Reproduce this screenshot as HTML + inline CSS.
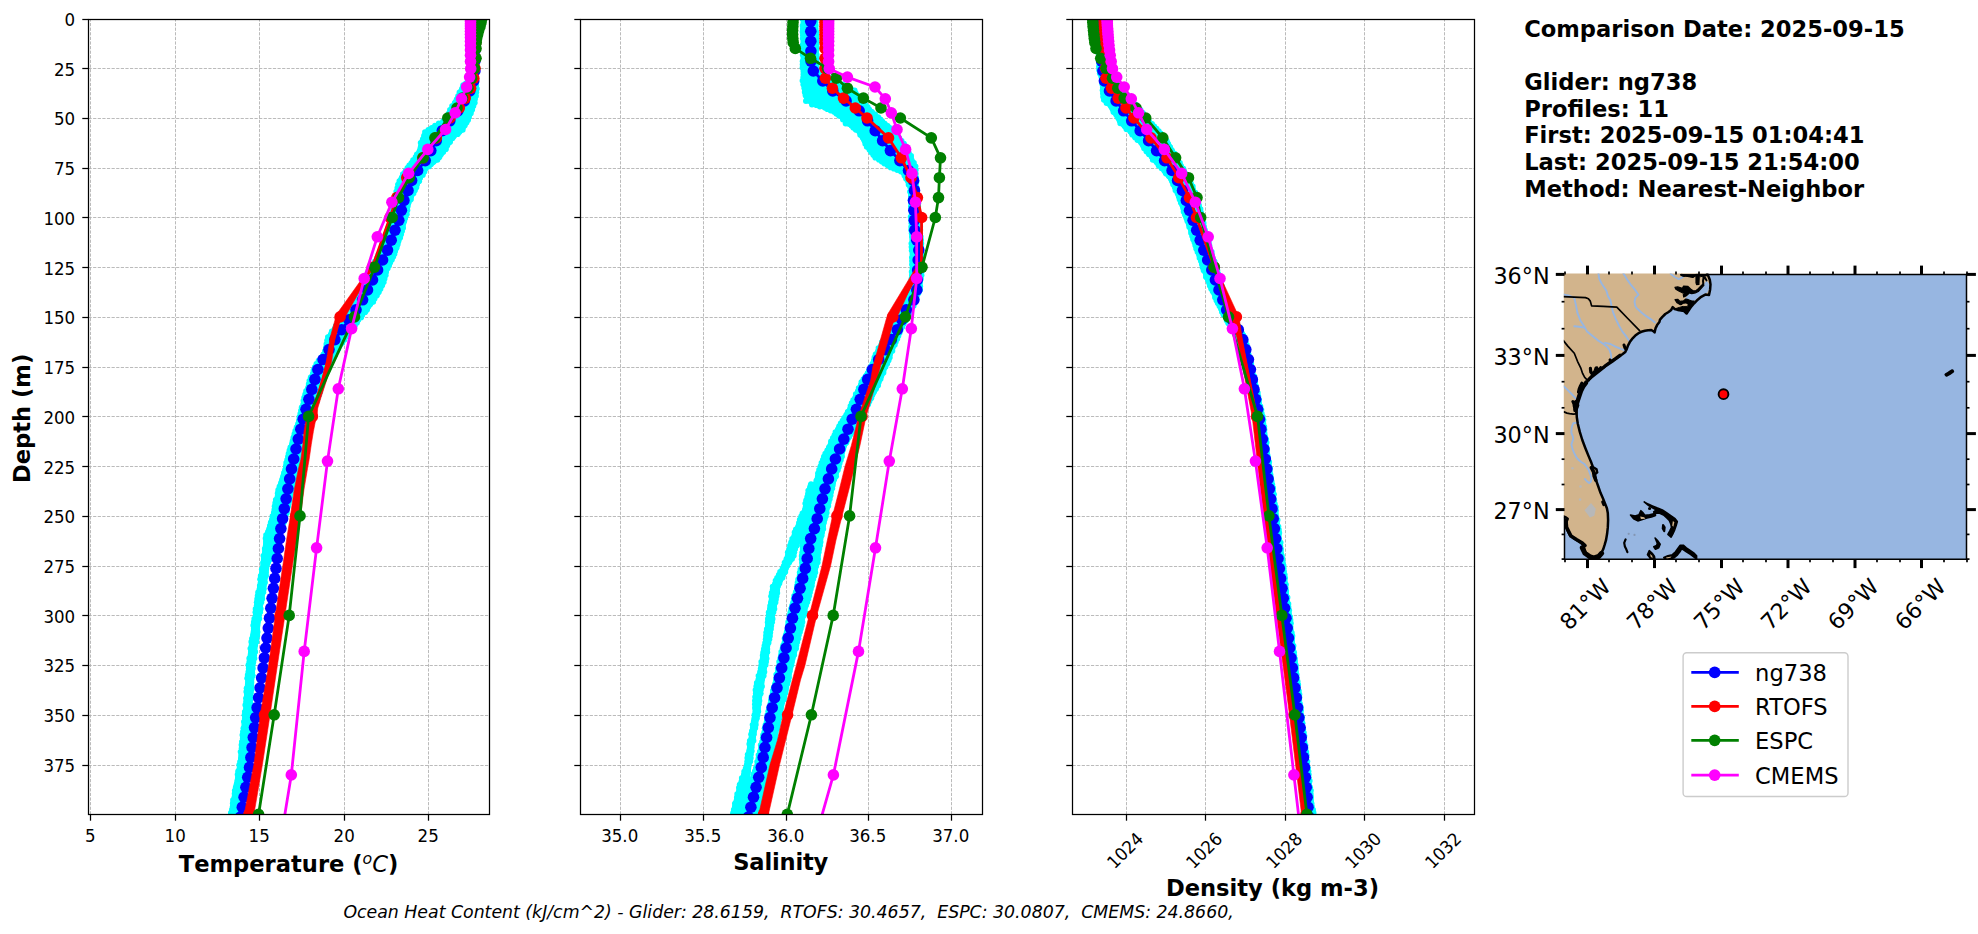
<!DOCTYPE html>
<html lang="en"><head><meta charset="utf-8"><title>Glider / model profile comparison</title>
<style>
html,body{margin:0;padding:0;background:#fff;}
body{width:1978px;height:934px;overflow:hidden;font-family:'DejaVu Sans','Liberation Sans',sans-serif;}
svg{display:block;font-family:'DejaVu Sans','Liberation Sans',sans-serif;}
</style></head><body>
<svg width="1978" height="934" viewBox="0 0 1978 934">
<rect width="1978" height="934" fill="#fff"/>
<clipPath id="clip0"><rect x="88.5" y="19.5" width="401" height="795"/></clipPath>
<g id="ax0-grid" stroke="#b0b0b0" stroke-width="0.87" stroke-dasharray="3.22 1.39" fill="none">
<line x1="90.5" y1="814.5" x2="90.5" y2="19.5"/>
<line x1="175.5" y1="814.5" x2="175.5" y2="19.5"/>
<line x1="259.5" y1="814.5" x2="259.5" y2="19.5"/>
<line x1="344.5" y1="814.5" x2="344.5" y2="19.5"/>
<line x1="428.5" y1="814.5" x2="428.5" y2="19.5"/>
<line x1="88.5" y1="68.5" x2="489.5" y2="68.5"/>
<line x1="88.5" y1="118.5" x2="489.5" y2="118.5"/>
<line x1="88.5" y1="168.5" x2="489.5" y2="168.5"/>
<line x1="88.5" y1="217.5" x2="489.5" y2="217.5"/>
<line x1="88.5" y1="267.5" x2="489.5" y2="267.5"/>
<line x1="88.5" y1="317.5" x2="489.5" y2="317.5"/>
<line x1="88.5" y1="367.5" x2="489.5" y2="367.5"/>
<line x1="88.5" y1="416.5" x2="489.5" y2="416.5"/>
<line x1="88.5" y1="466.5" x2="489.5" y2="466.5"/>
<line x1="88.5" y1="516.5" x2="489.5" y2="516.5"/>
<line x1="88.5" y1="566.5" x2="489.5" y2="566.5"/>
<line x1="88.5" y1="615.5" x2="489.5" y2="615.5"/>
<line x1="88.5" y1="665.5" x2="489.5" y2="665.5"/>
<line x1="88.5" y1="715.5" x2="489.5" y2="715.5"/>
<line x1="88.5" y1="765.5" x2="489.5" y2="765.5"/>
</g>
<g clip-path="url(#clip0)">
<polygon points="470.5,19 470.5,80 462.1,85 457.5,96 451.8,106 447.5,113.5 447.1,117 442.5,121 434.3,125.6 424.6,132 420.3,142.8 418.2,151.3 412.8,160 404.3,170.6 398.5,181 393.5,202 391.5,218 379.5,251 371.5,268 362.5,285 353.5,302 339.5,320 327.5,337 324.5,351 313.9,367 305.5,391 298.9,417 291.5,441 285,466 277.5,490 272.2,516 265.7,535 261.8,566 254.3,615.5 247.9,665 244.2,715 238.9,765 228.5,822.5 238.5,822.5 248.5,765 251.5,714.9 251,700 254,665.2 260,615.5 268,565.8 276.5,545 286.5,516 298.5,466 312.5,417 328.5,367 346.5,337 359.5,320 373.5,302 383,285.6 388.1,268.5 396.5,251 406.5,218 409.8,202.7 419.5,181.3 427,168.5 437.7,160 446.3,149.2 452.7,138.5 463.4,130 465.5,125.6 469.8,117 471.5,113.5 474.5,106 476.5,96 477.5,85 476.2,80.7 476.5,19" fill="#00ffff" stroke="#00ffff" stroke-width="3" stroke-linejoin="round"/>
<g fill="#00ffff"><circle cx="471.3" cy="19" r="2.8"/><circle cx="470.8" cy="22.2" r="2.8"/><circle cx="471.4" cy="25.4" r="2.8"/><circle cx="470.7" cy="28.6" r="2.8"/><circle cx="471.1" cy="31.8" r="2.8"/><circle cx="471.1" cy="35.1" r="2.8"/><circle cx="471.2" cy="38.3" r="2.8"/><circle cx="470.9" cy="41.5" r="2.8"/><circle cx="470.8" cy="44.7" r="2.8"/><circle cx="470.9" cy="47.9" r="2.8"/><circle cx="471.7" cy="51.1" r="2.8"/><circle cx="470.7" cy="54.3" r="2.8"/><circle cx="470.8" cy="57.5" r="2.8"/><circle cx="471.3" cy="60.7" r="2.8"/><circle cx="471.6" cy="63.9" r="2.8"/><circle cx="472.2" cy="67.2" r="2.8"/><circle cx="471.7" cy="70.4" r="2.8"/><circle cx="471" cy="73.6" r="2.8"/><circle cx="471.1" cy="76.8" r="2.8"/><circle cx="471.3" cy="80" r="2.8"/><circle cx="468" cy="81.7" r="2.8"/><circle cx="465.8" cy="83.3" r="2.8"/><circle cx="463.1" cy="85" r="2.8"/><circle cx="462.2" cy="88.7" r="2.8"/><circle cx="459.4" cy="92.3" r="2.8"/><circle cx="458" cy="96" r="2.8"/><circle cx="456.6" cy="99.3" r="2.8"/><circle cx="454.7" cy="102.7" r="2.8"/><circle cx="452" cy="106" r="2.8"/><circle cx="449.9" cy="109.8" r="2.8"/><circle cx="448.6" cy="113.5" r="2.8"/><circle cx="447.3" cy="117" r="2.8"/><circle cx="443.2" cy="121" r="2.8"/><circle cx="438.7" cy="123.3" r="2.8"/><circle cx="435" cy="125.6" r="2.8"/><circle cx="431.7" cy="127.7" r="2.8"/><circle cx="428.3" cy="129.9" r="2.8"/><circle cx="424.9" cy="132" r="2.8"/><circle cx="424" cy="135.6" r="2.8"/><circle cx="422.7" cy="139.2" r="2.8"/><circle cx="420.6" cy="142.8" r="2.8"/><circle cx="420.9" cy="147.1" r="2.8"/><circle cx="419.4" cy="151.3" r="2.8"/><circle cx="416.8" cy="154.2" r="2.8"/><circle cx="415.5" cy="157.1" r="2.8"/><circle cx="413" cy="160" r="2.8"/><circle cx="411.4" cy="162.7" r="2.8"/><circle cx="409.2" cy="165.3" r="2.8"/><circle cx="407.4" cy="167.9" r="2.8"/><circle cx="405.7" cy="170.6" r="2.8"/><circle cx="402.8" cy="174.1" r="2.8"/><circle cx="401.7" cy="177.5" r="2.8"/><circle cx="399.3" cy="181" r="2.8"/><circle cx="397.9" cy="184.5" r="2.8"/><circle cx="397.2" cy="188" r="2.8"/><circle cx="396.2" cy="191.5" r="2.8"/><circle cx="395.8" cy="195" r="2.8"/><circle cx="394.7" cy="198.5" r="2.8"/><circle cx="393.7" cy="202" r="2.8"/><circle cx="394.3" cy="205.2" r="2.8"/><circle cx="392.9" cy="208.4" r="2.8"/><circle cx="392.5" cy="211.6" r="2.8"/><circle cx="392.2" cy="214.8" r="2.8"/><circle cx="392.9" cy="218" r="2.8"/><circle cx="391" cy="221.3" r="2.8"/><circle cx="389.7" cy="224.6" r="2.8"/><circle cx="388.3" cy="227.9" r="2.8"/><circle cx="386.9" cy="231.2" r="2.8"/><circle cx="386" cy="234.5" r="2.8"/><circle cx="384.6" cy="237.8" r="2.8"/><circle cx="383.5" cy="241.1" r="2.8"/><circle cx="382.1" cy="244.4" r="2.8"/><circle cx="382.2" cy="247.7" r="2.8"/><circle cx="380.6" cy="251" r="2.8"/><circle cx="378.4" cy="254.4" r="2.8"/><circle cx="377" cy="257.8" r="2.8"/><circle cx="374.9" cy="261.2" r="2.8"/><circle cx="374.7" cy="264.6" r="2.8"/><circle cx="371.7" cy="268" r="2.8"/><circle cx="370.4" cy="270.8" r="2.8"/><circle cx="369.5" cy="273.7" r="2.8"/><circle cx="368" cy="276.5" r="2.8"/><circle cx="366.7" cy="279.3" r="2.8"/><circle cx="364.3" cy="282.2" r="2.8"/><circle cx="363.4" cy="285" r="2.8"/><circle cx="361.2" cy="287.8" r="2.8"/><circle cx="361.2" cy="290.7" r="2.8"/><circle cx="358.2" cy="293.5" r="2.8"/><circle cx="356.7" cy="296.3" r="2.8"/><circle cx="356.7" cy="299.2" r="2.8"/><circle cx="354.4" cy="302" r="2.8"/><circle cx="351.7" cy="304.6" r="2.8"/><circle cx="349.8" cy="307.1" r="2.8"/><circle cx="348.3" cy="309.7" r="2.8"/><circle cx="345.7" cy="312.3" r="2.8"/><circle cx="344.9" cy="314.9" r="2.8"/><circle cx="342" cy="317.4" r="2.8"/><circle cx="340.8" cy="320" r="2.8"/><circle cx="338.1" cy="322.8" r="2.8"/><circle cx="335.7" cy="325.7" r="2.8"/><circle cx="334.6" cy="328.5" r="2.8"/><circle cx="331.7" cy="331.3" r="2.8"/><circle cx="330.7" cy="334.2" r="2.8"/><circle cx="327.8" cy="337" r="2.8"/><circle cx="327" cy="340.5" r="2.8"/><circle cx="326.3" cy="344" r="2.8"/><circle cx="325.8" cy="347.5" r="2.8"/><circle cx="324.8" cy="351" r="2.8"/><circle cx="323.4" cy="354.2" r="2.8"/><circle cx="321.2" cy="357.4" r="2.8"/><circle cx="318.5" cy="360.6" r="2.8"/><circle cx="316.3" cy="363.8" r="2.8"/><circle cx="314.8" cy="367" r="2.8"/><circle cx="313.4" cy="370.4" r="2.8"/><circle cx="312.9" cy="373.9" r="2.8"/><circle cx="310.6" cy="377.3" r="2.8"/><circle cx="309.3" cy="380.7" r="2.8"/><circle cx="308.6" cy="384.1" r="2.8"/><circle cx="308.4" cy="387.6" r="2.8"/><circle cx="306" cy="391" r="2.8"/><circle cx="305.1" cy="394.2" r="2.8"/><circle cx="304.1" cy="397.5" r="2.8"/><circle cx="303.3" cy="400.8" r="2.8"/><circle cx="303.2" cy="404" r="2.8"/><circle cx="301.6" cy="407.2" r="2.8"/><circle cx="300.9" cy="410.5" r="2.8"/><circle cx="300.2" cy="413.8" r="2.8"/><circle cx="299.3" cy="417" r="2.8"/><circle cx="299" cy="420.4" r="2.8"/><circle cx="298.2" cy="423.9" r="2.8"/><circle cx="296.5" cy="427.3" r="2.8"/><circle cx="295.2" cy="430.7" r="2.8"/><circle cx="294.3" cy="434.1" r="2.8"/><circle cx="293.3" cy="437.6" r="2.8"/><circle cx="292.5" cy="441" r="2.8"/><circle cx="292.1" cy="444.1" r="2.8"/><circle cx="290.3" cy="447.2" r="2.8"/><circle cx="289.4" cy="450.4" r="2.8"/><circle cx="288.5" cy="453.5" r="2.8"/><circle cx="287.9" cy="456.6" r="2.8"/><circle cx="287.1" cy="459.8" r="2.8"/><circle cx="286.1" cy="462.9" r="2.8"/><circle cx="285.8" cy="466" r="2.8"/><circle cx="285.4" cy="469.4" r="2.8"/><circle cx="284" cy="472.9" r="2.8"/><circle cx="283.3" cy="476.3" r="2.8"/><circle cx="282.2" cy="479.7" r="2.8"/><circle cx="281.1" cy="483.1" r="2.8"/><circle cx="279.4" cy="486.6" r="2.8"/><circle cx="278.1" cy="490" r="2.8"/><circle cx="277.6" cy="493.2" r="2.8"/><circle cx="277.8" cy="496.5" r="2.8"/><circle cx="275.7" cy="499.8" r="2.8"/><circle cx="275.1" cy="503" r="2.8"/><circle cx="274.5" cy="506.2" r="2.8"/><circle cx="274.3" cy="509.5" r="2.8"/><circle cx="273.7" cy="512.8" r="2.8"/><circle cx="272.4" cy="516" r="2.8"/><circle cx="271.9" cy="519.2" r="2.8"/><circle cx="270.7" cy="522.3" r="2.8"/><circle cx="269.9" cy="525.5" r="2.8"/><circle cx="269.3" cy="528.7" r="2.8"/><circle cx="268" cy="531.8" r="2.8"/><circle cx="266" cy="535" r="2.8"/><circle cx="265.5" cy="538.4" r="2.8"/><circle cx="265.9" cy="541.9" r="2.8"/><circle cx="265.9" cy="545.3" r="2.8"/><circle cx="264.7" cy="548.8" r="2.8"/><circle cx="265" cy="552.2" r="2.8"/><circle cx="263.3" cy="555.7" r="2.8"/><circle cx="263.7" cy="559.1" r="2.8"/><circle cx="263" cy="562.6" r="2.8"/><circle cx="263.1" cy="566" r="2.8"/><circle cx="261.7" cy="569.3" r="2.8"/><circle cx="262" cy="572.6" r="2.8"/><circle cx="260.6" cy="575.9" r="2.8"/><circle cx="260" cy="579.2" r="2.8"/><circle cx="260.7" cy="582.5" r="2.8"/><circle cx="259.7" cy="585.8" r="2.8"/><circle cx="259.5" cy="589.1" r="2.8"/><circle cx="258" cy="592.4" r="2.8"/><circle cx="257.5" cy="595.7" r="2.8"/><circle cx="257" cy="599" r="2.8"/><circle cx="256.6" cy="602.3" r="2.8"/><circle cx="256.6" cy="605.6" r="2.8"/><circle cx="255.5" cy="608.9" r="2.8"/><circle cx="255.3" cy="612.2" r="2.8"/><circle cx="255.7" cy="615.5" r="2.8"/><circle cx="254.2" cy="618.8" r="2.8"/><circle cx="253.7" cy="622.1" r="2.8"/><circle cx="253.2" cy="625.4" r="2.8"/><circle cx="253.7" cy="628.7" r="2.8"/><circle cx="253.7" cy="632" r="2.8"/><circle cx="253" cy="635.3" r="2.8"/><circle cx="251.9" cy="638.6" r="2.8"/><circle cx="251.2" cy="641.9" r="2.8"/><circle cx="251.5" cy="645.2" r="2.8"/><circle cx="250.3" cy="648.5" r="2.8"/><circle cx="250.9" cy="651.8" r="2.8"/><circle cx="250.8" cy="655.1" r="2.8"/><circle cx="249.2" cy="658.4" r="2.8"/><circle cx="249.3" cy="661.7" r="2.8"/><circle cx="248.3" cy="665" r="2.8"/><circle cx="248.7" cy="668.3" r="2.8"/><circle cx="248.3" cy="671.7" r="2.8"/><circle cx="247.6" cy="675" r="2.8"/><circle cx="247.1" cy="678.3" r="2.8"/><circle cx="248.1" cy="681.7" r="2.8"/><circle cx="247.7" cy="685" r="2.8"/><circle cx="246.5" cy="688.3" r="2.8"/><circle cx="246.2" cy="691.7" r="2.8"/><circle cx="246.8" cy="695" r="2.8"/><circle cx="245.9" cy="698.3" r="2.8"/><circle cx="246" cy="701.7" r="2.8"/><circle cx="245.2" cy="705" r="2.8"/><circle cx="246.2" cy="708.3" r="2.8"/><circle cx="244.7" cy="711.7" r="2.8"/><circle cx="244.4" cy="715" r="2.8"/><circle cx="244.8" cy="718.3" r="2.8"/><circle cx="243.8" cy="721.7" r="2.8"/><circle cx="244.4" cy="725" r="2.8"/><circle cx="243.3" cy="728.3" r="2.8"/><circle cx="242.8" cy="731.7" r="2.8"/><circle cx="242.3" cy="735" r="2.8"/><circle cx="242.7" cy="738.3" r="2.8"/><circle cx="241.8" cy="741.7" r="2.8"/><circle cx="241.4" cy="745" r="2.8"/><circle cx="241.5" cy="748.3" r="2.8"/><circle cx="240.5" cy="751.7" r="2.8"/><circle cx="241.3" cy="755" r="2.8"/><circle cx="241" cy="758.3" r="2.8"/><circle cx="240" cy="761.7" r="2.8"/><circle cx="239.1" cy="765" r="2.8"/><circle cx="239.5" cy="768.2" r="2.8"/><circle cx="238" cy="771.4" r="2.8"/><circle cx="237.5" cy="774.6" r="2.8"/><circle cx="237.9" cy="777.8" r="2.8"/><circle cx="237.4" cy="781" r="2.8"/><circle cx="236.5" cy="784.2" r="2.8"/><circle cx="235.6" cy="787.4" r="2.8"/><circle cx="234.7" cy="790.6" r="2.8"/><circle cx="234.5" cy="793.8" r="2.8"/><circle cx="234.7" cy="796.9" r="2.8"/><circle cx="232.9" cy="800.1" r="2.8"/><circle cx="232.7" cy="803.3" r="2.8"/><circle cx="232.7" cy="806.5" r="2.8"/><circle cx="231.9" cy="809.7" r="2.8"/><circle cx="230.8" cy="812.9" r="2.8"/><circle cx="229.9" cy="816.1" r="2.8"/><circle cx="230.1" cy="819.3" r="2.8"/><circle cx="475.9" cy="19" r="2.8"/><circle cx="474.9" cy="22.2" r="2.8"/><circle cx="476.1" cy="25.5" r="2.8"/><circle cx="474.9" cy="28.7" r="2.8"/><circle cx="476.1" cy="32" r="2.8"/><circle cx="475" cy="35.2" r="2.8"/><circle cx="476.2" cy="38.5" r="2.8"/><circle cx="474.8" cy="41.7" r="2.8"/><circle cx="475.9" cy="45" r="2.8"/><circle cx="476.2" cy="48.2" r="2.8"/><circle cx="475.9" cy="51.5" r="2.8"/><circle cx="476.1" cy="54.7" r="2.8"/><circle cx="476" cy="58" r="2.8"/><circle cx="476.1" cy="61.2" r="2.8"/><circle cx="476.1" cy="64.5" r="2.8"/><circle cx="476" cy="67.7" r="2.8"/><circle cx="475.3" cy="71" r="2.8"/><circle cx="476" cy="74.2" r="2.8"/><circle cx="475.9" cy="77.5" r="2.8"/><circle cx="475.8" cy="80.7" r="2.8"/><circle cx="476.4" cy="85" r="2.8"/><circle cx="477" cy="88.7" r="2.8"/><circle cx="476.4" cy="92.3" r="2.8"/><circle cx="476.1" cy="96" r="2.8"/><circle cx="475" cy="99.3" r="2.8"/><circle cx="474.9" cy="102.7" r="2.8"/><circle cx="473.5" cy="106" r="2.8"/><circle cx="472.3" cy="109.8" r="2.8"/><circle cx="470.9" cy="113.5" r="2.8"/><circle cx="469.1" cy="117" r="2.8"/><circle cx="468.2" cy="119.9" r="2.8"/><circle cx="466.6" cy="122.7" r="2.8"/><circle cx="464.9" cy="125.6" r="2.8"/><circle cx="462.8" cy="130" r="2.8"/><circle cx="459.5" cy="132.1" r="2.8"/><circle cx="457.8" cy="134.2" r="2.8"/><circle cx="453.8" cy="136.4" r="2.8"/><circle cx="452.5" cy="138.5" r="2.8"/><circle cx="450.2" cy="142.1" r="2.8"/><circle cx="447.4" cy="145.6" r="2.8"/><circle cx="446" cy="149.2" r="2.8"/><circle cx="443.4" cy="151.9" r="2.8"/><circle cx="441.1" cy="154.6" r="2.8"/><circle cx="439.5" cy="157.3" r="2.8"/><circle cx="437.5" cy="160" r="2.8"/><circle cx="433.6" cy="162.1" r="2.8"/><circle cx="431.2" cy="164.2" r="2.8"/><circle cx="429.1" cy="166.4" r="2.8"/><circle cx="425.9" cy="168.5" r="2.8"/><circle cx="424.6" cy="171.7" r="2.8"/><circle cx="423" cy="174.9" r="2.8"/><circle cx="420.2" cy="178.1" r="2.8"/><circle cx="419.3" cy="181.3" r="2.8"/><circle cx="417.1" cy="184.4" r="2.8"/><circle cx="416.5" cy="187.4" r="2.8"/><circle cx="415" cy="190.5" r="2.8"/><circle cx="413.6" cy="193.5" r="2.8"/><circle cx="411.3" cy="196.6" r="2.8"/><circle cx="411" cy="199.6" r="2.8"/><circle cx="408.7" cy="202.7" r="2.8"/><circle cx="407.5" cy="206.5" r="2.8"/><circle cx="407.5" cy="210.3" r="2.8"/><circle cx="406.9" cy="214.2" r="2.8"/><circle cx="405.2" cy="218" r="2.8"/><circle cx="404.3" cy="221.3" r="2.8"/><circle cx="402.8" cy="224.6" r="2.8"/><circle cx="403.2" cy="227.9" r="2.8"/><circle cx="402.1" cy="231.2" r="2.8"/><circle cx="401.2" cy="234.5" r="2.8"/><circle cx="400.3" cy="237.8" r="2.8"/><circle cx="398.7" cy="241.1" r="2.8"/><circle cx="397.8" cy="244.4" r="2.8"/><circle cx="396.8" cy="247.7" r="2.8"/><circle cx="395.2" cy="251" r="2.8"/><circle cx="394.6" cy="253.9" r="2.8"/><circle cx="393.4" cy="256.8" r="2.8"/><circle cx="392" cy="259.8" r="2.8"/><circle cx="390.3" cy="262.7" r="2.8"/><circle cx="389.2" cy="265.6" r="2.8"/><circle cx="387.8" cy="268.5" r="2.8"/><circle cx="386.2" cy="271.9" r="2.8"/><circle cx="385.8" cy="275.3" r="2.8"/><circle cx="384.7" cy="278.8" r="2.8"/><circle cx="383.8" cy="282.2" r="2.8"/><circle cx="382.3" cy="285.6" r="2.8"/><circle cx="380.6" cy="288.9" r="2.8"/><circle cx="378.9" cy="292.2" r="2.8"/><circle cx="377" cy="295.4" r="2.8"/><circle cx="374.7" cy="298.7" r="2.8"/><circle cx="373.3" cy="302" r="2.8"/><circle cx="370.2" cy="304.6" r="2.8"/><circle cx="368.2" cy="307.1" r="2.8"/><circle cx="367.2" cy="309.7" r="2.8"/><circle cx="365.3" cy="312.3" r="2.8"/><circle cx="362.4" cy="314.9" r="2.8"/><circle cx="361.3" cy="317.4" r="2.8"/><circle cx="358.4" cy="320" r="2.8"/><circle cx="357.1" cy="322.8" r="2.8"/><circle cx="355" cy="325.7" r="2.8"/><circle cx="352.5" cy="328.5" r="2.8"/><circle cx="349.8" cy="331.3" r="2.8"/><circle cx="347.7" cy="334.2" r="2.8"/><circle cx="345.6" cy="337" r="2.8"/><circle cx="344.5" cy="340" r="2.8"/><circle cx="342.4" cy="343" r="2.8"/><circle cx="339.7" cy="346" r="2.8"/><circle cx="338.4" cy="349" r="2.8"/><circle cx="336.7" cy="352" r="2.8"/><circle cx="335.2" cy="355" r="2.8"/><circle cx="333.4" cy="358" r="2.8"/><circle cx="331.7" cy="361" r="2.8"/><circle cx="329.7" cy="364" r="2.8"/><circle cx="326.9" cy="367" r="2.8"/><circle cx="326.3" cy="370.1" r="2.8"/><circle cx="326.1" cy="373.2" r="2.8"/><circle cx="323.9" cy="376.4" r="2.8"/><circle cx="323.7" cy="379.5" r="2.8"/><circle cx="322.7" cy="382.6" r="2.8"/><circle cx="321.9" cy="385.8" r="2.8"/><circle cx="320.8" cy="388.9" r="2.8"/><circle cx="320.3" cy="392" r="2.8"/><circle cx="319.3" cy="395.1" r="2.8"/><circle cx="317.9" cy="398.2" r="2.8"/><circle cx="317.2" cy="401.4" r="2.8"/><circle cx="315.4" cy="404.5" r="2.8"/><circle cx="315.2" cy="407.6" r="2.8"/><circle cx="314.3" cy="410.8" r="2.8"/><circle cx="312.6" cy="413.9" r="2.8"/><circle cx="312.3" cy="417" r="2.8"/><circle cx="310.8" cy="420.3" r="2.8"/><circle cx="310.4" cy="423.5" r="2.8"/><circle cx="309.5" cy="426.8" r="2.8"/><circle cx="308.6" cy="430.1" r="2.8"/><circle cx="307.6" cy="433.3" r="2.8"/><circle cx="305.8" cy="436.6" r="2.8"/><circle cx="305.4" cy="439.9" r="2.8"/><circle cx="304.6" cy="443.1" r="2.8"/><circle cx="303.8" cy="446.4" r="2.8"/><circle cx="302.9" cy="449.7" r="2.8"/><circle cx="301.3" cy="452.9" r="2.8"/><circle cx="300.9" cy="456.2" r="2.8"/><circle cx="300.2" cy="459.5" r="2.8"/><circle cx="299.1" cy="462.7" r="2.8"/><circle cx="298.2" cy="466" r="2.8"/><circle cx="297.1" cy="469.1" r="2.8"/><circle cx="295.7" cy="472.2" r="2.8"/><circle cx="295.7" cy="475.4" r="2.8"/><circle cx="294.9" cy="478.5" r="2.8"/><circle cx="293.7" cy="481.6" r="2.8"/><circle cx="292.7" cy="484.8" r="2.8"/><circle cx="291.7" cy="487.9" r="2.8"/><circle cx="291.8" cy="491" r="2.8"/><circle cx="290.1" cy="494.1" r="2.8"/><circle cx="290" cy="497.2" r="2.8"/><circle cx="289.6" cy="500.4" r="2.8"/><circle cx="288.8" cy="503.5" r="2.8"/><circle cx="288.2" cy="506.6" r="2.8"/><circle cx="286.6" cy="509.8" r="2.8"/><circle cx="287" cy="512.9" r="2.8"/><circle cx="285.5" cy="516" r="2.8"/><circle cx="285.2" cy="519.2" r="2.8"/><circle cx="284" cy="522.4" r="2.8"/><circle cx="282.8" cy="525.7" r="2.8"/><circle cx="281.2" cy="528.9" r="2.8"/><circle cx="280.5" cy="532.1" r="2.8"/><circle cx="279.4" cy="535.3" r="2.8"/><circle cx="277.8" cy="538.6" r="2.8"/><circle cx="276.5" cy="541.8" r="2.8"/><circle cx="276.2" cy="545" r="2.8"/><circle cx="274" cy="548" r="2.8"/><circle cx="273.8" cy="550.9" r="2.8"/><circle cx="271.9" cy="553.9" r="2.8"/><circle cx="271.3" cy="556.9" r="2.8"/><circle cx="269.4" cy="559.9" r="2.8"/><circle cx="267.9" cy="562.8" r="2.8"/><circle cx="266.7" cy="565.8" r="2.8"/><circle cx="266.4" cy="569.1" r="2.8"/><circle cx="266.1" cy="572.4" r="2.8"/><circle cx="266.2" cy="575.7" r="2.8"/><circle cx="264.8" cy="579.1" r="2.8"/><circle cx="265.1" cy="582.4" r="2.8"/><circle cx="264" cy="585.7" r="2.8"/><circle cx="264" cy="589" r="2.8"/><circle cx="263.5" cy="592.3" r="2.8"/><circle cx="262.1" cy="595.6" r="2.8"/><circle cx="262.4" cy="598.9" r="2.8"/><circle cx="261.5" cy="602.2" r="2.8"/><circle cx="260.1" cy="605.6" r="2.8"/><circle cx="260.8" cy="608.9" r="2.8"/><circle cx="260.3" cy="612.2" r="2.8"/><circle cx="258.9" cy="615.5" r="2.8"/><circle cx="259.4" cy="618.8" r="2.8"/><circle cx="257.6" cy="622.1" r="2.8"/><circle cx="257.3" cy="625.4" r="2.8"/><circle cx="257" cy="628.8" r="2.8"/><circle cx="257.7" cy="632.1" r="2.8"/><circle cx="257.4" cy="635.4" r="2.8"/><circle cx="256.7" cy="638.7" r="2.8"/><circle cx="256.6" cy="642" r="2.8"/><circle cx="255.2" cy="645.3" r="2.8"/><circle cx="254.3" cy="648.6" r="2.8"/><circle cx="255.3" cy="651.9" r="2.8"/><circle cx="254.2" cy="655.3" r="2.8"/><circle cx="254.5" cy="658.6" r="2.8"/><circle cx="253.6" cy="661.9" r="2.8"/><circle cx="252.5" cy="665.2" r="2.8"/><circle cx="252.9" cy="668.7" r="2.8"/><circle cx="252.3" cy="672.2" r="2.8"/><circle cx="252.9" cy="675.6" r="2.8"/><circle cx="251.5" cy="679.1" r="2.8"/><circle cx="251.5" cy="682.6" r="2.8"/><circle cx="251.6" cy="686.1" r="2.8"/><circle cx="251.7" cy="689.6" r="2.8"/><circle cx="251" cy="693" r="2.8"/><circle cx="250.9" cy="696.5" r="2.8"/><circle cx="250.4" cy="700" r="2.8"/><circle cx="250.8" cy="703.7" r="2.8"/><circle cx="251" cy="707.5" r="2.8"/><circle cx="251.1" cy="711.2" r="2.8"/><circle cx="251.1" cy="714.9" r="2.8"/><circle cx="250.7" cy="718.2" r="2.8"/><circle cx="250.7" cy="721.6" r="2.8"/><circle cx="250.7" cy="724.9" r="2.8"/><circle cx="250" cy="728.3" r="2.8"/><circle cx="249.8" cy="731.6" r="2.8"/><circle cx="250.1" cy="734.9" r="2.8"/><circle cx="249.7" cy="738.3" r="2.8"/><circle cx="248.6" cy="741.6" r="2.8"/><circle cx="249.5" cy="745" r="2.8"/><circle cx="249.2" cy="748.3" r="2.8"/><circle cx="248.4" cy="751.6" r="2.8"/><circle cx="247.6" cy="755" r="2.8"/><circle cx="248.6" cy="758.3" r="2.8"/><circle cx="248.4" cy="761.7" r="2.8"/><circle cx="246.9" cy="765" r="2.8"/><circle cx="247.7" cy="768.2" r="2.8"/><circle cx="246.8" cy="771.4" r="2.8"/><circle cx="245.5" cy="774.6" r="2.8"/><circle cx="245.2" cy="777.8" r="2.8"/><circle cx="244.2" cy="781" r="2.8"/><circle cx="244.5" cy="784.2" r="2.8"/><circle cx="243.7" cy="787.4" r="2.8"/><circle cx="243.9" cy="790.6" r="2.8"/><circle cx="243.3" cy="793.8" r="2.8"/><circle cx="242.4" cy="796.9" r="2.8"/><circle cx="241.2" cy="800.1" r="2.8"/><circle cx="241.3" cy="803.3" r="2.8"/><circle cx="240.9" cy="806.5" r="2.8"/><circle cx="240" cy="809.7" r="2.8"/><circle cx="238.6" cy="812.9" r="2.8"/><circle cx="239.4" cy="816.1" r="2.8"/><circle cx="238.7" cy="819.3" r="2.8"/></g>
<polyline points="474.1,21.3 474.3,31.3 474.5,41.2 474.7,51.1 474.9,61.1 474.9,71 473.7,81 469.8,90.9 464.3,100.9 457.8,110.8 449.8,120.8 442.3,130.7 436.2,140.7 430.8,150.6 425.2,160.6 417.6,170.5 411.6,180.5 408,190.4 403.9,200.4 401.4,210.3 398.8,220.3 395,230.2 391.2,240.2 387.5,250.1 382.6,260 377.6,270 372.5,279.9 367.5,289.9 362.6,299.8 356,309.8 348.9,319.7 341.7,329.7 334.9,339.6 329,349.6 323.1,359.5 317.9,369.5 314.9,379.4 311.8,389.4 308.9,399.3 306,409.3 303.2,419.2 300.8,429.2 298.3,439.1 296,449 293.7,459 291.5,468.9 289.7,478.9 287.9,488.8 286.1,498.8 284.3,508.7 282.6,518.7 280.9,528.6 279.6,538.6 278.4,548.5 277.2,558.5 276,568.4 274.7,578.4 273.4,588.3 272.1,598.3 270.8,608.2 269.5,618.2 268.3,628.1 267,638.1 265.7,648 264.4,657.9 263.1,667.9 261.6,677.8 260.1,687.8 258.6,697.7 257.1,707.7 255.7,717.6 254.5,727.6 253.3,737.5 252.1,747.5 250.9,757.4 249.5,767.4 247.7,777.3 245.9,787.3 244.1,797.2 242.3,807.2 240.4,817.1 238.4,827.1" fill="none" stroke="#0000ff" stroke-width="2.8" stroke-linejoin="round" stroke-linecap="butt" />
<circle cx="474.1" cy="21.3" r="5.8" fill="#0000ff"/>
<circle cx="474.3" cy="31.3" r="5.8" fill="#0000ff"/>
<circle cx="474.5" cy="41.2" r="5.8" fill="#0000ff"/>
<circle cx="474.7" cy="51.1" r="5.8" fill="#0000ff"/>
<circle cx="474.9" cy="61.1" r="5.8" fill="#0000ff"/>
<circle cx="474.9" cy="71" r="5.8" fill="#0000ff"/>
<circle cx="473.7" cy="81" r="5.8" fill="#0000ff"/>
<circle cx="469.8" cy="90.9" r="5.8" fill="#0000ff"/>
<circle cx="464.3" cy="100.9" r="5.8" fill="#0000ff"/>
<circle cx="457.8" cy="110.8" r="5.8" fill="#0000ff"/>
<circle cx="449.8" cy="120.8" r="5.8" fill="#0000ff"/>
<circle cx="442.3" cy="130.7" r="5.8" fill="#0000ff"/>
<circle cx="436.2" cy="140.7" r="5.8" fill="#0000ff"/>
<circle cx="430.8" cy="150.6" r="5.8" fill="#0000ff"/>
<circle cx="425.2" cy="160.6" r="5.8" fill="#0000ff"/>
<circle cx="417.6" cy="170.5" r="5.8" fill="#0000ff"/>
<circle cx="411.6" cy="180.5" r="5.8" fill="#0000ff"/>
<circle cx="408" cy="190.4" r="5.8" fill="#0000ff"/>
<circle cx="403.9" cy="200.4" r="5.8" fill="#0000ff"/>
<circle cx="401.4" cy="210.3" r="5.8" fill="#0000ff"/>
<circle cx="398.8" cy="220.3" r="5.8" fill="#0000ff"/>
<circle cx="395" cy="230.2" r="5.8" fill="#0000ff"/>
<circle cx="391.2" cy="240.2" r="5.8" fill="#0000ff"/>
<circle cx="387.5" cy="250.1" r="5.8" fill="#0000ff"/>
<circle cx="382.6" cy="260" r="5.8" fill="#0000ff"/>
<circle cx="377.6" cy="270" r="5.8" fill="#0000ff"/>
<circle cx="372.5" cy="279.9" r="5.8" fill="#0000ff"/>
<circle cx="367.5" cy="289.9" r="5.8" fill="#0000ff"/>
<circle cx="362.6" cy="299.8" r="5.8" fill="#0000ff"/>
<circle cx="356" cy="309.8" r="5.8" fill="#0000ff"/>
<circle cx="348.9" cy="319.7" r="5.8" fill="#0000ff"/>
<circle cx="341.7" cy="329.7" r="5.8" fill="#0000ff"/>
<circle cx="334.9" cy="339.6" r="5.8" fill="#0000ff"/>
<circle cx="329" cy="349.6" r="5.8" fill="#0000ff"/>
<circle cx="323.1" cy="359.5" r="5.8" fill="#0000ff"/>
<circle cx="317.9" cy="369.5" r="5.8" fill="#0000ff"/>
<circle cx="314.9" cy="379.4" r="5.8" fill="#0000ff"/>
<circle cx="311.8" cy="389.4" r="5.8" fill="#0000ff"/>
<circle cx="308.9" cy="399.3" r="5.8" fill="#0000ff"/>
<circle cx="306" cy="409.3" r="5.8" fill="#0000ff"/>
<circle cx="303.2" cy="419.2" r="5.8" fill="#0000ff"/>
<circle cx="300.8" cy="429.2" r="5.8" fill="#0000ff"/>
<circle cx="298.3" cy="439.1" r="5.8" fill="#0000ff"/>
<circle cx="296" cy="449" r="5.8" fill="#0000ff"/>
<circle cx="293.7" cy="459" r="5.8" fill="#0000ff"/>
<circle cx="291.5" cy="468.9" r="5.8" fill="#0000ff"/>
<circle cx="289.7" cy="478.9" r="5.8" fill="#0000ff"/>
<circle cx="287.9" cy="488.8" r="5.8" fill="#0000ff"/>
<circle cx="286.1" cy="498.8" r="5.8" fill="#0000ff"/>
<circle cx="284.3" cy="508.7" r="5.8" fill="#0000ff"/>
<circle cx="282.6" cy="518.7" r="5.8" fill="#0000ff"/>
<circle cx="280.9" cy="528.6" r="5.8" fill="#0000ff"/>
<circle cx="279.6" cy="538.6" r="5.8" fill="#0000ff"/>
<circle cx="278.4" cy="548.5" r="5.8" fill="#0000ff"/>
<circle cx="277.2" cy="558.5" r="5.8" fill="#0000ff"/>
<circle cx="276" cy="568.4" r="5.8" fill="#0000ff"/>
<circle cx="274.7" cy="578.4" r="5.8" fill="#0000ff"/>
<circle cx="273.4" cy="588.3" r="5.8" fill="#0000ff"/>
<circle cx="272.1" cy="598.3" r="5.8" fill="#0000ff"/>
<circle cx="270.8" cy="608.2" r="5.8" fill="#0000ff"/>
<circle cx="269.5" cy="618.2" r="5.8" fill="#0000ff"/>
<circle cx="268.3" cy="628.1" r="5.8" fill="#0000ff"/>
<circle cx="267" cy="638.1" r="5.8" fill="#0000ff"/>
<circle cx="265.7" cy="648" r="5.8" fill="#0000ff"/>
<circle cx="264.4" cy="657.9" r="5.8" fill="#0000ff"/>
<circle cx="263.1" cy="667.9" r="5.8" fill="#0000ff"/>
<circle cx="261.6" cy="677.8" r="5.8" fill="#0000ff"/>
<circle cx="260.1" cy="687.8" r="5.8" fill="#0000ff"/>
<circle cx="258.6" cy="697.7" r="5.8" fill="#0000ff"/>
<circle cx="257.1" cy="707.7" r="5.8" fill="#0000ff"/>
<circle cx="255.7" cy="717.6" r="5.8" fill="#0000ff"/>
<circle cx="254.5" cy="727.6" r="5.8" fill="#0000ff"/>
<circle cx="253.3" cy="737.5" r="5.8" fill="#0000ff"/>
<circle cx="252.1" cy="747.5" r="5.8" fill="#0000ff"/>
<circle cx="250.9" cy="757.4" r="5.8" fill="#0000ff"/>
<circle cx="249.5" cy="767.4" r="5.8" fill="#0000ff"/>
<circle cx="247.7" cy="777.3" r="5.8" fill="#0000ff"/>
<circle cx="245.9" cy="787.3" r="5.8" fill="#0000ff"/>
<circle cx="244.1" cy="797.2" r="5.8" fill="#0000ff"/>
<circle cx="242.3" cy="807.2" r="5.8" fill="#0000ff"/>
<circle cx="240.4" cy="817.1" r="5.8" fill="#0000ff"/>
<circle cx="238.4" cy="827.1" r="5.8" fill="#0000ff"/>
<polyline points="476.5,18.5 476.5,22.5 476.5,26.5 476.5,30.5 475.8,34.4 475.8,38.4 475.8,42.4 475.5,48.4 475.5,58.3 475,68.3 473.8,78.2 470.6,88.2 465.2,98.1 459.3,108 450,118 436.3,137.9 422.8,157.8 406.8,177.7 396.8,197.6 390,217.5 372.3,267.2 340.1,316.9 312.4,416.4 295.8,515.9 280.1,615.4 264.5,714.8 249,814.3" fill="none" stroke="#ff0000" stroke-width="2.8" stroke-linejoin="round" stroke-linecap="butt" />
<polygon points="369.3,268.5 335.4,316 335,320 330.3,337 326.3,361.4 322,380 316,397.1 311.5,408.3 308,416.4 305.5,422.8 304,431.4 302.9,444.3 300.8,459.7 298.5,468.5 294.2,490 290.4,516 286.7,539 282.8,565.8 275.3,615.5 268.6,665.2 260.3,714.9 253.9,764.6 244.2,814.4 242,825 252,825 253.9,814.4 262.4,764.6 270,714.9 277.4,665.2 284.9,615.5 292.4,565.8 296.8,539 300.6,516 303.9,490 307.5,468.5 309.1,459.7 311.3,444.3 313.4,431.4 315.1,422.8 317,416.4 317.7,408.3 321.1,397.1 326.7,380 331.7,361.4 334.9,337 338.6,320 345.7,316 372.3,268.5" fill="#ff0000" stroke="#ff0000" stroke-width="0.6" stroke-linejoin="round"/>
<circle cx="476.5" cy="18.5" r="5.8" fill="#ff0000"/>
<circle cx="476.5" cy="22.5" r="5.8" fill="#ff0000"/>
<circle cx="476.5" cy="26.5" r="5.8" fill="#ff0000"/>
<circle cx="476.5" cy="30.5" r="5.8" fill="#ff0000"/>
<circle cx="475.8" cy="34.4" r="5.8" fill="#ff0000"/>
<circle cx="475.8" cy="38.4" r="5.8" fill="#ff0000"/>
<circle cx="475.8" cy="42.4" r="5.8" fill="#ff0000"/>
<circle cx="475.5" cy="48.4" r="5.8" fill="#ff0000"/>
<circle cx="475.5" cy="58.3" r="5.8" fill="#ff0000"/>
<circle cx="475" cy="68.3" r="5.8" fill="#ff0000"/>
<circle cx="473.8" cy="78.2" r="5.8" fill="#ff0000"/>
<circle cx="470.6" cy="88.2" r="5.8" fill="#ff0000"/>
<circle cx="465.2" cy="98.1" r="5.8" fill="#ff0000"/>
<circle cx="459.3" cy="108" r="5.8" fill="#ff0000"/>
<circle cx="450" cy="118" r="5.8" fill="#ff0000"/>
<circle cx="436.3" cy="137.9" r="5.8" fill="#ff0000"/>
<circle cx="422.8" cy="157.8" r="5.8" fill="#ff0000"/>
<circle cx="406.8" cy="177.7" r="5.8" fill="#ff0000"/>
<circle cx="396.8" cy="197.6" r="5.8" fill="#ff0000"/>
<circle cx="390" cy="217.5" r="5.8" fill="#ff0000"/>
<circle cx="372.3" cy="267.2" r="5.8" fill="#ff0000"/>
<circle cx="340.1" cy="316.9" r="5.8" fill="#ff0000"/>
<circle cx="312.4" cy="416.4" r="5.8" fill="#ff0000"/>
<circle cx="295.8" cy="515.9" r="5.8" fill="#ff0000"/>
<circle cx="280.1" cy="615.4" r="5.8" fill="#ff0000"/>
<circle cx="264.5" cy="714.8" r="5.8" fill="#ff0000"/>
<circle cx="249" cy="814.3" r="5.8" fill="#ff0000"/>
<polyline points="481.8,18.5 481,22.5 480,26.5 478.6,30.5 477.6,34.4 476.6,38.4 476.2,42.4 476,48.4 476,58.3 474.5,68.3 471.6,78.2 468,88.2 462.5,98.1 457,108 447.8,118 434.9,137.9 423.1,157.8 409.2,177.7 398.5,197.6 392.2,217.5 374.5,267.2 354.5,316.9 308.6,416.4 300,515.9 289.2,615.4 274.2,714.8 258.6,814.3" fill="none" stroke="#008000" stroke-width="2.8" stroke-linejoin="round" stroke-linecap="butt" />
<circle cx="481.8" cy="18.5" r="5.8" fill="#008000"/>
<circle cx="481" cy="22.5" r="5.8" fill="#008000"/>
<circle cx="480" cy="26.5" r="5.8" fill="#008000"/>
<circle cx="478.6" cy="30.5" r="5.8" fill="#008000"/>
<circle cx="477.6" cy="34.4" r="5.8" fill="#008000"/>
<circle cx="476.6" cy="38.4" r="5.8" fill="#008000"/>
<circle cx="476.2" cy="42.4" r="5.8" fill="#008000"/>
<circle cx="476" cy="48.4" r="5.8" fill="#008000"/>
<circle cx="476" cy="58.3" r="5.8" fill="#008000"/>
<circle cx="474.5" cy="68.3" r="5.8" fill="#008000"/>
<circle cx="471.6" cy="78.2" r="5.8" fill="#008000"/>
<circle cx="468" cy="88.2" r="5.8" fill="#008000"/>
<circle cx="462.5" cy="98.1" r="5.8" fill="#008000"/>
<circle cx="457" cy="108" r="5.8" fill="#008000"/>
<circle cx="447.8" cy="118" r="5.8" fill="#008000"/>
<circle cx="434.9" cy="137.9" r="5.8" fill="#008000"/>
<circle cx="423.1" cy="157.8" r="5.8" fill="#008000"/>
<circle cx="409.2" cy="177.7" r="5.8" fill="#008000"/>
<circle cx="398.5" cy="197.6" r="5.8" fill="#008000"/>
<circle cx="392.2" cy="217.5" r="5.8" fill="#008000"/>
<circle cx="374.5" cy="267.2" r="5.8" fill="#008000"/>
<circle cx="354.5" cy="316.9" r="5.8" fill="#008000"/>
<circle cx="308.6" cy="416.4" r="5.8" fill="#008000"/>
<circle cx="300" cy="515.9" r="5.8" fill="#008000"/>
<circle cx="289.2" cy="615.4" r="5.8" fill="#008000"/>
<circle cx="274.2" cy="714.8" r="5.8" fill="#008000"/>
<circle cx="258.6" cy="814.3" r="5.8" fill="#008000"/>
<polyline points="470.5,19.5 470.5,21.6 470.5,23.8 470.5,26.1 470.5,28.6 470.5,31.3 470.5,34.3 470.5,37.6 470.5,41.2 470.5,45.3 470.5,50 470.5,55.3 470.5,61.5 470.7,68.7 469.6,77.1 466.6,87 461.5,98.8 455.2,112.8 445.6,129.5 427.8,149.4 408.6,173.4 391.9,202.2 377.3,236.8 364.2,278.5 351.6,328.6 338.3,388.8 327.5,461.1 316.6,547.8 304.2,651.4 291.3,774.9 267.4,921.6" fill="none" stroke="#ff00ff" stroke-width="2.8" stroke-linejoin="round" stroke-linecap="butt" />
<circle cx="470.5" cy="19.5" r="5.8" fill="#ff00ff"/>
<circle cx="470.5" cy="21.6" r="5.8" fill="#ff00ff"/>
<circle cx="470.5" cy="23.8" r="5.8" fill="#ff00ff"/>
<circle cx="470.5" cy="26.1" r="5.8" fill="#ff00ff"/>
<circle cx="470.5" cy="28.6" r="5.8" fill="#ff00ff"/>
<circle cx="470.5" cy="31.3" r="5.8" fill="#ff00ff"/>
<circle cx="470.5" cy="34.3" r="5.8" fill="#ff00ff"/>
<circle cx="470.5" cy="37.6" r="5.8" fill="#ff00ff"/>
<circle cx="470.5" cy="41.2" r="5.8" fill="#ff00ff"/>
<circle cx="470.5" cy="45.3" r="5.8" fill="#ff00ff"/>
<circle cx="470.5" cy="50" r="5.8" fill="#ff00ff"/>
<circle cx="470.5" cy="55.3" r="5.8" fill="#ff00ff"/>
<circle cx="470.5" cy="61.5" r="5.8" fill="#ff00ff"/>
<circle cx="470.7" cy="68.7" r="5.8" fill="#ff00ff"/>
<circle cx="469.6" cy="77.1" r="5.8" fill="#ff00ff"/>
<circle cx="466.6" cy="87" r="5.8" fill="#ff00ff"/>
<circle cx="461.5" cy="98.8" r="5.8" fill="#ff00ff"/>
<circle cx="455.2" cy="112.8" r="5.8" fill="#ff00ff"/>
<circle cx="445.6" cy="129.5" r="5.8" fill="#ff00ff"/>
<circle cx="427.8" cy="149.4" r="5.8" fill="#ff00ff"/>
<circle cx="408.6" cy="173.4" r="5.8" fill="#ff00ff"/>
<circle cx="391.9" cy="202.2" r="5.8" fill="#ff00ff"/>
<circle cx="377.3" cy="236.8" r="5.8" fill="#ff00ff"/>
<circle cx="364.2" cy="278.5" r="5.8" fill="#ff00ff"/>
<circle cx="351.6" cy="328.6" r="5.8" fill="#ff00ff"/>
<circle cx="338.3" cy="388.8" r="5.8" fill="#ff00ff"/>
<circle cx="327.5" cy="461.1" r="5.8" fill="#ff00ff"/>
<circle cx="316.6" cy="547.8" r="5.8" fill="#ff00ff"/>
<circle cx="304.2" cy="651.4" r="5.8" fill="#ff00ff"/>
<circle cx="291.3" cy="774.9" r="5.8" fill="#ff00ff"/>
<circle cx="267.4" cy="921.6" r="5.8" fill="#ff00ff"/>
</g>
<g stroke="#000" stroke-width="1.25" fill="none">
<line x1="90.5" y1="814.5" x2="90.5" y2="820.7"/>
<line x1="175.5" y1="814.5" x2="175.5" y2="820.7"/>
<line x1="259.5" y1="814.5" x2="259.5" y2="820.7"/>
<line x1="344.5" y1="814.5" x2="344.5" y2="820.7"/>
<line x1="428.5" y1="814.5" x2="428.5" y2="820.7"/>
<line x1="82.3" y1="19.5" x2="88.5" y2="19.5"/>
<line x1="82.3" y1="68.5" x2="88.5" y2="68.5"/>
<line x1="82.3" y1="118.5" x2="88.5" y2="118.5"/>
<line x1="82.3" y1="168.5" x2="88.5" y2="168.5"/>
<line x1="82.3" y1="217.5" x2="88.5" y2="217.5"/>
<line x1="82.3" y1="267.5" x2="88.5" y2="267.5"/>
<line x1="82.3" y1="317.5" x2="88.5" y2="317.5"/>
<line x1="82.3" y1="367.5" x2="88.5" y2="367.5"/>
<line x1="82.3" y1="416.5" x2="88.5" y2="416.5"/>
<line x1="82.3" y1="466.5" x2="88.5" y2="466.5"/>
<line x1="82.3" y1="516.5" x2="88.5" y2="516.5"/>
<line x1="82.3" y1="566.5" x2="88.5" y2="566.5"/>
<line x1="82.3" y1="615.5" x2="88.5" y2="615.5"/>
<line x1="82.3" y1="665.5" x2="88.5" y2="665.5"/>
<line x1="82.3" y1="715.5" x2="88.5" y2="715.5"/>
<line x1="82.3" y1="765.5" x2="88.5" y2="765.5"/>
<rect x="88.5" y="19.5" width="401" height="795" stroke-linejoin="miter"/>
</g>
<clipPath id="clip1"><rect x="580.5" y="19.5" width="402" height="795"/></clipPath>
<g id="ax1-grid" stroke="#b0b0b0" stroke-width="0.87" stroke-dasharray="3.22 1.39" fill="none">
<line x1="620.5" y1="814.5" x2="620.5" y2="19.5"/>
<line x1="703.5" y1="814.5" x2="703.5" y2="19.5"/>
<line x1="786.5" y1="814.5" x2="786.5" y2="19.5"/>
<line x1="868.5" y1="814.5" x2="868.5" y2="19.5"/>
<line x1="951.5" y1="814.5" x2="951.5" y2="19.5"/>
<line x1="580.5" y1="68.5" x2="982.5" y2="68.5"/>
<line x1="580.5" y1="118.5" x2="982.5" y2="118.5"/>
<line x1="580.5" y1="168.5" x2="982.5" y2="168.5"/>
<line x1="580.5" y1="217.5" x2="982.5" y2="217.5"/>
<line x1="580.5" y1="267.5" x2="982.5" y2="267.5"/>
<line x1="580.5" y1="317.5" x2="982.5" y2="317.5"/>
<line x1="580.5" y1="367.5" x2="982.5" y2="367.5"/>
<line x1="580.5" y1="416.5" x2="982.5" y2="416.5"/>
<line x1="580.5" y1="466.5" x2="982.5" y2="466.5"/>
<line x1="580.5" y1="516.5" x2="982.5" y2="516.5"/>
<line x1="580.5" y1="566.5" x2="982.5" y2="566.5"/>
<line x1="580.5" y1="615.5" x2="982.5" y2="615.5"/>
<line x1="580.5" y1="665.5" x2="982.5" y2="665.5"/>
<line x1="580.5" y1="715.5" x2="982.5" y2="715.5"/>
<line x1="580.5" y1="765.5" x2="982.5" y2="765.5"/>
</g>
<g clip-path="url(#clip1)">
<polygon points="802.2,19 802.2,80.7 804.3,95.7 811.5,104 823.5,108 833.5,112 841.5,118 847.5,124 857.9,132 866.5,147 875,157.8 890,167.4 902.8,172.7 909.5,187.7 910,200 911,240 911.5,268 909.5,290 904.5,303 896.5,315 888.5,330 876.5,351 870,367 862.5,379 848.5,409 833.5,435 820.7,462.8 814.5,484 807.5,510 802,535.6 801,566 789.2,615.5 778,665 770.5,700 767,715 756,765 747.5,790 738.5,822.5 758.5,822.5 770.5,765 780.5,715 792.5,665 804.5,615.5 817.3,566 818.8,559 820.9,542 826.3,516.3 832.7,488.5 839.1,467 845.5,445.7 861.5,417 875.5,392 884.2,372.7 886.3,367 892.7,351 901.3,330 909.5,315 915.5,303 920.5,290 922.5,268 921.5,240 918.5,200 917,181.3 915.9,166.3 908.5,149 893.5,130 878.5,117 865.5,104.2 854.9,90.3 834.5,80 817.5,68 816.5,19" fill="#00ffff" stroke="#00ffff" stroke-width="3" stroke-linejoin="round"/>
<g fill="#00ffff"><circle cx="802.4" cy="19" r="2.8"/><circle cx="803.6" cy="22.2" r="2.8"/><circle cx="802.5" cy="25.5" r="2.8"/><circle cx="802.7" cy="28.7" r="2.8"/><circle cx="802.4" cy="32" r="2.8"/><circle cx="802.8" cy="35.2" r="2.8"/><circle cx="802.7" cy="38.5" r="2.8"/><circle cx="803.4" cy="41.7" r="2.8"/><circle cx="802.5" cy="45" r="2.8"/><circle cx="803.3" cy="48.2" r="2.8"/><circle cx="802.7" cy="51.5" r="2.8"/><circle cx="802.6" cy="54.7" r="2.8"/><circle cx="803.5" cy="58" r="2.8"/><circle cx="802.5" cy="61.2" r="2.8"/><circle cx="802.5" cy="64.5" r="2.8"/><circle cx="802.4" cy="67.7" r="2.8"/><circle cx="803.5" cy="71" r="2.8"/><circle cx="803.6" cy="74.2" r="2.8"/><circle cx="803.3" cy="77.5" r="2.8"/><circle cx="802.4" cy="80.7" r="2.8"/><circle cx="803.2" cy="84.5" r="2.8"/><circle cx="804.3" cy="88.2" r="2.8"/><circle cx="804.6" cy="92" r="2.8"/><circle cx="805.6" cy="95.7" r="2.8"/><circle cx="806.9" cy="98.5" r="2.8"/><circle cx="809.3" cy="101.2" r="2.8"/><circle cx="813" cy="104" r="2.8"/><circle cx="816.3" cy="105.3" r="2.8"/><circle cx="819.8" cy="106.7" r="2.8"/><circle cx="825.1" cy="108" r="2.8"/><circle cx="827.3" cy="109.3" r="2.8"/><circle cx="830.6" cy="110.7" r="2.8"/><circle cx="834" cy="112" r="2.8"/><circle cx="836.4" cy="114" r="2.8"/><circle cx="839.1" cy="116" r="2.8"/><circle cx="842.7" cy="118" r="2.8"/><circle cx="845.8" cy="121" r="2.8"/><circle cx="848.6" cy="124" r="2.8"/><circle cx="851.7" cy="126" r="2.8"/><circle cx="853.4" cy="128" r="2.8"/><circle cx="855.8" cy="130" r="2.8"/><circle cx="859.3" cy="132" r="2.8"/><circle cx="860.1" cy="135" r="2.8"/><circle cx="863" cy="138" r="2.8"/><circle cx="864.5" cy="141" r="2.8"/><circle cx="865.2" cy="144" r="2.8"/><circle cx="866.7" cy="147" r="2.8"/><circle cx="869.3" cy="149.7" r="2.8"/><circle cx="871.3" cy="152.4" r="2.8"/><circle cx="873.2" cy="155.1" r="2.8"/><circle cx="875.2" cy="157.8" r="2.8"/><circle cx="878.8" cy="159.7" r="2.8"/><circle cx="881.5" cy="161.6" r="2.8"/><circle cx="884.2" cy="163.6" r="2.8"/><circle cx="887.6" cy="165.5" r="2.8"/><circle cx="890.5" cy="167.4" r="2.8"/><circle cx="893.8" cy="168.7" r="2.8"/><circle cx="897.1" cy="170.1" r="2.8"/><circle cx="900.7" cy="171.4" r="2.8"/><circle cx="903" cy="172.7" r="2.8"/><circle cx="904.4" cy="175.7" r="2.8"/><circle cx="905.9" cy="178.7" r="2.8"/><circle cx="908.1" cy="181.7" r="2.8"/><circle cx="908.5" cy="184.7" r="2.8"/><circle cx="910.3" cy="187.7" r="2.8"/><circle cx="909.9" cy="191.8" r="2.8"/><circle cx="910.8" cy="195.9" r="2.8"/><circle cx="910.5" cy="200" r="2.8"/><circle cx="911.2" cy="203.3" r="2.8"/><circle cx="910.8" cy="206.7" r="2.8"/><circle cx="911.1" cy="210" r="2.8"/><circle cx="911.9" cy="213.3" r="2.8"/><circle cx="910.6" cy="216.7" r="2.8"/><circle cx="911" cy="220" r="2.8"/><circle cx="911.3" cy="223.3" r="2.8"/><circle cx="911.1" cy="226.7" r="2.8"/><circle cx="911" cy="230" r="2.8"/><circle cx="911.6" cy="233.3" r="2.8"/><circle cx="911.9" cy="236.7" r="2.8"/><circle cx="912.5" cy="240" r="2.8"/><circle cx="911.3" cy="243.5" r="2.8"/><circle cx="911.4" cy="247" r="2.8"/><circle cx="911.6" cy="250.5" r="2.8"/><circle cx="912.5" cy="254" r="2.8"/><circle cx="911.8" cy="257.5" r="2.8"/><circle cx="911.9" cy="261" r="2.8"/><circle cx="911.9" cy="264.5" r="2.8"/><circle cx="912.3" cy="268" r="2.8"/><circle cx="911.6" cy="271.7" r="2.8"/><circle cx="911.9" cy="275.3" r="2.8"/><circle cx="911.3" cy="279" r="2.8"/><circle cx="910.4" cy="282.7" r="2.8"/><circle cx="910.4" cy="286.3" r="2.8"/><circle cx="910.7" cy="290" r="2.8"/><circle cx="908.9" cy="293.2" r="2.8"/><circle cx="907.2" cy="296.5" r="2.8"/><circle cx="906.9" cy="299.8" r="2.8"/><circle cx="904.7" cy="303" r="2.8"/><circle cx="903.7" cy="306" r="2.8"/><circle cx="902" cy="309" r="2.8"/><circle cx="900.2" cy="312" r="2.8"/><circle cx="896.8" cy="315" r="2.8"/><circle cx="895.6" cy="318" r="2.8"/><circle cx="894.6" cy="321" r="2.8"/><circle cx="892.7" cy="324" r="2.8"/><circle cx="890.5" cy="327" r="2.8"/><circle cx="888.8" cy="330" r="2.8"/><circle cx="888.4" cy="333" r="2.8"/><circle cx="886.7" cy="336" r="2.8"/><circle cx="885" cy="339" r="2.8"/><circle cx="881.8" cy="342" r="2.8"/><circle cx="881.1" cy="345" r="2.8"/><circle cx="878.4" cy="348" r="2.8"/><circle cx="878.2" cy="351" r="2.8"/><circle cx="875.5" cy="354.2" r="2.8"/><circle cx="874.4" cy="357.4" r="2.8"/><circle cx="873.7" cy="360.6" r="2.8"/><circle cx="872.4" cy="363.8" r="2.8"/><circle cx="870.4" cy="367" r="2.8"/><circle cx="868.9" cy="370" r="2.8"/><circle cx="867.7" cy="373" r="2.8"/><circle cx="865.7" cy="376" r="2.8"/><circle cx="863.4" cy="379" r="2.8"/><circle cx="861.3" cy="382" r="2.8"/><circle cx="860.7" cy="385" r="2.8"/><circle cx="858.6" cy="388" r="2.8"/><circle cx="857.8" cy="391" r="2.8"/><circle cx="855.7" cy="394" r="2.8"/><circle cx="855.4" cy="397" r="2.8"/><circle cx="853.1" cy="400" r="2.8"/><circle cx="851.6" cy="403" r="2.8"/><circle cx="850.4" cy="406" r="2.8"/><circle cx="850.2" cy="409" r="2.8"/><circle cx="847.6" cy="411.9" r="2.8"/><circle cx="846.2" cy="414.8" r="2.8"/><circle cx="844.1" cy="417.7" r="2.8"/><circle cx="842.5" cy="420.6" r="2.8"/><circle cx="840.6" cy="423.4" r="2.8"/><circle cx="839" cy="426.3" r="2.8"/><circle cx="837.8" cy="429.2" r="2.8"/><circle cx="835.4" cy="432.1" r="2.8"/><circle cx="834.4" cy="435" r="2.8"/><circle cx="832.7" cy="438.1" r="2.8"/><circle cx="830.9" cy="441.2" r="2.8"/><circle cx="830.7" cy="444.3" r="2.8"/><circle cx="828.8" cy="447.4" r="2.8"/><circle cx="827.2" cy="450.4" r="2.8"/><circle cx="825.2" cy="453.5" r="2.8"/><circle cx="823.8" cy="456.6" r="2.8"/><circle cx="822.8" cy="459.7" r="2.8"/><circle cx="821.4" cy="462.8" r="2.8"/><circle cx="820.4" cy="466.3" r="2.8"/><circle cx="819" cy="469.9" r="2.8"/><circle cx="817.9" cy="473.4" r="2.8"/><circle cx="817.7" cy="476.9" r="2.8"/><circle cx="816.3" cy="480.5" r="2.8"/><circle cx="815.6" cy="484" r="2.8"/><circle cx="813.9" cy="487.2" r="2.8"/><circle cx="813.2" cy="490.5" r="2.8"/><circle cx="812.6" cy="493.8" r="2.8"/><circle cx="811.7" cy="497" r="2.8"/><circle cx="810.4" cy="500.2" r="2.8"/><circle cx="809.7" cy="503.5" r="2.8"/><circle cx="808.6" cy="506.8" r="2.8"/><circle cx="808.2" cy="510" r="2.8"/><circle cx="808.1" cy="513.2" r="2.8"/><circle cx="806.4" cy="516.4" r="2.8"/><circle cx="805.7" cy="519.6" r="2.8"/><circle cx="805.5" cy="522.8" r="2.8"/><circle cx="804.4" cy="526" r="2.8"/><circle cx="804.8" cy="529.2" r="2.8"/><circle cx="803.1" cy="532.4" r="2.8"/><circle cx="803" cy="535.6" r="2.8"/><circle cx="802.4" cy="539" r="2.8"/><circle cx="802" cy="542.4" r="2.8"/><circle cx="802.6" cy="545.7" r="2.8"/><circle cx="802.6" cy="549.1" r="2.8"/><circle cx="802.1" cy="552.5" r="2.8"/><circle cx="801.6" cy="555.9" r="2.8"/><circle cx="801.6" cy="559.2" r="2.8"/><circle cx="801.9" cy="562.6" r="2.8"/><circle cx="802.2" cy="566" r="2.8"/><circle cx="800.4" cy="569.3" r="2.8"/><circle cx="799.6" cy="572.6" r="2.8"/><circle cx="799.5" cy="575.9" r="2.8"/><circle cx="798.1" cy="579.2" r="2.8"/><circle cx="797.5" cy="582.5" r="2.8"/><circle cx="796.9" cy="585.8" r="2.8"/><circle cx="796.8" cy="589.1" r="2.8"/><circle cx="795.6" cy="592.4" r="2.8"/><circle cx="794.1" cy="595.7" r="2.8"/><circle cx="793.6" cy="599" r="2.8"/><circle cx="793" cy="602.3" r="2.8"/><circle cx="792" cy="605.6" r="2.8"/><circle cx="791" cy="608.9" r="2.8"/><circle cx="790.3" cy="612.2" r="2.8"/><circle cx="789.4" cy="615.5" r="2.8"/><circle cx="789.5" cy="618.8" r="2.8"/><circle cx="788.1" cy="622.1" r="2.8"/><circle cx="787.9" cy="625.4" r="2.8"/><circle cx="787.8" cy="628.7" r="2.8"/><circle cx="786.6" cy="632" r="2.8"/><circle cx="785.6" cy="635.3" r="2.8"/><circle cx="784.5" cy="638.6" r="2.8"/><circle cx="784.7" cy="641.9" r="2.8"/><circle cx="783.1" cy="645.2" r="2.8"/><circle cx="782.5" cy="648.5" r="2.8"/><circle cx="781.2" cy="651.8" r="2.8"/><circle cx="780.9" cy="655.1" r="2.8"/><circle cx="780.2" cy="658.4" r="2.8"/><circle cx="779.1" cy="661.7" r="2.8"/><circle cx="779.4" cy="665" r="2.8"/><circle cx="777.8" cy="668.2" r="2.8"/><circle cx="778.2" cy="671.4" r="2.8"/><circle cx="776.2" cy="674.5" r="2.8"/><circle cx="776.4" cy="677.7" r="2.8"/><circle cx="775.7" cy="680.9" r="2.8"/><circle cx="775" cy="684.1" r="2.8"/><circle cx="773.7" cy="687.3" r="2.8"/><circle cx="772.8" cy="690.5" r="2.8"/><circle cx="772.6" cy="693.6" r="2.8"/><circle cx="771.4" cy="696.8" r="2.8"/><circle cx="770.8" cy="700" r="2.8"/><circle cx="770.3" cy="703.8" r="2.8"/><circle cx="769" cy="707.5" r="2.8"/><circle cx="768.2" cy="711.2" r="2.8"/><circle cx="767.2" cy="715" r="2.8"/><circle cx="767.1" cy="718.3" r="2.8"/><circle cx="766.6" cy="721.7" r="2.8"/><circle cx="765.3" cy="725" r="2.8"/><circle cx="764.5" cy="728.3" r="2.8"/><circle cx="764.3" cy="731.7" r="2.8"/><circle cx="763" cy="735" r="2.8"/><circle cx="762.7" cy="738.3" r="2.8"/><circle cx="762.1" cy="741.7" r="2.8"/><circle cx="760.6" cy="745" r="2.8"/><circle cx="761.1" cy="748.3" r="2.8"/><circle cx="759.7" cy="751.7" r="2.8"/><circle cx="758.4" cy="755" r="2.8"/><circle cx="758.4" cy="758.3" r="2.8"/><circle cx="757.1" cy="761.7" r="2.8"/><circle cx="757.5" cy="765" r="2.8"/><circle cx="755.8" cy="768.1" r="2.8"/><circle cx="754.7" cy="771.2" r="2.8"/><circle cx="753.3" cy="774.4" r="2.8"/><circle cx="753.3" cy="777.5" r="2.8"/><circle cx="751" cy="780.6" r="2.8"/><circle cx="750.5" cy="783.8" r="2.8"/><circle cx="749" cy="786.9" r="2.8"/><circle cx="747.9" cy="790" r="2.8"/><circle cx="747.2" cy="793.2" r="2.8"/><circle cx="746.2" cy="796.5" r="2.8"/><circle cx="746" cy="799.8" r="2.8"/><circle cx="744.3" cy="803" r="2.8"/><circle cx="743.3" cy="806.2" r="2.8"/><circle cx="743.6" cy="809.5" r="2.8"/><circle cx="742.8" cy="812.8" r="2.8"/><circle cx="741.8" cy="816" r="2.8"/><circle cx="739.7" cy="819.2" r="2.8"/><circle cx="816.2" cy="19" r="2.8"/><circle cx="815.6" cy="22.3" r="2.8"/><circle cx="815.8" cy="25.5" r="2.8"/><circle cx="815.7" cy="28.8" r="2.8"/><circle cx="816.4" cy="32.1" r="2.8"/><circle cx="816.4" cy="35.3" r="2.8"/><circle cx="816.3" cy="38.6" r="2.8"/><circle cx="816.6" cy="41.9" r="2.8"/><circle cx="816.6" cy="45.1" r="2.8"/><circle cx="816.8" cy="48.4" r="2.8"/><circle cx="816.2" cy="51.7" r="2.8"/><circle cx="816.8" cy="54.9" r="2.8"/><circle cx="817" cy="58.2" r="2.8"/><circle cx="816.6" cy="61.5" r="2.8"/><circle cx="816.6" cy="64.7" r="2.8"/><circle cx="816.6" cy="68" r="2.8"/><circle cx="820.1" cy="70" r="2.8"/><circle cx="822.6" cy="72" r="2.8"/><circle cx="825.8" cy="74" r="2.8"/><circle cx="827.7" cy="76" r="2.8"/><circle cx="830.2" cy="78" r="2.8"/><circle cx="834.3" cy="80" r="2.8"/><circle cx="837.2" cy="81.5" r="2.8"/><circle cx="838.9" cy="82.9" r="2.8"/><circle cx="842.9" cy="84.4" r="2.8"/><circle cx="845" cy="85.9" r="2.8"/><circle cx="847.8" cy="87.4" r="2.8"/><circle cx="851" cy="88.8" r="2.8"/><circle cx="854.7" cy="90.3" r="2.8"/><circle cx="855.7" cy="93.1" r="2.8"/><circle cx="858.8" cy="95.9" r="2.8"/><circle cx="860.8" cy="98.6" r="2.8"/><circle cx="862.1" cy="101.4" r="2.8"/><circle cx="865.3" cy="104.2" r="2.8"/><circle cx="867.7" cy="106.8" r="2.8"/><circle cx="869.2" cy="109.3" r="2.8"/><circle cx="872" cy="111.9" r="2.8"/><circle cx="875.2" cy="114.4" r="2.8"/><circle cx="878.3" cy="117" r="2.8"/><circle cx="880.5" cy="119.2" r="2.8"/><circle cx="882.3" cy="121.3" r="2.8"/><circle cx="884.7" cy="123.5" r="2.8"/><circle cx="887.7" cy="125.7" r="2.8"/><circle cx="889.8" cy="127.8" r="2.8"/><circle cx="892.4" cy="130" r="2.8"/><circle cx="895.4" cy="132.7" r="2.8"/><circle cx="896.8" cy="135.4" r="2.8"/><circle cx="899.4" cy="138.1" r="2.8"/><circle cx="901.7" cy="140.9" r="2.8"/><circle cx="904" cy="143.6" r="2.8"/><circle cx="905.9" cy="146.3" r="2.8"/><circle cx="908.1" cy="149" r="2.8"/><circle cx="908.6" cy="152.5" r="2.8"/><circle cx="911.2" cy="155.9" r="2.8"/><circle cx="911.4" cy="159.4" r="2.8"/><circle cx="914" cy="162.8" r="2.8"/><circle cx="915.6" cy="166.3" r="2.8"/><circle cx="915.9" cy="170.1" r="2.8"/><circle cx="915.9" cy="173.8" r="2.8"/><circle cx="916.2" cy="177.6" r="2.8"/><circle cx="916.7" cy="181.3" r="2.8"/><circle cx="915.9" cy="185" r="2.8"/><circle cx="917.2" cy="188.8" r="2.8"/><circle cx="916.5" cy="192.5" r="2.8"/><circle cx="918" cy="196.3" r="2.8"/><circle cx="918" cy="200" r="2.8"/><circle cx="918.4" cy="203.3" r="2.8"/><circle cx="918.3" cy="206.7" r="2.8"/><circle cx="918.2" cy="210" r="2.8"/><circle cx="919.2" cy="213.3" r="2.8"/><circle cx="918.2" cy="216.7" r="2.8"/><circle cx="918.8" cy="220" r="2.8"/><circle cx="919" cy="223.3" r="2.8"/><circle cx="920.3" cy="226.7" r="2.8"/><circle cx="920.4" cy="230" r="2.8"/><circle cx="920.2" cy="233.3" r="2.8"/><circle cx="920.9" cy="236.7" r="2.8"/><circle cx="921.2" cy="240" r="2.8"/><circle cx="921.4" cy="243.5" r="2.8"/><circle cx="921.2" cy="247" r="2.8"/><circle cx="921.4" cy="250.5" r="2.8"/><circle cx="921.8" cy="254" r="2.8"/><circle cx="921.9" cy="257.5" r="2.8"/><circle cx="921.5" cy="261" r="2.8"/><circle cx="922.1" cy="264.5" r="2.8"/><circle cx="921" cy="268" r="2.8"/><circle cx="921.9" cy="271.7" r="2.8"/><circle cx="921.6" cy="275.3" r="2.8"/><circle cx="921" cy="279" r="2.8"/><circle cx="919.9" cy="282.7" r="2.8"/><circle cx="920.3" cy="286.3" r="2.8"/><circle cx="920.2" cy="290" r="2.8"/><circle cx="918.5" cy="293.2" r="2.8"/><circle cx="916.6" cy="296.5" r="2.8"/><circle cx="916.5" cy="299.8" r="2.8"/><circle cx="914.7" cy="303" r="2.8"/><circle cx="913.7" cy="306" r="2.8"/><circle cx="911.5" cy="309" r="2.8"/><circle cx="910.4" cy="312" r="2.8"/><circle cx="909.1" cy="315" r="2.8"/><circle cx="907" cy="318" r="2.8"/><circle cx="905.7" cy="321" r="2.8"/><circle cx="903.7" cy="324" r="2.8"/><circle cx="902.4" cy="327" r="2.8"/><circle cx="900.8" cy="330" r="2.8"/><circle cx="899.7" cy="333" r="2.8"/><circle cx="898.5" cy="336" r="2.8"/><circle cx="897.4" cy="339" r="2.8"/><circle cx="895.9" cy="342" r="2.8"/><circle cx="894.9" cy="345" r="2.8"/><circle cx="892.7" cy="348" r="2.8"/><circle cx="892.5" cy="351" r="2.8"/><circle cx="890" cy="354.2" r="2.8"/><circle cx="889.9" cy="357.4" r="2.8"/><circle cx="888.7" cy="360.6" r="2.8"/><circle cx="887.3" cy="363.8" r="2.8"/><circle cx="885.6" cy="367" r="2.8"/><circle cx="883.6" cy="372.7" r="2.8"/><circle cx="881.4" cy="375.9" r="2.8"/><circle cx="880.7" cy="379.1" r="2.8"/><circle cx="878.8" cy="382.4" r="2.8"/><circle cx="878.2" cy="385.6" r="2.8"/><circle cx="876.2" cy="388.8" r="2.8"/><circle cx="873.9" cy="392" r="2.8"/><circle cx="872.4" cy="395.1" r="2.8"/><circle cx="871.4" cy="398.2" r="2.8"/><circle cx="869.5" cy="401.4" r="2.8"/><circle cx="868.3" cy="404.5" r="2.8"/><circle cx="866.5" cy="407.6" r="2.8"/><circle cx="864.8" cy="410.8" r="2.8"/><circle cx="862.6" cy="413.9" r="2.8"/><circle cx="861.3" cy="417" r="2.8"/><circle cx="859.1" cy="419.9" r="2.8"/><circle cx="857.9" cy="422.7" r="2.8"/><circle cx="855.4" cy="425.6" r="2.8"/><circle cx="854.8" cy="428.5" r="2.8"/><circle cx="853" cy="431.4" r="2.8"/><circle cx="850.7" cy="434.2" r="2.8"/><circle cx="849.2" cy="437.1" r="2.8"/><circle cx="847.5" cy="440" r="2.8"/><circle cx="846.5" cy="442.8" r="2.8"/><circle cx="844" cy="445.7" r="2.8"/><circle cx="843.3" cy="449.2" r="2.8"/><circle cx="841.9" cy="452.8" r="2.8"/><circle cx="842.1" cy="456.4" r="2.8"/><circle cx="841" cy="459.9" r="2.8"/><circle cx="839.7" cy="463.4" r="2.8"/><circle cx="838.9" cy="467" r="2.8"/><circle cx="838" cy="470.1" r="2.8"/><circle cx="836.2" cy="473.1" r="2.8"/><circle cx="836.2" cy="476.2" r="2.8"/><circle cx="834.4" cy="479.3" r="2.8"/><circle cx="833.1" cy="482.4" r="2.8"/><circle cx="832.8" cy="485.4" r="2.8"/><circle cx="832.4" cy="488.5" r="2.8"/><circle cx="831.2" cy="492" r="2.8"/><circle cx="830.7" cy="495.4" r="2.8"/><circle cx="829.9" cy="498.9" r="2.8"/><circle cx="828.8" cy="502.4" r="2.8"/><circle cx="828.4" cy="505.9" r="2.8"/><circle cx="826.7" cy="509.3" r="2.8"/><circle cx="826.8" cy="512.8" r="2.8"/><circle cx="826" cy="516.3" r="2.8"/><circle cx="824.8" cy="519.5" r="2.8"/><circle cx="824" cy="522.7" r="2.8"/><circle cx="823.2" cy="525.9" r="2.8"/><circle cx="823.4" cy="529.1" r="2.8"/><circle cx="822.2" cy="532.4" r="2.8"/><circle cx="821.8" cy="535.6" r="2.8"/><circle cx="820.7" cy="538.8" r="2.8"/><circle cx="820.7" cy="542" r="2.8"/><circle cx="820.2" cy="545.4" r="2.8"/><circle cx="819.4" cy="548.8" r="2.8"/><circle cx="818.8" cy="552.2" r="2.8"/><circle cx="818" cy="555.6" r="2.8"/><circle cx="818.2" cy="559" r="2.8"/><circle cx="817.8" cy="562.5" r="2.8"/><circle cx="816.3" cy="566" r="2.8"/><circle cx="814.9" cy="569.3" r="2.8"/><circle cx="815.4" cy="572.6" r="2.8"/><circle cx="814.5" cy="575.9" r="2.8"/><circle cx="813.3" cy="579.2" r="2.8"/><circle cx="812.3" cy="582.5" r="2.8"/><circle cx="812" cy="585.8" r="2.8"/><circle cx="811" cy="589.1" r="2.8"/><circle cx="810.1" cy="592.4" r="2.8"/><circle cx="809.4" cy="595.7" r="2.8"/><circle cx="808.5" cy="599" r="2.8"/><circle cx="807.4" cy="602.3" r="2.8"/><circle cx="806.1" cy="605.6" r="2.8"/><circle cx="804.5" cy="608.9" r="2.8"/><circle cx="805.2" cy="612.2" r="2.8"/><circle cx="804.1" cy="615.5" r="2.8"/><circle cx="802.1" cy="618.8" r="2.8"/><circle cx="802.6" cy="622.1" r="2.8"/><circle cx="801.9" cy="625.4" r="2.8"/><circle cx="801" cy="628.7" r="2.8"/><circle cx="800.1" cy="632" r="2.8"/><circle cx="798.9" cy="635.3" r="2.8"/><circle cx="798.5" cy="638.6" r="2.8"/><circle cx="797.4" cy="641.9" r="2.8"/><circle cx="796.5" cy="645.2" r="2.8"/><circle cx="796.2" cy="648.5" r="2.8"/><circle cx="794.4" cy="651.8" r="2.8"/><circle cx="794.3" cy="655.1" r="2.8"/><circle cx="792.5" cy="658.4" r="2.8"/><circle cx="791.9" cy="661.7" r="2.8"/><circle cx="791.5" cy="665" r="2.8"/><circle cx="790.2" cy="668.1" r="2.8"/><circle cx="789.7" cy="671.2" r="2.8"/><circle cx="788.9" cy="674.4" r="2.8"/><circle cx="789.1" cy="677.5" r="2.8"/><circle cx="788.5" cy="680.6" r="2.8"/><circle cx="787.6" cy="683.8" r="2.8"/><circle cx="786.4" cy="686.9" r="2.8"/><circle cx="786" cy="690" r="2.8"/><circle cx="785.5" cy="693.1" r="2.8"/><circle cx="784.3" cy="696.2" r="2.8"/><circle cx="784" cy="699.4" r="2.8"/><circle cx="782.1" cy="702.5" r="2.8"/><circle cx="781.3" cy="705.6" r="2.8"/><circle cx="780.9" cy="708.8" r="2.8"/><circle cx="780.3" cy="711.9" r="2.8"/><circle cx="779.9" cy="715" r="2.8"/><circle cx="779.6" cy="718.3" r="2.8"/><circle cx="778.3" cy="721.7" r="2.8"/><circle cx="778.1" cy="725" r="2.8"/><circle cx="777.5" cy="728.3" r="2.8"/><circle cx="775.6" cy="731.7" r="2.8"/><circle cx="775.7" cy="735" r="2.8"/><circle cx="775.6" cy="738.3" r="2.8"/><circle cx="775" cy="741.7" r="2.8"/><circle cx="773.2" cy="745" r="2.8"/><circle cx="773" cy="748.3" r="2.8"/><circle cx="772.3" cy="751.7" r="2.8"/><circle cx="771.8" cy="755" r="2.8"/><circle cx="770.9" cy="758.3" r="2.8"/><circle cx="770.4" cy="761.7" r="2.8"/><circle cx="769.5" cy="765" r="2.8"/><circle cx="769.5" cy="768.2" r="2.8"/><circle cx="768.1" cy="771.4" r="2.8"/><circle cx="768.3" cy="774.6" r="2.8"/><circle cx="766.4" cy="777.8" r="2.8"/><circle cx="765.5" cy="781" r="2.8"/><circle cx="765.9" cy="784.2" r="2.8"/><circle cx="764.8" cy="787.4" r="2.8"/><circle cx="765" cy="790.6" r="2.8"/><circle cx="763" cy="793.8" r="2.8"/><circle cx="762.6" cy="796.9" r="2.8"/><circle cx="763" cy="800.1" r="2.8"/><circle cx="762.1" cy="803.3" r="2.8"/><circle cx="761.6" cy="806.5" r="2.8"/><circle cx="760.6" cy="809.7" r="2.8"/><circle cx="759.7" cy="812.9" r="2.8"/><circle cx="759.3" cy="816.1" r="2.8"/><circle cx="758.3" cy="819.3" r="2.8"/></g>
<polygon points="809,484 803,510 792.4,535.6 784.9,559 782.4,566 771.7,586.5 767.4,615.5 764.2,642.7 759.9,665 754.5,690 753.4,715 748.5,744 745.3,765 738.8,784.5 729,822.5 741,822.5 748,784.5 750.6,765 753.8,744 758.6,715 762.2,690 766.5,665 769.7,642.7 774,615.5 779.3,586.5 789,566 793.6,559 801,535.6 811.5,510 817,484" fill="#00ffff" stroke="#00ffff" stroke-width="2" stroke-linejoin="round"/>
<g fill="#00ffff"><circle cx="811" cy="484" r="2.8"/><circle cx="810.1" cy="487.2" r="2.8"/><circle cx="808.2" cy="490.5" r="2.8"/><circle cx="807.9" cy="493.8" r="2.8"/><circle cx="807.1" cy="497" r="2.8"/><circle cx="806" cy="500.2" r="2.8"/><circle cx="805.2" cy="503.5" r="2.8"/><circle cx="805.8" cy="506.8" r="2.8"/><circle cx="804.9" cy="510" r="2.8"/><circle cx="802.4" cy="513.2" r="2.8"/><circle cx="801.1" cy="516.4" r="2.8"/><circle cx="799.7" cy="519.6" r="2.8"/><circle cx="798.9" cy="522.8" r="2.8"/><circle cx="798.4" cy="526" r="2.8"/><circle cx="795.8" cy="529.2" r="2.8"/><circle cx="794.5" cy="532.4" r="2.8"/><circle cx="794.5" cy="535.6" r="2.8"/><circle cx="792.1" cy="538.9" r="2.8"/><circle cx="791" cy="542.3" r="2.8"/><circle cx="789.9" cy="545.6" r="2.8"/><circle cx="789.1" cy="549" r="2.8"/><circle cx="787.7" cy="552.3" r="2.8"/><circle cx="787.7" cy="555.7" r="2.8"/><circle cx="786.3" cy="559" r="2.8"/><circle cx="784.5" cy="562.5" r="2.8"/><circle cx="783.6" cy="566" r="2.8"/><circle cx="782.4" cy="568.9" r="2.8"/><circle cx="780" cy="571.9" r="2.8"/><circle cx="778.7" cy="574.8" r="2.8"/><circle cx="777" cy="577.7" r="2.8"/><circle cx="775.5" cy="580.6" r="2.8"/><circle cx="775.1" cy="583.6" r="2.8"/><circle cx="772.6" cy="586.5" r="2.8"/><circle cx="772.6" cy="589.7" r="2.8"/><circle cx="771.6" cy="592.9" r="2.8"/><circle cx="771" cy="596.2" r="2.8"/><circle cx="772" cy="599.4" r="2.8"/><circle cx="770.9" cy="602.6" r="2.8"/><circle cx="770.1" cy="605.8" r="2.8"/><circle cx="769.8" cy="609.1" r="2.8"/><circle cx="768.6" cy="612.3" r="2.8"/><circle cx="768.5" cy="615.5" r="2.8"/><circle cx="767.8" cy="618.9" r="2.8"/><circle cx="767.6" cy="622.3" r="2.8"/><circle cx="767.8" cy="625.7" r="2.8"/><circle cx="766.7" cy="629.1" r="2.8"/><circle cx="766.1" cy="632.5" r="2.8"/><circle cx="765.9" cy="635.9" r="2.8"/><circle cx="765.6" cy="639.3" r="2.8"/><circle cx="765" cy="642.7" r="2.8"/><circle cx="764.3" cy="645.9" r="2.8"/><circle cx="763.7" cy="649.1" r="2.8"/><circle cx="763.1" cy="652.3" r="2.8"/><circle cx="762.6" cy="655.4" r="2.8"/><circle cx="762.6" cy="658.6" r="2.8"/><circle cx="761.2" cy="661.8" r="2.8"/><circle cx="761.2" cy="665" r="2.8"/><circle cx="760.6" cy="668.6" r="2.8"/><circle cx="760.1" cy="672.1" r="2.8"/><circle cx="758.4" cy="675.7" r="2.8"/><circle cx="758.4" cy="679.3" r="2.8"/><circle cx="756.7" cy="682.9" r="2.8"/><circle cx="756.2" cy="686.4" r="2.8"/><circle cx="755.4" cy="690" r="2.8"/><circle cx="755.7" cy="693.6" r="2.8"/><circle cx="755" cy="697.1" r="2.8"/><circle cx="754.8" cy="700.7" r="2.8"/><circle cx="754.8" cy="704.3" r="2.8"/><circle cx="754.9" cy="707.9" r="2.8"/><circle cx="755.5" cy="711.4" r="2.8"/><circle cx="754.3" cy="715" r="2.8"/><circle cx="754.3" cy="718.2" r="2.8"/><circle cx="753.7" cy="721.4" r="2.8"/><circle cx="752.5" cy="724.7" r="2.8"/><circle cx="752.7" cy="727.9" r="2.8"/><circle cx="751.8" cy="731.1" r="2.8"/><circle cx="751" cy="734.3" r="2.8"/><circle cx="751.7" cy="737.6" r="2.8"/><circle cx="749.7" cy="740.8" r="2.8"/><circle cx="749.2" cy="744" r="2.8"/><circle cx="749.9" cy="747.5" r="2.8"/><circle cx="749.2" cy="751" r="2.8"/><circle cx="747.6" cy="754.5" r="2.8"/><circle cx="747.2" cy="758" r="2.8"/><circle cx="747.1" cy="761.5" r="2.8"/><circle cx="746.6" cy="765" r="2.8"/><circle cx="745.6" cy="768.2" r="2.8"/><circle cx="744.1" cy="771.5" r="2.8"/><circle cx="743.9" cy="774.8" r="2.8"/><circle cx="741.7" cy="778" r="2.8"/><circle cx="741.4" cy="781.2" r="2.8"/><circle cx="739.6" cy="784.5" r="2.8"/><circle cx="738.8" cy="787.7" r="2.8"/><circle cx="739.2" cy="790.8" r="2.8"/><circle cx="737.1" cy="794" r="2.8"/><circle cx="736.8" cy="797.2" r="2.8"/><circle cx="736.6" cy="800.3" r="2.8"/><circle cx="734.8" cy="803.5" r="2.8"/><circle cx="734.8" cy="806.7" r="2.8"/><circle cx="733.7" cy="809.8" r="2.8"/><circle cx="733.1" cy="813" r="2.8"/><circle cx="731.6" cy="816.2" r="2.8"/><circle cx="731" cy="819.3" r="2.8"/><circle cx="815.3" cy="484" r="2.8"/><circle cx="815.4" cy="487.2" r="2.8"/><circle cx="814.9" cy="490.5" r="2.8"/><circle cx="813.2" cy="493.8" r="2.8"/><circle cx="813.3" cy="497" r="2.8"/><circle cx="812.7" cy="500.2" r="2.8"/><circle cx="811.2" cy="503.5" r="2.8"/><circle cx="810.5" cy="506.8" r="2.8"/><circle cx="810.7" cy="510" r="2.8"/><circle cx="808.7" cy="513.2" r="2.8"/><circle cx="807.4" cy="516.4" r="2.8"/><circle cx="806.6" cy="519.6" r="2.8"/><circle cx="805.5" cy="522.8" r="2.8"/><circle cx="803.5" cy="526" r="2.8"/><circle cx="802.1" cy="529.2" r="2.8"/><circle cx="801.2" cy="532.4" r="2.8"/><circle cx="800.1" cy="535.6" r="2.8"/><circle cx="798.6" cy="538.9" r="2.8"/><circle cx="797.4" cy="542.3" r="2.8"/><circle cx="797.1" cy="545.6" r="2.8"/><circle cx="795.2" cy="549" r="2.8"/><circle cx="794.4" cy="552.3" r="2.8"/><circle cx="793.9" cy="555.7" r="2.8"/><circle cx="792.1" cy="559" r="2.8"/><circle cx="789.3" cy="562.5" r="2.8"/><circle cx="787.2" cy="566" r="2.8"/><circle cx="785.7" cy="568.9" r="2.8"/><circle cx="785.4" cy="571.9" r="2.8"/><circle cx="783.4" cy="574.8" r="2.8"/><circle cx="782.6" cy="577.7" r="2.8"/><circle cx="780.1" cy="580.6" r="2.8"/><circle cx="779.5" cy="583.6" r="2.8"/><circle cx="778" cy="586.5" r="2.8"/><circle cx="777.3" cy="589.7" r="2.8"/><circle cx="777.4" cy="592.9" r="2.8"/><circle cx="776.6" cy="596.2" r="2.8"/><circle cx="776" cy="599.4" r="2.8"/><circle cx="775.6" cy="602.6" r="2.8"/><circle cx="774.3" cy="605.8" r="2.8"/><circle cx="774.5" cy="609.1" r="2.8"/><circle cx="773.5" cy="612.3" r="2.8"/><circle cx="771.9" cy="615.5" r="2.8"/><circle cx="772.7" cy="618.9" r="2.8"/><circle cx="772.2" cy="622.3" r="2.8"/><circle cx="771.4" cy="625.7" r="2.8"/><circle cx="771.1" cy="629.1" r="2.8"/><circle cx="770.4" cy="632.5" r="2.8"/><circle cx="770.1" cy="635.9" r="2.8"/><circle cx="769.5" cy="639.3" r="2.8"/><circle cx="768.7" cy="642.7" r="2.8"/><circle cx="767.1" cy="645.9" r="2.8"/><circle cx="767.4" cy="649.1" r="2.8"/><circle cx="767.4" cy="652.3" r="2.8"/><circle cx="766.3" cy="655.4" r="2.8"/><circle cx="766.7" cy="658.6" r="2.8"/><circle cx="766.2" cy="661.8" r="2.8"/><circle cx="765.7" cy="665" r="2.8"/><circle cx="763.9" cy="668.6" r="2.8"/><circle cx="764.5" cy="672.1" r="2.8"/><circle cx="763.8" cy="675.7" r="2.8"/><circle cx="761.9" cy="679.3" r="2.8"/><circle cx="761.4" cy="682.9" r="2.8"/><circle cx="762.1" cy="686.4" r="2.8"/><circle cx="761" cy="690" r="2.8"/><circle cx="760.9" cy="693.6" r="2.8"/><circle cx="759.1" cy="697.1" r="2.8"/><circle cx="759.5" cy="700.7" r="2.8"/><circle cx="759" cy="704.3" r="2.8"/><circle cx="758.1" cy="707.9" r="2.8"/><circle cx="758.4" cy="711.4" r="2.8"/><circle cx="757.7" cy="715" r="2.8"/><circle cx="757" cy="718.2" r="2.8"/><circle cx="755.5" cy="721.4" r="2.8"/><circle cx="755.9" cy="724.7" r="2.8"/><circle cx="755.4" cy="727.9" r="2.8"/><circle cx="753.9" cy="731.1" r="2.8"/><circle cx="753.9" cy="734.3" r="2.8"/><circle cx="753.1" cy="737.6" r="2.8"/><circle cx="753.6" cy="740.8" r="2.8"/><circle cx="751.8" cy="744" r="2.8"/><circle cx="751.7" cy="747.5" r="2.8"/><circle cx="751.9" cy="751" r="2.8"/><circle cx="751" cy="754.5" r="2.8"/><circle cx="750.9" cy="758" r="2.8"/><circle cx="750.4" cy="761.5" r="2.8"/><circle cx="748.7" cy="765" r="2.8"/><circle cx="748.1" cy="768.2" r="2.8"/><circle cx="748.2" cy="771.5" r="2.8"/><circle cx="747.6" cy="774.8" r="2.8"/><circle cx="748" cy="778" r="2.8"/><circle cx="747.7" cy="781.2" r="2.8"/><circle cx="747.2" cy="784.5" r="2.8"/><circle cx="746.6" cy="787.7" r="2.8"/><circle cx="745" cy="790.8" r="2.8"/><circle cx="745.2" cy="794" r="2.8"/><circle cx="743.9" cy="797.2" r="2.8"/><circle cx="744.2" cy="800.3" r="2.8"/><circle cx="743.8" cy="803.5" r="2.8"/><circle cx="742.8" cy="806.7" r="2.8"/><circle cx="742.6" cy="809.8" r="2.8"/><circle cx="741.2" cy="813" r="2.8"/><circle cx="741.1" cy="816.2" r="2.8"/><circle cx="740.8" cy="819.3" r="2.8"/></g>
<circle cx="824.2" cy="106.4" r="3" fill="#00ffff"/>
<circle cx="830.7" cy="109.6" r="3" fill="#00ffff"/>
<circle cx="836" cy="112.5" r="3" fill="#00ffff"/>
<circle cx="839.2" cy="115" r="3" fill="#00ffff"/>
<circle cx="843" cy="119.5" r="3" fill="#00ffff"/>
<circle cx="845.7" cy="123.5" r="3" fill="#00ffff"/>
<circle cx="812" cy="104.5" r="3" fill="#00ffff"/>
<circle cx="806" cy="101" r="3" fill="#00ffff"/>
<polyline points="810.7,21.3 810.8,31.3 810.8,41.2 810.9,51.1 811,61.1 813.3,71 822.8,81 832.8,90.9 846.1,100.9 859.2,110.8 867.6,120.8 875.2,130.7 882.6,140.7 890.4,150.6 899.9,160.6 908.5,170.5 913.5,180.5 914.5,190.4 913.5,200.4 913.9,210.3 914.3,220.3 914.8,230.2 916.8,240.2 918.8,250.1 918.2,260 917.7,270 917.2,279.9 916.8,289.9 913.9,299.8 906.3,309.8 901.8,319.7 897.3,329.7 891.4,339.6 885.4,349.6 878.7,359.5 872.4,369.5 867.7,379.4 863.9,389.4 860.2,399.3 856.4,409.3 852.2,419.2 848,429.2 843.8,439.1 839.6,449 835.4,459 831.7,468.9 828.4,478.9 825,488.8 822.4,498.8 819.8,508.7 817.2,518.7 814.4,528.6 810.7,538.6 808.8,548.5 807.2,558.5 805.3,568.4 802.7,578.4 800.1,588.3 797.5,598.3 795,608.2 792.5,618.2 790.4,628.1 788.2,638.1 786.1,648 783.9,657.9 781.7,667.9 779.4,677.8 777,687.8 774.6,697.7 772.2,707.7 770,717.6 768.3,727.6 766.6,737.5 764.9,747.5 763.2,757.4 761.3,767.4 758.7,777.3 756.1,787.3 753.5,797.2 750.9,807.2 748.3,817.1 745.8,827.1" fill="none" stroke="#0000ff" stroke-width="2.8" stroke-linejoin="round" stroke-linecap="butt" />
<circle cx="810.7" cy="21.3" r="5.8" fill="#0000ff"/>
<circle cx="810.8" cy="31.3" r="5.8" fill="#0000ff"/>
<circle cx="810.8" cy="41.2" r="5.8" fill="#0000ff"/>
<circle cx="810.9" cy="51.1" r="5.8" fill="#0000ff"/>
<circle cx="811" cy="61.1" r="5.8" fill="#0000ff"/>
<circle cx="813.3" cy="71" r="5.8" fill="#0000ff"/>
<circle cx="822.8" cy="81" r="5.8" fill="#0000ff"/>
<circle cx="832.8" cy="90.9" r="5.8" fill="#0000ff"/>
<circle cx="846.1" cy="100.9" r="5.8" fill="#0000ff"/>
<circle cx="859.2" cy="110.8" r="5.8" fill="#0000ff"/>
<circle cx="867.6" cy="120.8" r="5.8" fill="#0000ff"/>
<circle cx="875.2" cy="130.7" r="5.8" fill="#0000ff"/>
<circle cx="882.6" cy="140.7" r="5.8" fill="#0000ff"/>
<circle cx="890.4" cy="150.6" r="5.8" fill="#0000ff"/>
<circle cx="899.9" cy="160.6" r="5.8" fill="#0000ff"/>
<circle cx="908.5" cy="170.5" r="5.8" fill="#0000ff"/>
<circle cx="913.5" cy="180.5" r="5.8" fill="#0000ff"/>
<circle cx="914.5" cy="190.4" r="5.8" fill="#0000ff"/>
<circle cx="913.5" cy="200.4" r="5.8" fill="#0000ff"/>
<circle cx="913.9" cy="210.3" r="5.8" fill="#0000ff"/>
<circle cx="914.3" cy="220.3" r="5.8" fill="#0000ff"/>
<circle cx="914.8" cy="230.2" r="5.8" fill="#0000ff"/>
<circle cx="916.8" cy="240.2" r="5.8" fill="#0000ff"/>
<circle cx="918.8" cy="250.1" r="5.8" fill="#0000ff"/>
<circle cx="918.2" cy="260" r="5.8" fill="#0000ff"/>
<circle cx="917.7" cy="270" r="5.8" fill="#0000ff"/>
<circle cx="917.2" cy="279.9" r="5.8" fill="#0000ff"/>
<circle cx="916.8" cy="289.9" r="5.8" fill="#0000ff"/>
<circle cx="913.9" cy="299.8" r="5.8" fill="#0000ff"/>
<circle cx="906.3" cy="309.8" r="5.8" fill="#0000ff"/>
<circle cx="901.8" cy="319.7" r="5.8" fill="#0000ff"/>
<circle cx="897.3" cy="329.7" r="5.8" fill="#0000ff"/>
<circle cx="891.4" cy="339.6" r="5.8" fill="#0000ff"/>
<circle cx="885.4" cy="349.6" r="5.8" fill="#0000ff"/>
<circle cx="878.7" cy="359.5" r="5.8" fill="#0000ff"/>
<circle cx="872.4" cy="369.5" r="5.8" fill="#0000ff"/>
<circle cx="867.7" cy="379.4" r="5.8" fill="#0000ff"/>
<circle cx="863.9" cy="389.4" r="5.8" fill="#0000ff"/>
<circle cx="860.2" cy="399.3" r="5.8" fill="#0000ff"/>
<circle cx="856.4" cy="409.3" r="5.8" fill="#0000ff"/>
<circle cx="852.2" cy="419.2" r="5.8" fill="#0000ff"/>
<circle cx="848" cy="429.2" r="5.8" fill="#0000ff"/>
<circle cx="843.8" cy="439.1" r="5.8" fill="#0000ff"/>
<circle cx="839.6" cy="449" r="5.8" fill="#0000ff"/>
<circle cx="835.4" cy="459" r="5.8" fill="#0000ff"/>
<circle cx="831.7" cy="468.9" r="5.8" fill="#0000ff"/>
<circle cx="828.4" cy="478.9" r="5.8" fill="#0000ff"/>
<circle cx="825" cy="488.8" r="5.8" fill="#0000ff"/>
<circle cx="822.4" cy="498.8" r="5.8" fill="#0000ff"/>
<circle cx="819.8" cy="508.7" r="5.8" fill="#0000ff"/>
<circle cx="817.2" cy="518.7" r="5.8" fill="#0000ff"/>
<circle cx="814.4" cy="528.6" r="5.8" fill="#0000ff"/>
<circle cx="810.7" cy="538.6" r="5.8" fill="#0000ff"/>
<circle cx="808.8" cy="548.5" r="5.8" fill="#0000ff"/>
<circle cx="807.2" cy="558.5" r="5.8" fill="#0000ff"/>
<circle cx="805.3" cy="568.4" r="5.8" fill="#0000ff"/>
<circle cx="802.7" cy="578.4" r="5.8" fill="#0000ff"/>
<circle cx="800.1" cy="588.3" r="5.8" fill="#0000ff"/>
<circle cx="797.5" cy="598.3" r="5.8" fill="#0000ff"/>
<circle cx="795" cy="608.2" r="5.8" fill="#0000ff"/>
<circle cx="792.5" cy="618.2" r="5.8" fill="#0000ff"/>
<circle cx="790.4" cy="628.1" r="5.8" fill="#0000ff"/>
<circle cx="788.2" cy="638.1" r="5.8" fill="#0000ff"/>
<circle cx="786.1" cy="648" r="5.8" fill="#0000ff"/>
<circle cx="783.9" cy="657.9" r="5.8" fill="#0000ff"/>
<circle cx="781.7" cy="667.9" r="5.8" fill="#0000ff"/>
<circle cx="779.4" cy="677.8" r="5.8" fill="#0000ff"/>
<circle cx="777" cy="687.8" r="5.8" fill="#0000ff"/>
<circle cx="774.6" cy="697.7" r="5.8" fill="#0000ff"/>
<circle cx="772.2" cy="707.7" r="5.8" fill="#0000ff"/>
<circle cx="770" cy="717.6" r="5.8" fill="#0000ff"/>
<circle cx="768.3" cy="727.6" r="5.8" fill="#0000ff"/>
<circle cx="766.6" cy="737.5" r="5.8" fill="#0000ff"/>
<circle cx="764.9" cy="747.5" r="5.8" fill="#0000ff"/>
<circle cx="763.2" cy="757.4" r="5.8" fill="#0000ff"/>
<circle cx="761.3" cy="767.4" r="5.8" fill="#0000ff"/>
<circle cx="758.7" cy="777.3" r="5.8" fill="#0000ff"/>
<circle cx="756.1" cy="787.3" r="5.8" fill="#0000ff"/>
<circle cx="753.5" cy="797.2" r="5.8" fill="#0000ff"/>
<circle cx="750.9" cy="807.2" r="5.8" fill="#0000ff"/>
<circle cx="748.3" cy="817.1" r="5.8" fill="#0000ff"/>
<circle cx="745.8" cy="827.1" r="5.8" fill="#0000ff"/>
<polyline points="825,18.5 825,22.5 825,26.5 825,30.5 825,34.4 825,38.4 825,42.4 825,48.4 825,58.3 825,68.3 825.4,78.2 832.4,88.2 843.5,98.1 855.3,108 867,118 888.5,137.9 901.3,157.8 911,177.7 917.4,197.6 921.6,217.5 921.4,267.2 892.8,316.9 862,416.4 836.9,515.9 812.5,615.4 787.6,714.8 763.5,814.3" fill="none" stroke="#ff0000" stroke-width="2.8" stroke-linejoin="round" stroke-linecap="butt" />
<polygon points="916.2,267.2 887.9,314 886,320 872.8,367 870.7,380 858.5,416.7 851.3,445.7 845,466.4 839.6,488.5 832.5,516.1 827.4,540 822,565.8 809.2,615.5 796.4,665.2 792.4,680 783.2,714.9 777.5,740 770,764.6 758.7,814.4 756,825 766,825 768.4,814.4 779.6,764.6 785.7,740 792,714.9 800.5,680 805,665.2 816.7,615.5 830.6,565.8 836,540 842,516.1 849.2,488.5 854.6,466.4 859.9,445.7 866,416.7 877,380 880.3,367 894,320 898.6,314 919.8,267.2" fill="#ff0000" stroke="#ff0000" stroke-width="0.6" stroke-linejoin="round"/>
<circle cx="825" cy="18.5" r="5.8" fill="#ff0000"/>
<circle cx="825" cy="22.5" r="5.8" fill="#ff0000"/>
<circle cx="825" cy="26.5" r="5.8" fill="#ff0000"/>
<circle cx="825" cy="30.5" r="5.8" fill="#ff0000"/>
<circle cx="825" cy="34.4" r="5.8" fill="#ff0000"/>
<circle cx="825" cy="38.4" r="5.8" fill="#ff0000"/>
<circle cx="825" cy="42.4" r="5.8" fill="#ff0000"/>
<circle cx="825" cy="48.4" r="5.8" fill="#ff0000"/>
<circle cx="825" cy="58.3" r="5.8" fill="#ff0000"/>
<circle cx="825" cy="68.3" r="5.8" fill="#ff0000"/>
<circle cx="825.4" cy="78.2" r="5.8" fill="#ff0000"/>
<circle cx="832.4" cy="88.2" r="5.8" fill="#ff0000"/>
<circle cx="843.5" cy="98.1" r="5.8" fill="#ff0000"/>
<circle cx="855.3" cy="108" r="5.8" fill="#ff0000"/>
<circle cx="867" cy="118" r="5.8" fill="#ff0000"/>
<circle cx="888.5" cy="137.9" r="5.8" fill="#ff0000"/>
<circle cx="901.3" cy="157.8" r="5.8" fill="#ff0000"/>
<circle cx="911" cy="177.7" r="5.8" fill="#ff0000"/>
<circle cx="917.4" cy="197.6" r="5.8" fill="#ff0000"/>
<circle cx="921.6" cy="217.5" r="5.8" fill="#ff0000"/>
<circle cx="921.4" cy="267.2" r="5.8" fill="#ff0000"/>
<circle cx="892.8" cy="316.9" r="5.8" fill="#ff0000"/>
<circle cx="862" cy="416.4" r="5.8" fill="#ff0000"/>
<circle cx="836.9" cy="515.9" r="5.8" fill="#ff0000"/>
<circle cx="812.5" cy="615.4" r="5.8" fill="#ff0000"/>
<circle cx="787.6" cy="714.8" r="5.8" fill="#ff0000"/>
<circle cx="763.5" cy="814.3" r="5.8" fill="#ff0000"/>
<polyline points="793.2,18.5 793,22.5 792.8,26.5 792.6,30.5 792.6,34.4 792.8,38.4 793.2,42.4 795.3,48.4 810.5,58.3 827.5,68.3 836.4,78.2 847.4,88.2 863.4,98.1 881,108 900.3,118 931.3,137.9 940.5,157.8 939.4,177.7 938.5,197.6 935.3,217.5 922,267.2 905.4,316.9 861,416.4 849.6,515.9 833.2,615.4 811.4,714.8 787.3,814.3" fill="none" stroke="#008000" stroke-width="2.8" stroke-linejoin="round" stroke-linecap="butt" />
<circle cx="793.2" cy="18.5" r="5.8" fill="#008000"/>
<circle cx="793" cy="22.5" r="5.8" fill="#008000"/>
<circle cx="792.8" cy="26.5" r="5.8" fill="#008000"/>
<circle cx="792.6" cy="30.5" r="5.8" fill="#008000"/>
<circle cx="792.6" cy="34.4" r="5.8" fill="#008000"/>
<circle cx="792.8" cy="38.4" r="5.8" fill="#008000"/>
<circle cx="793.2" cy="42.4" r="5.8" fill="#008000"/>
<circle cx="795.3" cy="48.4" r="5.8" fill="#008000"/>
<circle cx="810.5" cy="58.3" r="5.8" fill="#008000"/>
<circle cx="827.5" cy="68.3" r="5.8" fill="#008000"/>
<circle cx="836.4" cy="78.2" r="5.8" fill="#008000"/>
<circle cx="847.4" cy="88.2" r="5.8" fill="#008000"/>
<circle cx="863.4" cy="98.1" r="5.8" fill="#008000"/>
<circle cx="881" cy="108" r="5.8" fill="#008000"/>
<circle cx="900.3" cy="118" r="5.8" fill="#008000"/>
<circle cx="931.3" cy="137.9" r="5.8" fill="#008000"/>
<circle cx="940.5" cy="157.8" r="5.8" fill="#008000"/>
<circle cx="939.4" cy="177.7" r="5.8" fill="#008000"/>
<circle cx="938.5" cy="197.6" r="5.8" fill="#008000"/>
<circle cx="935.3" cy="217.5" r="5.8" fill="#008000"/>
<circle cx="922" cy="267.2" r="5.8" fill="#008000"/>
<circle cx="905.4" cy="316.9" r="5.8" fill="#008000"/>
<circle cx="861" cy="416.4" r="5.8" fill="#008000"/>
<circle cx="849.6" cy="515.9" r="5.8" fill="#008000"/>
<circle cx="833.2" cy="615.4" r="5.8" fill="#008000"/>
<circle cx="811.4" cy="714.8" r="5.8" fill="#008000"/>
<circle cx="787.3" cy="814.3" r="5.8" fill="#008000"/>
<polyline points="828.6,19.5 828.6,21.6 828.6,23.8 828.6,26.1 828.6,28.6 828.6,31.3 828.6,34.3 828.6,37.6 828.6,41.2 828.6,45.3 828.6,50 828.6,55.3 828.6,61.5 829.3,68.7 847.4,77.1 875,87 885.3,98.8 891.3,112.8 897,129.5 905.6,149.4 912,173.4 915.4,202.2 916.7,236.8 916.7,278.5 911.3,328.6 902.3,388.8 889.3,461.1 875.5,547.8 858.5,651.4 833.4,774.9 791.8,921.6" fill="none" stroke="#ff00ff" stroke-width="2.8" stroke-linejoin="round" stroke-linecap="butt" />
<circle cx="828.6" cy="19.5" r="5.8" fill="#ff00ff"/>
<circle cx="828.6" cy="21.6" r="5.8" fill="#ff00ff"/>
<circle cx="828.6" cy="23.8" r="5.8" fill="#ff00ff"/>
<circle cx="828.6" cy="26.1" r="5.8" fill="#ff00ff"/>
<circle cx="828.6" cy="28.6" r="5.8" fill="#ff00ff"/>
<circle cx="828.6" cy="31.3" r="5.8" fill="#ff00ff"/>
<circle cx="828.6" cy="34.3" r="5.8" fill="#ff00ff"/>
<circle cx="828.6" cy="37.6" r="5.8" fill="#ff00ff"/>
<circle cx="828.6" cy="41.2" r="5.8" fill="#ff00ff"/>
<circle cx="828.6" cy="45.3" r="5.8" fill="#ff00ff"/>
<circle cx="828.6" cy="50" r="5.8" fill="#ff00ff"/>
<circle cx="828.6" cy="55.3" r="5.8" fill="#ff00ff"/>
<circle cx="828.6" cy="61.5" r="5.8" fill="#ff00ff"/>
<circle cx="829.3" cy="68.7" r="5.8" fill="#ff00ff"/>
<circle cx="847.4" cy="77.1" r="5.8" fill="#ff00ff"/>
<circle cx="875" cy="87" r="5.8" fill="#ff00ff"/>
<circle cx="885.3" cy="98.8" r="5.8" fill="#ff00ff"/>
<circle cx="891.3" cy="112.8" r="5.8" fill="#ff00ff"/>
<circle cx="897" cy="129.5" r="5.8" fill="#ff00ff"/>
<circle cx="905.6" cy="149.4" r="5.8" fill="#ff00ff"/>
<circle cx="912" cy="173.4" r="5.8" fill="#ff00ff"/>
<circle cx="915.4" cy="202.2" r="5.8" fill="#ff00ff"/>
<circle cx="916.7" cy="236.8" r="5.8" fill="#ff00ff"/>
<circle cx="916.7" cy="278.5" r="5.8" fill="#ff00ff"/>
<circle cx="911.3" cy="328.6" r="5.8" fill="#ff00ff"/>
<circle cx="902.3" cy="388.8" r="5.8" fill="#ff00ff"/>
<circle cx="889.3" cy="461.1" r="5.8" fill="#ff00ff"/>
<circle cx="875.5" cy="547.8" r="5.8" fill="#ff00ff"/>
<circle cx="858.5" cy="651.4" r="5.8" fill="#ff00ff"/>
<circle cx="833.4" cy="774.9" r="5.8" fill="#ff00ff"/>
<circle cx="791.8" cy="921.6" r="5.8" fill="#ff00ff"/>
</g>
<g stroke="#000" stroke-width="1.25" fill="none">
<line x1="620.5" y1="814.5" x2="620.5" y2="820.7"/>
<line x1="703.5" y1="814.5" x2="703.5" y2="820.7"/>
<line x1="786.5" y1="814.5" x2="786.5" y2="820.7"/>
<line x1="868.5" y1="814.5" x2="868.5" y2="820.7"/>
<line x1="951.5" y1="814.5" x2="951.5" y2="820.7"/>
<line x1="574.3" y1="19.5" x2="580.5" y2="19.5"/>
<line x1="574.3" y1="68.5" x2="580.5" y2="68.5"/>
<line x1="574.3" y1="118.5" x2="580.5" y2="118.5"/>
<line x1="574.3" y1="168.5" x2="580.5" y2="168.5"/>
<line x1="574.3" y1="217.5" x2="580.5" y2="217.5"/>
<line x1="574.3" y1="267.5" x2="580.5" y2="267.5"/>
<line x1="574.3" y1="317.5" x2="580.5" y2="317.5"/>
<line x1="574.3" y1="367.5" x2="580.5" y2="367.5"/>
<line x1="574.3" y1="416.5" x2="580.5" y2="416.5"/>
<line x1="574.3" y1="466.5" x2="580.5" y2="466.5"/>
<line x1="574.3" y1="516.5" x2="580.5" y2="516.5"/>
<line x1="574.3" y1="566.5" x2="580.5" y2="566.5"/>
<line x1="574.3" y1="615.5" x2="580.5" y2="615.5"/>
<line x1="574.3" y1="665.5" x2="580.5" y2="665.5"/>
<line x1="574.3" y1="715.5" x2="580.5" y2="715.5"/>
<line x1="574.3" y1="765.5" x2="580.5" y2="765.5"/>
<rect x="580.5" y="19.5" width="402" height="795" stroke-linejoin="miter"/>
</g>
<clipPath id="clip2"><rect x="1072.5" y="19.5" width="402" height="795"/></clipPath>
<g id="ax2-grid" stroke="#b0b0b0" stroke-width="0.87" stroke-dasharray="3.22 1.39" fill="none">
<line x1="1126.5" y1="814.5" x2="1126.5" y2="19.5"/>
<line x1="1205.5" y1="814.5" x2="1205.5" y2="19.5"/>
<line x1="1285.5" y1="814.5" x2="1285.5" y2="19.5"/>
<line x1="1364.5" y1="814.5" x2="1364.5" y2="19.5"/>
<line x1="1444.5" y1="814.5" x2="1444.5" y2="19.5"/>
<line x1="1072.5" y1="68.5" x2="1474.5" y2="68.5"/>
<line x1="1072.5" y1="118.5" x2="1474.5" y2="118.5"/>
<line x1="1072.5" y1="168.5" x2="1474.5" y2="168.5"/>
<line x1="1072.5" y1="217.5" x2="1474.5" y2="217.5"/>
<line x1="1072.5" y1="267.5" x2="1474.5" y2="267.5"/>
<line x1="1072.5" y1="317.5" x2="1474.5" y2="317.5"/>
<line x1="1072.5" y1="367.5" x2="1474.5" y2="367.5"/>
<line x1="1072.5" y1="416.5" x2="1474.5" y2="416.5"/>
<line x1="1072.5" y1="466.5" x2="1474.5" y2="466.5"/>
<line x1="1072.5" y1="516.5" x2="1474.5" y2="516.5"/>
<line x1="1072.5" y1="566.5" x2="1474.5" y2="566.5"/>
<line x1="1072.5" y1="615.5" x2="1474.5" y2="615.5"/>
<line x1="1072.5" y1="665.5" x2="1474.5" y2="665.5"/>
<line x1="1072.5" y1="715.5" x2="1474.5" y2="715.5"/>
<line x1="1072.5" y1="765.5" x2="1474.5" y2="765.5"/>
</g>
<g clip-path="url(#clip2)">
<polygon points="1097.5,19 1098.5,70 1101,80.7 1103,100 1109.5,106.4 1120,123.5 1129,132 1139.5,142.8 1152.5,160 1161,168.5 1171.5,181.3 1180,202.7 1189.5,230 1206.5,280 1221.5,312 1237.5,340 1247.5,380 1256.5,420 1270.5,520 1283.5,620 1296.5,720 1307.5,822.5 1315,822.5 1302.8,720 1290.8,620 1278,520 1263.8,420 1256.1,382.7 1245,335.6 1230.5,312 1220.5,280 1205.5,230 1199.5,202 1190.5,180 1178.5,160 1167.7,140.6 1150.5,121.4 1138.5,107 1123.5,90 1107.5,70 1104.5,19" fill="#00ffff" stroke="#00ffff" stroke-width="3" stroke-linejoin="round"/>
<g fill="#00ffff"><circle cx="1098.3" cy="19" r="2.8"/><circle cx="1097.9" cy="22.4" r="2.8"/><circle cx="1098.9" cy="25.8" r="2.8"/><circle cx="1098.6" cy="29.2" r="2.8"/><circle cx="1098.4" cy="32.6" r="2.8"/><circle cx="1099" cy="36" r="2.8"/><circle cx="1098.1" cy="39.4" r="2.8"/><circle cx="1098.3" cy="42.8" r="2.8"/><circle cx="1099.6" cy="46.2" r="2.8"/><circle cx="1099" cy="49.6" r="2.8"/><circle cx="1098.4" cy="53" r="2.8"/><circle cx="1099.1" cy="56.4" r="2.8"/><circle cx="1098.8" cy="59.8" r="2.8"/><circle cx="1099.1" cy="63.2" r="2.8"/><circle cx="1098.9" cy="66.6" r="2.8"/><circle cx="1099" cy="70" r="2.8"/><circle cx="1099.7" cy="73.6" r="2.8"/><circle cx="1101.4" cy="77.1" r="2.8"/><circle cx="1102.6" cy="80.7" r="2.8"/><circle cx="1102.1" cy="83.9" r="2.8"/><circle cx="1102.7" cy="87.1" r="2.8"/><circle cx="1102.5" cy="90.3" r="2.8"/><circle cx="1102.8" cy="93.6" r="2.8"/><circle cx="1103" cy="96.8" r="2.8"/><circle cx="1103.8" cy="100" r="2.8"/><circle cx="1106.5" cy="103.2" r="2.8"/><circle cx="1111" cy="106.4" r="2.8"/><circle cx="1112.5" cy="109.2" r="2.8"/><circle cx="1113.3" cy="112.1" r="2.8"/><circle cx="1116.3" cy="115" r="2.8"/><circle cx="1118" cy="117.8" r="2.8"/><circle cx="1119.5" cy="120.7" r="2.8"/><circle cx="1120.2" cy="123.5" r="2.8"/><circle cx="1124.5" cy="126.3" r="2.8"/><circle cx="1126.3" cy="129.2" r="2.8"/><circle cx="1130.6" cy="132" r="2.8"/><circle cx="1132.1" cy="134.7" r="2.8"/><circle cx="1134.9" cy="137.4" r="2.8"/><circle cx="1137.3" cy="140.1" r="2.8"/><circle cx="1141.2" cy="142.8" r="2.8"/><circle cx="1142.9" cy="145.7" r="2.8"/><circle cx="1144" cy="148.5" r="2.8"/><circle cx="1146.3" cy="151.4" r="2.8"/><circle cx="1148.8" cy="154.3" r="2.8"/><circle cx="1151.8" cy="157.1" r="2.8"/><circle cx="1152.7" cy="160" r="2.8"/><circle cx="1156.9" cy="162.8" r="2.8"/><circle cx="1158.6" cy="165.7" r="2.8"/><circle cx="1161.5" cy="168.5" r="2.8"/><circle cx="1164.3" cy="171.1" r="2.8"/><circle cx="1165.7" cy="173.6" r="2.8"/><circle cx="1168.8" cy="176.2" r="2.8"/><circle cx="1170.7" cy="178.7" r="2.8"/><circle cx="1171.8" cy="181.3" r="2.8"/><circle cx="1173" cy="184.4" r="2.8"/><circle cx="1174.7" cy="187.4" r="2.8"/><circle cx="1175.4" cy="190.5" r="2.8"/><circle cx="1177.5" cy="193.5" r="2.8"/><circle cx="1178.7" cy="196.6" r="2.8"/><circle cx="1179.5" cy="199.6" r="2.8"/><circle cx="1180.7" cy="202.7" r="2.8"/><circle cx="1182.5" cy="205.7" r="2.8"/><circle cx="1183.3" cy="208.8" r="2.8"/><circle cx="1183.5" cy="211.8" r="2.8"/><circle cx="1184.8" cy="214.8" r="2.8"/><circle cx="1186.2" cy="217.9" r="2.8"/><circle cx="1187.2" cy="220.9" r="2.8"/><circle cx="1188.7" cy="223.9" r="2.8"/><circle cx="1189.1" cy="227" r="2.8"/><circle cx="1190.9" cy="230" r="2.8"/><circle cx="1190.9" cy="233.1" r="2.8"/><circle cx="1192.1" cy="236.2" r="2.8"/><circle cx="1193" cy="239.4" r="2.8"/><circle cx="1194.4" cy="242.5" r="2.8"/><circle cx="1195.2" cy="245.6" r="2.8"/><circle cx="1196.1" cy="248.8" r="2.8"/><circle cx="1197.4" cy="251.9" r="2.8"/><circle cx="1199" cy="255" r="2.8"/><circle cx="1199.4" cy="258.1" r="2.8"/><circle cx="1200.9" cy="261.2" r="2.8"/><circle cx="1201.8" cy="264.4" r="2.8"/><circle cx="1202.5" cy="267.5" r="2.8"/><circle cx="1203.5" cy="270.6" r="2.8"/><circle cx="1205.7" cy="273.8" r="2.8"/><circle cx="1205.8" cy="276.9" r="2.8"/><circle cx="1208" cy="280" r="2.8"/><circle cx="1209.1" cy="282.9" r="2.8"/><circle cx="1209.7" cy="285.8" r="2.8"/><circle cx="1211" cy="288.7" r="2.8"/><circle cx="1212.6" cy="291.6" r="2.8"/><circle cx="1214.5" cy="294.5" r="2.8"/><circle cx="1214.9" cy="297.5" r="2.8"/><circle cx="1216.3" cy="300.4" r="2.8"/><circle cx="1217.7" cy="303.3" r="2.8"/><circle cx="1219.4" cy="306.2" r="2.8"/><circle cx="1220.9" cy="309.1" r="2.8"/><circle cx="1221.8" cy="312" r="2.8"/><circle cx="1223.3" cy="314.8" r="2.8"/><circle cx="1226" cy="317.6" r="2.8"/><circle cx="1226.6" cy="320.4" r="2.8"/><circle cx="1228.1" cy="323.2" r="2.8"/><circle cx="1230.9" cy="326" r="2.8"/><circle cx="1232.2" cy="328.8" r="2.8"/><circle cx="1233.2" cy="331.6" r="2.8"/><circle cx="1235.4" cy="334.4" r="2.8"/><circle cx="1236.4" cy="337.2" r="2.8"/><circle cx="1237.7" cy="340" r="2.8"/><circle cx="1238.6" cy="343.3" r="2.8"/><circle cx="1239.6" cy="346.7" r="2.8"/><circle cx="1240.8" cy="350" r="2.8"/><circle cx="1241.6" cy="353.3" r="2.8"/><circle cx="1242.2" cy="356.7" r="2.8"/><circle cx="1242.7" cy="360" r="2.8"/><circle cx="1243.7" cy="363.3" r="2.8"/><circle cx="1245.7" cy="366.7" r="2.8"/><circle cx="1245.6" cy="370" r="2.8"/><circle cx="1246.1" cy="373.3" r="2.8"/><circle cx="1247.2" cy="376.7" r="2.8"/><circle cx="1247.9" cy="380" r="2.8"/><circle cx="1249" cy="383.3" r="2.8"/><circle cx="1249.8" cy="386.7" r="2.8"/><circle cx="1250.5" cy="390" r="2.8"/><circle cx="1251.9" cy="393.3" r="2.8"/><circle cx="1251.7" cy="396.7" r="2.8"/><circle cx="1253.2" cy="400" r="2.8"/><circle cx="1253.9" cy="403.3" r="2.8"/><circle cx="1254.5" cy="406.7" r="2.8"/><circle cx="1255.5" cy="410" r="2.8"/><circle cx="1256.3" cy="413.3" r="2.8"/><circle cx="1256.2" cy="416.7" r="2.8"/><circle cx="1256.7" cy="420" r="2.8"/><circle cx="1257.3" cy="423.2" r="2.8"/><circle cx="1257.7" cy="426.5" r="2.8"/><circle cx="1258.9" cy="429.7" r="2.8"/><circle cx="1259.6" cy="432.9" r="2.8"/><circle cx="1259.9" cy="436.1" r="2.8"/><circle cx="1259.4" cy="439.4" r="2.8"/><circle cx="1260.5" cy="442.6" r="2.8"/><circle cx="1260.6" cy="445.8" r="2.8"/><circle cx="1261.3" cy="449" r="2.8"/><circle cx="1261.8" cy="452.3" r="2.8"/><circle cx="1261.7" cy="455.5" r="2.8"/><circle cx="1262.1" cy="458.7" r="2.8"/><circle cx="1262.7" cy="461.9" r="2.8"/><circle cx="1263.7" cy="465.2" r="2.8"/><circle cx="1263.5" cy="468.4" r="2.8"/><circle cx="1265" cy="471.6" r="2.8"/><circle cx="1264.4" cy="474.8" r="2.8"/><circle cx="1266.2" cy="478.1" r="2.8"/><circle cx="1265.3" cy="481.3" r="2.8"/><circle cx="1265.7" cy="484.5" r="2.8"/><circle cx="1267.2" cy="487.7" r="2.8"/><circle cx="1267.9" cy="491" r="2.8"/><circle cx="1267.7" cy="494.2" r="2.8"/><circle cx="1268" cy="497.4" r="2.8"/><circle cx="1268.2" cy="500.6" r="2.8"/><circle cx="1268.6" cy="503.9" r="2.8"/><circle cx="1269" cy="507.1" r="2.8"/><circle cx="1269.6" cy="510.3" r="2.8"/><circle cx="1270.4" cy="513.5" r="2.8"/><circle cx="1271.3" cy="516.8" r="2.8"/><circle cx="1270.8" cy="520" r="2.8"/><circle cx="1272" cy="523.2" r="2.8"/><circle cx="1272.1" cy="526.5" r="2.8"/><circle cx="1273" cy="529.7" r="2.8"/><circle cx="1273.1" cy="532.9" r="2.8"/><circle cx="1273.9" cy="536.1" r="2.8"/><circle cx="1273.2" cy="539.4" r="2.8"/><circle cx="1274.3" cy="542.6" r="2.8"/><circle cx="1274.6" cy="545.8" r="2.8"/><circle cx="1275.1" cy="549" r="2.8"/><circle cx="1275.9" cy="552.3" r="2.8"/><circle cx="1275.5" cy="555.5" r="2.8"/><circle cx="1276" cy="558.7" r="2.8"/><circle cx="1276.2" cy="561.9" r="2.8"/><circle cx="1276.7" cy="565.2" r="2.8"/><circle cx="1277.7" cy="568.4" r="2.8"/><circle cx="1277.5" cy="571.6" r="2.8"/><circle cx="1277.9" cy="574.8" r="2.8"/><circle cx="1279.1" cy="578.1" r="2.8"/><circle cx="1279.5" cy="581.3" r="2.8"/><circle cx="1280.4" cy="584.5" r="2.8"/><circle cx="1279.7" cy="587.7" r="2.8"/><circle cx="1280.4" cy="591" r="2.8"/><circle cx="1280.5" cy="594.2" r="2.8"/><circle cx="1281.8" cy="597.4" r="2.8"/><circle cx="1281.2" cy="600.6" r="2.8"/><circle cx="1282" cy="603.9" r="2.8"/><circle cx="1282.1" cy="607.1" r="2.8"/><circle cx="1283.3" cy="610.3" r="2.8"/><circle cx="1283.2" cy="613.5" r="2.8"/><circle cx="1283.9" cy="616.8" r="2.8"/><circle cx="1284.1" cy="620" r="2.8"/><circle cx="1285" cy="623.2" r="2.8"/><circle cx="1285" cy="626.5" r="2.8"/><circle cx="1285" cy="629.7" r="2.8"/><circle cx="1286.7" cy="632.9" r="2.8"/><circle cx="1285.8" cy="636.1" r="2.8"/><circle cx="1286.4" cy="639.4" r="2.8"/><circle cx="1287.3" cy="642.6" r="2.8"/><circle cx="1287.1" cy="645.8" r="2.8"/><circle cx="1287.7" cy="649" r="2.8"/><circle cx="1289.2" cy="652.3" r="2.8"/><circle cx="1288.3" cy="655.5" r="2.8"/><circle cx="1289" cy="658.7" r="2.8"/><circle cx="1289.3" cy="661.9" r="2.8"/><circle cx="1290.3" cy="665.2" r="2.8"/><circle cx="1290.3" cy="668.4" r="2.8"/><circle cx="1290.8" cy="671.6" r="2.8"/><circle cx="1291.2" cy="674.8" r="2.8"/><circle cx="1291.4" cy="678.1" r="2.8"/><circle cx="1291.7" cy="681.3" r="2.8"/><circle cx="1292.1" cy="684.5" r="2.8"/><circle cx="1293.1" cy="687.7" r="2.8"/><circle cx="1294" cy="691" r="2.8"/><circle cx="1293.4" cy="694.2" r="2.8"/><circle cx="1294.6" cy="697.4" r="2.8"/><circle cx="1294.2" cy="700.6" r="2.8"/><circle cx="1295.4" cy="703.9" r="2.8"/><circle cx="1295.6" cy="707.1" r="2.8"/><circle cx="1296.3" cy="710.3" r="2.8"/><circle cx="1295.9" cy="713.5" r="2.8"/><circle cx="1296.6" cy="716.8" r="2.8"/><circle cx="1296.8" cy="720" r="2.8"/><circle cx="1297.3" cy="723.2" r="2.8"/><circle cx="1298.8" cy="726.4" r="2.8"/><circle cx="1299.2" cy="729.6" r="2.8"/><circle cx="1298.1" cy="732.8" r="2.8"/><circle cx="1299.2" cy="736" r="2.8"/><circle cx="1298.8" cy="739.2" r="2.8"/><circle cx="1299.1" cy="742.4" r="2.8"/><circle cx="1300.6" cy="745.6" r="2.8"/><circle cx="1301.1" cy="748.8" r="2.8"/><circle cx="1300.7" cy="752" r="2.8"/><circle cx="1300.6" cy="755.2" r="2.8"/><circle cx="1302.3" cy="758.4" r="2.8"/><circle cx="1302.5" cy="761.6" r="2.8"/><circle cx="1301.5" cy="764.8" r="2.8"/><circle cx="1302.4" cy="768" r="2.8"/><circle cx="1302.8" cy="771.2" r="2.8"/><circle cx="1303" cy="774.5" r="2.8"/><circle cx="1304.1" cy="777.7" r="2.8"/><circle cx="1304.7" cy="780.9" r="2.8"/><circle cx="1303.6" cy="784.1" r="2.8"/><circle cx="1304.8" cy="787.3" r="2.8"/><circle cx="1304.6" cy="790.5" r="2.8"/><circle cx="1304.8" cy="793.7" r="2.8"/><circle cx="1306" cy="796.9" r="2.8"/><circle cx="1305.5" cy="800.1" r="2.8"/><circle cx="1305.6" cy="803.3" r="2.8"/><circle cx="1307.3" cy="806.5" r="2.8"/><circle cx="1307.6" cy="809.7" r="2.8"/><circle cx="1306.7" cy="812.9" r="2.8"/><circle cx="1307.8" cy="816.1" r="2.8"/><circle cx="1308.4" cy="819.3" r="2.8"/><circle cx="1103.4" cy="19" r="2.8"/><circle cx="1103.6" cy="22.4" r="2.8"/><circle cx="1104.5" cy="25.8" r="2.8"/><circle cx="1104.6" cy="29.2" r="2.8"/><circle cx="1104.9" cy="32.6" r="2.8"/><circle cx="1104.3" cy="36" r="2.8"/><circle cx="1104.6" cy="39.4" r="2.8"/><circle cx="1104.2" cy="42.8" r="2.8"/><circle cx="1104.9" cy="46.2" r="2.8"/><circle cx="1105.6" cy="49.6" r="2.8"/><circle cx="1105.6" cy="53" r="2.8"/><circle cx="1106.5" cy="56.4" r="2.8"/><circle cx="1106.7" cy="59.8" r="2.8"/><circle cx="1106.2" cy="63.2" r="2.8"/><circle cx="1106.3" cy="66.6" r="2.8"/><circle cx="1106" cy="70" r="2.8"/><circle cx="1108.8" cy="72.5" r="2.8"/><circle cx="1111.3" cy="75" r="2.8"/><circle cx="1113.1" cy="77.5" r="2.8"/><circle cx="1113.8" cy="80" r="2.8"/><circle cx="1115.8" cy="82.5" r="2.8"/><circle cx="1119.1" cy="85" r="2.8"/><circle cx="1121.2" cy="87.5" r="2.8"/><circle cx="1123.3" cy="90" r="2.8"/><circle cx="1124.9" cy="92.4" r="2.8"/><circle cx="1127.6" cy="94.9" r="2.8"/><circle cx="1129.4" cy="97.3" r="2.8"/><circle cx="1131.8" cy="99.7" r="2.8"/><circle cx="1133" cy="102.1" r="2.8"/><circle cx="1136" cy="104.6" r="2.8"/><circle cx="1137.7" cy="107" r="2.8"/><circle cx="1140.6" cy="109.9" r="2.8"/><circle cx="1142.9" cy="112.8" r="2.8"/><circle cx="1144" cy="115.6" r="2.8"/><circle cx="1147.9" cy="118.5" r="2.8"/><circle cx="1149.2" cy="121.4" r="2.8"/><circle cx="1152.1" cy="123.8" r="2.8"/><circle cx="1154.3" cy="126.2" r="2.8"/><circle cx="1156.6" cy="128.6" r="2.8"/><circle cx="1158.8" cy="131" r="2.8"/><circle cx="1160.7" cy="133.4" r="2.8"/><circle cx="1162.7" cy="135.8" r="2.8"/><circle cx="1165.2" cy="138.2" r="2.8"/><circle cx="1166.7" cy="140.6" r="2.8"/><circle cx="1168.2" cy="143.8" r="2.8"/><circle cx="1170.2" cy="147.1" r="2.8"/><circle cx="1172" cy="150.3" r="2.8"/><circle cx="1174.7" cy="153.5" r="2.8"/><circle cx="1175.5" cy="156.8" r="2.8"/><circle cx="1177.7" cy="160" r="2.8"/><circle cx="1180" cy="162.9" r="2.8"/><circle cx="1181.1" cy="165.7" r="2.8"/><circle cx="1183.4" cy="168.6" r="2.8"/><circle cx="1184.3" cy="171.4" r="2.8"/><circle cx="1186.7" cy="174.3" r="2.8"/><circle cx="1188.6" cy="177.1" r="2.8"/><circle cx="1190.1" cy="180" r="2.8"/><circle cx="1190.9" cy="183.1" r="2.8"/><circle cx="1192.8" cy="186.3" r="2.8"/><circle cx="1193" cy="189.4" r="2.8"/><circle cx="1195.4" cy="192.6" r="2.8"/><circle cx="1195.8" cy="195.7" r="2.8"/><circle cx="1198" cy="198.9" r="2.8"/><circle cx="1198.1" cy="202" r="2.8"/><circle cx="1198.9" cy="205.5" r="2.8"/><circle cx="1200.6" cy="209" r="2.8"/><circle cx="1201.1" cy="212.5" r="2.8"/><circle cx="1202.3" cy="216" r="2.8"/><circle cx="1201.8" cy="219.5" r="2.8"/><circle cx="1203.7" cy="223" r="2.8"/><circle cx="1204.1" cy="226.5" r="2.8"/><circle cx="1205" cy="230" r="2.8"/><circle cx="1205.7" cy="233.1" r="2.8"/><circle cx="1207.1" cy="236.2" r="2.8"/><circle cx="1206.7" cy="239.4" r="2.8"/><circle cx="1208.9" cy="242.5" r="2.8"/><circle cx="1209.5" cy="245.6" r="2.8"/><circle cx="1209.7" cy="248.8" r="2.8"/><circle cx="1211.8" cy="251.9" r="2.8"/><circle cx="1212" cy="255" r="2.8"/><circle cx="1212.9" cy="258.1" r="2.8"/><circle cx="1214.6" cy="261.2" r="2.8"/><circle cx="1215.5" cy="264.4" r="2.8"/><circle cx="1216.5" cy="267.5" r="2.8"/><circle cx="1217.5" cy="270.6" r="2.8"/><circle cx="1218.3" cy="273.8" r="2.8"/><circle cx="1218.6" cy="276.9" r="2.8"/><circle cx="1220.2" cy="280" r="2.8"/><circle cx="1220.1" cy="283.2" r="2.8"/><circle cx="1222.2" cy="286.4" r="2.8"/><circle cx="1223.1" cy="289.6" r="2.8"/><circle cx="1223.6" cy="292.8" r="2.8"/><circle cx="1225.2" cy="296" r="2.8"/><circle cx="1226.1" cy="299.2" r="2.8"/><circle cx="1226.6" cy="302.4" r="2.8"/><circle cx="1227.3" cy="305.6" r="2.8"/><circle cx="1229.2" cy="308.8" r="2.8"/><circle cx="1230.3" cy="312" r="2.8"/><circle cx="1232" cy="314.9" r="2.8"/><circle cx="1233.7" cy="317.9" r="2.8"/><circle cx="1235.6" cy="320.9" r="2.8"/><circle cx="1237.3" cy="323.8" r="2.8"/><circle cx="1239.2" cy="326.8" r="2.8"/><circle cx="1239.8" cy="329.7" r="2.8"/><circle cx="1241.7" cy="332.7" r="2.8"/><circle cx="1243.4" cy="335.6" r="2.8"/><circle cx="1244.7" cy="338.7" r="2.8"/><circle cx="1245.8" cy="341.9" r="2.8"/><circle cx="1247" cy="345" r="2.8"/><circle cx="1247.7" cy="348.2" r="2.8"/><circle cx="1247.4" cy="351.3" r="2.8"/><circle cx="1248.7" cy="354.4" r="2.8"/><circle cx="1249.5" cy="357.6" r="2.8"/><circle cx="1250.6" cy="360.7" r="2.8"/><circle cx="1251.3" cy="363.9" r="2.8"/><circle cx="1250.9" cy="367" r="2.8"/><circle cx="1252.4" cy="370.1" r="2.8"/><circle cx="1252.4" cy="373.3" r="2.8"/><circle cx="1254.4" cy="376.4" r="2.8"/><circle cx="1255.2" cy="379.6" r="2.8"/><circle cx="1255.2" cy="382.7" r="2.8"/><circle cx="1256.1" cy="386.1" r="2.8"/><circle cx="1256" cy="389.5" r="2.8"/><circle cx="1257.9" cy="392.9" r="2.8"/><circle cx="1258.4" cy="396.3" r="2.8"/><circle cx="1259.2" cy="399.7" r="2.8"/><circle cx="1259.1" cy="403" r="2.8"/><circle cx="1260.5" cy="406.4" r="2.8"/><circle cx="1261.5" cy="409.8" r="2.8"/><circle cx="1261.8" cy="413.2" r="2.8"/><circle cx="1262.9" cy="416.6" r="2.8"/><circle cx="1263.6" cy="420" r="2.8"/><circle cx="1263.4" cy="423.2" r="2.8"/><circle cx="1264.4" cy="426.5" r="2.8"/><circle cx="1264.6" cy="429.7" r="2.8"/><circle cx="1264.5" cy="432.9" r="2.8"/><circle cx="1264.8" cy="436.1" r="2.8"/><circle cx="1266.3" cy="439.4" r="2.8"/><circle cx="1266.7" cy="442.6" r="2.8"/><circle cx="1266" cy="445.8" r="2.8"/><circle cx="1267" cy="449" r="2.8"/><circle cx="1266.8" cy="452.3" r="2.8"/><circle cx="1267.5" cy="455.5" r="2.8"/><circle cx="1268.3" cy="458.7" r="2.8"/><circle cx="1269.4" cy="461.9" r="2.8"/><circle cx="1268.8" cy="465.2" r="2.8"/><circle cx="1270.1" cy="468.4" r="2.8"/><circle cx="1269.7" cy="471.6" r="2.8"/><circle cx="1270.6" cy="474.8" r="2.8"/><circle cx="1270.9" cy="478.1" r="2.8"/><circle cx="1271.7" cy="481.3" r="2.8"/><circle cx="1272.4" cy="484.5" r="2.8"/><circle cx="1273.2" cy="487.7" r="2.8"/><circle cx="1273.2" cy="491" r="2.8"/><circle cx="1274.1" cy="494.2" r="2.8"/><circle cx="1273.1" cy="497.4" r="2.8"/><circle cx="1274.4" cy="500.6" r="2.8"/><circle cx="1274.9" cy="503.9" r="2.8"/><circle cx="1276" cy="507.1" r="2.8"/><circle cx="1276.1" cy="510.3" r="2.8"/><circle cx="1275.6" cy="513.5" r="2.8"/><circle cx="1276.5" cy="516.8" r="2.8"/><circle cx="1277.7" cy="520" r="2.8"/><circle cx="1276.8" cy="523.2" r="2.8"/><circle cx="1278.5" cy="526.5" r="2.8"/><circle cx="1279" cy="529.7" r="2.8"/><circle cx="1279.4" cy="532.9" r="2.8"/><circle cx="1278.5" cy="536.1" r="2.8"/><circle cx="1279.3" cy="539.4" r="2.8"/><circle cx="1280.7" cy="542.6" r="2.8"/><circle cx="1280.5" cy="545.8" r="2.8"/><circle cx="1281.1" cy="549" r="2.8"/><circle cx="1280.8" cy="552.3" r="2.8"/><circle cx="1281.9" cy="555.5" r="2.8"/><circle cx="1282.5" cy="558.7" r="2.8"/><circle cx="1282.9" cy="561.9" r="2.8"/><circle cx="1283.6" cy="565.2" r="2.8"/><circle cx="1283.8" cy="568.4" r="2.8"/><circle cx="1284.1" cy="571.6" r="2.8"/><circle cx="1284.8" cy="574.8" r="2.8"/><circle cx="1285.2" cy="578.1" r="2.8"/><circle cx="1284.7" cy="581.3" r="2.8"/><circle cx="1286" cy="584.5" r="2.8"/><circle cx="1285.7" cy="587.7" r="2.8"/><circle cx="1286.3" cy="591" r="2.8"/><circle cx="1286" cy="594.2" r="2.8"/><circle cx="1287.6" cy="597.4" r="2.8"/><circle cx="1287" cy="600.6" r="2.8"/><circle cx="1288.5" cy="603.9" r="2.8"/><circle cx="1288.6" cy="607.1" r="2.8"/><circle cx="1289.3" cy="610.3" r="2.8"/><circle cx="1289" cy="613.5" r="2.8"/><circle cx="1290.2" cy="616.8" r="2.8"/><circle cx="1290.6" cy="620" r="2.8"/><circle cx="1291" cy="623.2" r="2.8"/><circle cx="1290.6" cy="626.5" r="2.8"/><circle cx="1290.7" cy="629.7" r="2.8"/><circle cx="1291.9" cy="632.9" r="2.8"/><circle cx="1292.5" cy="636.1" r="2.8"/><circle cx="1292.1" cy="639.4" r="2.8"/><circle cx="1292.2" cy="642.6" r="2.8"/><circle cx="1293.6" cy="645.8" r="2.8"/><circle cx="1293.1" cy="649" r="2.8"/><circle cx="1294.2" cy="652.3" r="2.8"/><circle cx="1294.4" cy="655.5" r="2.8"/><circle cx="1295.1" cy="658.7" r="2.8"/><circle cx="1295.1" cy="661.9" r="2.8"/><circle cx="1296" cy="665.2" r="2.8"/><circle cx="1296" cy="668.4" r="2.8"/><circle cx="1295.9" cy="671.6" r="2.8"/><circle cx="1296.8" cy="674.8" r="2.8"/><circle cx="1296.7" cy="678.1" r="2.8"/><circle cx="1297.7" cy="681.3" r="2.8"/><circle cx="1298.3" cy="684.5" r="2.8"/><circle cx="1297.5" cy="687.7" r="2.8"/><circle cx="1299" cy="691" r="2.8"/><circle cx="1299.5" cy="694.2" r="2.8"/><circle cx="1299.5" cy="697.4" r="2.8"/><circle cx="1299.4" cy="700.6" r="2.8"/><circle cx="1300" cy="703.9" r="2.8"/><circle cx="1300.9" cy="707.1" r="2.8"/><circle cx="1301.1" cy="710.3" r="2.8"/><circle cx="1300.6" cy="713.5" r="2.8"/><circle cx="1302.1" cy="716.8" r="2.8"/><circle cx="1301.8" cy="720" r="2.8"/><circle cx="1302.7" cy="723.2" r="2.8"/><circle cx="1301.9" cy="726.4" r="2.8"/><circle cx="1303.3" cy="729.6" r="2.8"/><circle cx="1304" cy="732.8" r="2.8"/><circle cx="1304.5" cy="736" r="2.8"/><circle cx="1303.6" cy="739.2" r="2.8"/><circle cx="1304.6" cy="742.4" r="2.8"/><circle cx="1305.6" cy="745.6" r="2.8"/><circle cx="1305.6" cy="748.8" r="2.8"/><circle cx="1306.4" cy="752" r="2.8"/><circle cx="1306.8" cy="755.2" r="2.8"/><circle cx="1306" cy="758.4" r="2.8"/><circle cx="1307.5" cy="761.6" r="2.8"/><circle cx="1306.8" cy="764.8" r="2.8"/><circle cx="1308.1" cy="768" r="2.8"/><circle cx="1308.6" cy="771.2" r="2.8"/><circle cx="1308.9" cy="774.5" r="2.8"/><circle cx="1308.8" cy="777.7" r="2.8"/><circle cx="1309.8" cy="780.9" r="2.8"/><circle cx="1309" cy="784.1" r="2.8"/><circle cx="1310.2" cy="787.3" r="2.8"/><circle cx="1311" cy="790.5" r="2.8"/><circle cx="1310.8" cy="793.7" r="2.8"/><circle cx="1311" cy="796.9" r="2.8"/><circle cx="1310.7" cy="800.1" r="2.8"/><circle cx="1311.5" cy="803.3" r="2.8"/><circle cx="1311.7" cy="806.5" r="2.8"/><circle cx="1313.2" cy="809.7" r="2.8"/><circle cx="1313.7" cy="812.9" r="2.8"/><circle cx="1314" cy="816.1" r="2.8"/><circle cx="1314.2" cy="819.3" r="2.8"/></g>
<polyline points="1101,21.3 1101.2,31.3 1101.3,41.2 1101.4,51.1 1101.6,61.1 1102.9,71 1104.4,81 1109.5,90.9 1116.1,100.9 1123.6,110.8 1131.7,120.8 1140.2,130.7 1148.6,140.7 1156.6,150.6 1164.6,160.6 1172.1,170.5 1177.6,180.5 1182.5,190.4 1186.3,200.4 1189.5,210.3 1193.1,220.3 1196.7,230.2 1200.2,240.2 1203.8,250.1 1207.7,260 1211.8,270 1215.4,279.9 1219,289.9 1222.8,299.8 1226.7,309.8 1232.3,319.7 1238.3,329.7 1242.8,339.6 1245.8,349.6 1248.4,359.5 1250.4,369.5 1252.3,379.4 1254,389.4 1255.7,399.3 1257.6,409.3 1259.4,419.2 1260.9,429.2 1262.4,439.1 1263.9,449 1265.3,459 1266.8,468.9 1268.1,478.9 1269.4,488.8 1270.7,498.8 1272,508.7 1273.2,518.7 1274.4,528.6 1275.6,538.6 1276.8,548.5 1278,558.5 1279.3,568.4 1280.6,578.4 1282,588.3 1283.3,598.3 1284.6,608.2 1286,618.2 1287.2,628.1 1288.5,638.1 1289.7,648 1291,657.9 1292.3,667.9 1293.6,677.8 1295,687.8 1296.3,697.7 1297.6,707.7 1298.9,717.6 1300.1,727.6 1301.2,737.5 1302.3,747.5 1303.5,757.4 1304.5,767.4 1305.4,777.3 1306.3,787.3 1307.1,797.2 1308,807.2 1308.9,817.1 1309.8,827.1" fill="none" stroke="#0000ff" stroke-width="2.8" stroke-linejoin="round" stroke-linecap="butt" />
<circle cx="1101" cy="21.3" r="5.8" fill="#0000ff"/>
<circle cx="1101.2" cy="31.3" r="5.8" fill="#0000ff"/>
<circle cx="1101.3" cy="41.2" r="5.8" fill="#0000ff"/>
<circle cx="1101.4" cy="51.1" r="5.8" fill="#0000ff"/>
<circle cx="1101.6" cy="61.1" r="5.8" fill="#0000ff"/>
<circle cx="1102.9" cy="71" r="5.8" fill="#0000ff"/>
<circle cx="1104.4" cy="81" r="5.8" fill="#0000ff"/>
<circle cx="1109.5" cy="90.9" r="5.8" fill="#0000ff"/>
<circle cx="1116.1" cy="100.9" r="5.8" fill="#0000ff"/>
<circle cx="1123.6" cy="110.8" r="5.8" fill="#0000ff"/>
<circle cx="1131.7" cy="120.8" r="5.8" fill="#0000ff"/>
<circle cx="1140.2" cy="130.7" r="5.8" fill="#0000ff"/>
<circle cx="1148.6" cy="140.7" r="5.8" fill="#0000ff"/>
<circle cx="1156.6" cy="150.6" r="5.8" fill="#0000ff"/>
<circle cx="1164.6" cy="160.6" r="5.8" fill="#0000ff"/>
<circle cx="1172.1" cy="170.5" r="5.8" fill="#0000ff"/>
<circle cx="1177.6" cy="180.5" r="5.8" fill="#0000ff"/>
<circle cx="1182.5" cy="190.4" r="5.8" fill="#0000ff"/>
<circle cx="1186.3" cy="200.4" r="5.8" fill="#0000ff"/>
<circle cx="1189.5" cy="210.3" r="5.8" fill="#0000ff"/>
<circle cx="1193.1" cy="220.3" r="5.8" fill="#0000ff"/>
<circle cx="1196.7" cy="230.2" r="5.8" fill="#0000ff"/>
<circle cx="1200.2" cy="240.2" r="5.8" fill="#0000ff"/>
<circle cx="1203.8" cy="250.1" r="5.8" fill="#0000ff"/>
<circle cx="1207.7" cy="260" r="5.8" fill="#0000ff"/>
<circle cx="1211.8" cy="270" r="5.8" fill="#0000ff"/>
<circle cx="1215.4" cy="279.9" r="5.8" fill="#0000ff"/>
<circle cx="1219" cy="289.9" r="5.8" fill="#0000ff"/>
<circle cx="1222.8" cy="299.8" r="5.8" fill="#0000ff"/>
<circle cx="1226.7" cy="309.8" r="5.8" fill="#0000ff"/>
<circle cx="1232.3" cy="319.7" r="5.8" fill="#0000ff"/>
<circle cx="1238.3" cy="329.7" r="5.8" fill="#0000ff"/>
<circle cx="1242.8" cy="339.6" r="5.8" fill="#0000ff"/>
<circle cx="1245.8" cy="349.6" r="5.8" fill="#0000ff"/>
<circle cx="1248.4" cy="359.5" r="5.8" fill="#0000ff"/>
<circle cx="1250.4" cy="369.5" r="5.8" fill="#0000ff"/>
<circle cx="1252.3" cy="379.4" r="5.8" fill="#0000ff"/>
<circle cx="1254" cy="389.4" r="5.8" fill="#0000ff"/>
<circle cx="1255.7" cy="399.3" r="5.8" fill="#0000ff"/>
<circle cx="1257.6" cy="409.3" r="5.8" fill="#0000ff"/>
<circle cx="1259.4" cy="419.2" r="5.8" fill="#0000ff"/>
<circle cx="1260.9" cy="429.2" r="5.8" fill="#0000ff"/>
<circle cx="1262.4" cy="439.1" r="5.8" fill="#0000ff"/>
<circle cx="1263.9" cy="449" r="5.8" fill="#0000ff"/>
<circle cx="1265.3" cy="459" r="5.8" fill="#0000ff"/>
<circle cx="1266.8" cy="468.9" r="5.8" fill="#0000ff"/>
<circle cx="1268.1" cy="478.9" r="5.8" fill="#0000ff"/>
<circle cx="1269.4" cy="488.8" r="5.8" fill="#0000ff"/>
<circle cx="1270.7" cy="498.8" r="5.8" fill="#0000ff"/>
<circle cx="1272" cy="508.7" r="5.8" fill="#0000ff"/>
<circle cx="1273.2" cy="518.7" r="5.8" fill="#0000ff"/>
<circle cx="1274.4" cy="528.6" r="5.8" fill="#0000ff"/>
<circle cx="1275.6" cy="538.6" r="5.8" fill="#0000ff"/>
<circle cx="1276.8" cy="548.5" r="5.8" fill="#0000ff"/>
<circle cx="1278" cy="558.5" r="5.8" fill="#0000ff"/>
<circle cx="1279.3" cy="568.4" r="5.8" fill="#0000ff"/>
<circle cx="1280.6" cy="578.4" r="5.8" fill="#0000ff"/>
<circle cx="1282" cy="588.3" r="5.8" fill="#0000ff"/>
<circle cx="1283.3" cy="598.3" r="5.8" fill="#0000ff"/>
<circle cx="1284.6" cy="608.2" r="5.8" fill="#0000ff"/>
<circle cx="1286" cy="618.2" r="5.8" fill="#0000ff"/>
<circle cx="1287.2" cy="628.1" r="5.8" fill="#0000ff"/>
<circle cx="1288.5" cy="638.1" r="5.8" fill="#0000ff"/>
<circle cx="1289.7" cy="648" r="5.8" fill="#0000ff"/>
<circle cx="1291" cy="657.9" r="5.8" fill="#0000ff"/>
<circle cx="1292.3" cy="667.9" r="5.8" fill="#0000ff"/>
<circle cx="1293.6" cy="677.8" r="5.8" fill="#0000ff"/>
<circle cx="1295" cy="687.8" r="5.8" fill="#0000ff"/>
<circle cx="1296.3" cy="697.7" r="5.8" fill="#0000ff"/>
<circle cx="1297.6" cy="707.7" r="5.8" fill="#0000ff"/>
<circle cx="1298.9" cy="717.6" r="5.8" fill="#0000ff"/>
<circle cx="1300.1" cy="727.6" r="5.8" fill="#0000ff"/>
<circle cx="1301.2" cy="737.5" r="5.8" fill="#0000ff"/>
<circle cx="1302.3" cy="747.5" r="5.8" fill="#0000ff"/>
<circle cx="1303.5" cy="757.4" r="5.8" fill="#0000ff"/>
<circle cx="1304.5" cy="767.4" r="5.8" fill="#0000ff"/>
<circle cx="1305.4" cy="777.3" r="5.8" fill="#0000ff"/>
<circle cx="1306.3" cy="787.3" r="5.8" fill="#0000ff"/>
<circle cx="1307.1" cy="797.2" r="5.8" fill="#0000ff"/>
<circle cx="1308" cy="807.2" r="5.8" fill="#0000ff"/>
<circle cx="1308.9" cy="817.1" r="5.8" fill="#0000ff"/>
<circle cx="1309.8" cy="827.1" r="5.8" fill="#0000ff"/>
<polyline points="1104,18.5 1104,22.5 1104,26.5 1104,30.5 1104,34.4 1104,38.4 1104,42.4 1104,48.4 1104.5,58.3 1105.5,68.3 1106,78.2 1111.5,88.2 1118.2,98.1 1126,108 1133.9,118 1151,137.9 1167,157.8 1178.8,177.7 1189.5,197.6 1196.5,217.5 1214.2,267.2 1236.4,316.9 1256.5,416.4 1268,515.9 1281,615.4 1294,714.8 1306,814.3" fill="none" stroke="#ff0000" stroke-width="2.8" stroke-linejoin="round" stroke-linecap="butt" />
<polygon points="1213,267.2 1231.5,317.2 1237.5,340 1252.2,416.7 1263.6,516.1 1276.5,615.5 1289.5,714.9 1301.6,814.4 1304,825 1309,825 1306.6,814.4 1294.5,714.9 1281.5,615.5 1268.6,516.1 1257.2,416.7 1242.5,340 1239,317.2 1216,267.2" fill="#ff0000" stroke="#ff0000" stroke-width="0.6" stroke-linejoin="round"/>
<circle cx="1104" cy="18.5" r="5.8" fill="#ff0000"/>
<circle cx="1104" cy="22.5" r="5.8" fill="#ff0000"/>
<circle cx="1104" cy="26.5" r="5.8" fill="#ff0000"/>
<circle cx="1104" cy="30.5" r="5.8" fill="#ff0000"/>
<circle cx="1104" cy="34.4" r="5.8" fill="#ff0000"/>
<circle cx="1104" cy="38.4" r="5.8" fill="#ff0000"/>
<circle cx="1104" cy="42.4" r="5.8" fill="#ff0000"/>
<circle cx="1104" cy="48.4" r="5.8" fill="#ff0000"/>
<circle cx="1104.5" cy="58.3" r="5.8" fill="#ff0000"/>
<circle cx="1105.5" cy="68.3" r="5.8" fill="#ff0000"/>
<circle cx="1106" cy="78.2" r="5.8" fill="#ff0000"/>
<circle cx="1111.5" cy="88.2" r="5.8" fill="#ff0000"/>
<circle cx="1118.2" cy="98.1" r="5.8" fill="#ff0000"/>
<circle cx="1126" cy="108" r="5.8" fill="#ff0000"/>
<circle cx="1133.9" cy="118" r="5.8" fill="#ff0000"/>
<circle cx="1151" cy="137.9" r="5.8" fill="#ff0000"/>
<circle cx="1167" cy="157.8" r="5.8" fill="#ff0000"/>
<circle cx="1178.8" cy="177.7" r="5.8" fill="#ff0000"/>
<circle cx="1189.5" cy="197.6" r="5.8" fill="#ff0000"/>
<circle cx="1196.5" cy="217.5" r="5.8" fill="#ff0000"/>
<circle cx="1214.2" cy="267.2" r="5.8" fill="#ff0000"/>
<circle cx="1236.4" cy="316.9" r="5.8" fill="#ff0000"/>
<circle cx="1256.5" cy="416.4" r="5.8" fill="#ff0000"/>
<circle cx="1268" cy="515.9" r="5.8" fill="#ff0000"/>
<circle cx="1281" cy="615.4" r="5.8" fill="#ff0000"/>
<circle cx="1294" cy="714.8" r="5.8" fill="#ff0000"/>
<circle cx="1306" cy="814.3" r="5.8" fill="#ff0000"/>
<polyline points="1092.5,18.5 1092.8,22.5 1093.1,26.5 1093.5,30.5 1093.9,34.4 1094.3,38.4 1094.8,42.4 1096,48.4 1100.7,58.3 1106,68.3 1112.5,78.2 1117.8,88.2 1124.2,98.1 1136,108 1145.7,118 1162.8,137.9 1175.6,157.8 1188.5,177.7 1197,197.6 1200.7,217.5 1214.2,267.2 1228.5,316.9 1257.5,416.4 1268.9,515.9 1281.8,615.4 1294.8,714.8 1306.9,814.3" fill="none" stroke="#008000" stroke-width="2.8" stroke-linejoin="round" stroke-linecap="butt" />
<circle cx="1092.5" cy="18.5" r="5.8" fill="#008000"/>
<circle cx="1092.8" cy="22.5" r="5.8" fill="#008000"/>
<circle cx="1093.1" cy="26.5" r="5.8" fill="#008000"/>
<circle cx="1093.5" cy="30.5" r="5.8" fill="#008000"/>
<circle cx="1093.9" cy="34.4" r="5.8" fill="#008000"/>
<circle cx="1094.3" cy="38.4" r="5.8" fill="#008000"/>
<circle cx="1094.8" cy="42.4" r="5.8" fill="#008000"/>
<circle cx="1096" cy="48.4" r="5.8" fill="#008000"/>
<circle cx="1100.7" cy="58.3" r="5.8" fill="#008000"/>
<circle cx="1106" cy="68.3" r="5.8" fill="#008000"/>
<circle cx="1112.5" cy="78.2" r="5.8" fill="#008000"/>
<circle cx="1117.8" cy="88.2" r="5.8" fill="#008000"/>
<circle cx="1124.2" cy="98.1" r="5.8" fill="#008000"/>
<circle cx="1136" cy="108" r="5.8" fill="#008000"/>
<circle cx="1145.7" cy="118" r="5.8" fill="#008000"/>
<circle cx="1162.8" cy="137.9" r="5.8" fill="#008000"/>
<circle cx="1175.6" cy="157.8" r="5.8" fill="#008000"/>
<circle cx="1188.5" cy="177.7" r="5.8" fill="#008000"/>
<circle cx="1197" cy="197.6" r="5.8" fill="#008000"/>
<circle cx="1200.7" cy="217.5" r="5.8" fill="#008000"/>
<circle cx="1214.2" cy="267.2" r="5.8" fill="#008000"/>
<circle cx="1228.5" cy="316.9" r="5.8" fill="#008000"/>
<circle cx="1257.5" cy="416.4" r="5.8" fill="#008000"/>
<circle cx="1268.9" cy="515.9" r="5.8" fill="#008000"/>
<circle cx="1281.8" cy="615.4" r="5.8" fill="#008000"/>
<circle cx="1294.8" cy="714.8" r="5.8" fill="#008000"/>
<circle cx="1306.9" cy="814.3" r="5.8" fill="#008000"/>
<polyline points="1107.1,19.5 1107.2,21.6 1107.3,23.8 1107.4,26.1 1107.6,28.6 1107.8,31.3 1108,34.3 1108.3,37.6 1108.6,41.2 1109,45.3 1109.5,50 1110.2,55.3 1111.2,61.5 1112.5,68.7 1116.7,77.1 1124.2,87 1131.3,98.8 1138.6,112.8 1146.7,129.5 1164.3,149.4 1181.6,173.4 1195.3,202.2 1208.2,236.8 1220,278.5 1232.4,328.6 1244.4,388.8 1255.4,461.1 1267.2,547.8 1279.5,651.4 1293.9,774.9 1311,921.6" fill="none" stroke="#ff00ff" stroke-width="2.8" stroke-linejoin="round" stroke-linecap="butt" />
<circle cx="1107.1" cy="19.5" r="5.8" fill="#ff00ff"/>
<circle cx="1107.2" cy="21.6" r="5.8" fill="#ff00ff"/>
<circle cx="1107.3" cy="23.8" r="5.8" fill="#ff00ff"/>
<circle cx="1107.4" cy="26.1" r="5.8" fill="#ff00ff"/>
<circle cx="1107.6" cy="28.6" r="5.8" fill="#ff00ff"/>
<circle cx="1107.8" cy="31.3" r="5.8" fill="#ff00ff"/>
<circle cx="1108" cy="34.3" r="5.8" fill="#ff00ff"/>
<circle cx="1108.3" cy="37.6" r="5.8" fill="#ff00ff"/>
<circle cx="1108.6" cy="41.2" r="5.8" fill="#ff00ff"/>
<circle cx="1109" cy="45.3" r="5.8" fill="#ff00ff"/>
<circle cx="1109.5" cy="50" r="5.8" fill="#ff00ff"/>
<circle cx="1110.2" cy="55.3" r="5.8" fill="#ff00ff"/>
<circle cx="1111.2" cy="61.5" r="5.8" fill="#ff00ff"/>
<circle cx="1112.5" cy="68.7" r="5.8" fill="#ff00ff"/>
<circle cx="1116.7" cy="77.1" r="5.8" fill="#ff00ff"/>
<circle cx="1124.2" cy="87" r="5.8" fill="#ff00ff"/>
<circle cx="1131.3" cy="98.8" r="5.8" fill="#ff00ff"/>
<circle cx="1138.6" cy="112.8" r="5.8" fill="#ff00ff"/>
<circle cx="1146.7" cy="129.5" r="5.8" fill="#ff00ff"/>
<circle cx="1164.3" cy="149.4" r="5.8" fill="#ff00ff"/>
<circle cx="1181.6" cy="173.4" r="5.8" fill="#ff00ff"/>
<circle cx="1195.3" cy="202.2" r="5.8" fill="#ff00ff"/>
<circle cx="1208.2" cy="236.8" r="5.8" fill="#ff00ff"/>
<circle cx="1220" cy="278.5" r="5.8" fill="#ff00ff"/>
<circle cx="1232.4" cy="328.6" r="5.8" fill="#ff00ff"/>
<circle cx="1244.4" cy="388.8" r="5.8" fill="#ff00ff"/>
<circle cx="1255.4" cy="461.1" r="5.8" fill="#ff00ff"/>
<circle cx="1267.2" cy="547.8" r="5.8" fill="#ff00ff"/>
<circle cx="1279.5" cy="651.4" r="5.8" fill="#ff00ff"/>
<circle cx="1293.9" cy="774.9" r="5.8" fill="#ff00ff"/>
<circle cx="1311" cy="921.6" r="5.8" fill="#ff00ff"/>
</g>
<g stroke="#000" stroke-width="1.25" fill="none">
<line x1="1126.5" y1="814.5" x2="1126.5" y2="820.7"/>
<line x1="1205.5" y1="814.5" x2="1205.5" y2="820.7"/>
<line x1="1285.5" y1="814.5" x2="1285.5" y2="820.7"/>
<line x1="1364.5" y1="814.5" x2="1364.5" y2="820.7"/>
<line x1="1444.5" y1="814.5" x2="1444.5" y2="820.7"/>
<line x1="1066.3" y1="19.5" x2="1072.5" y2="19.5"/>
<line x1="1066.3" y1="68.5" x2="1072.5" y2="68.5"/>
<line x1="1066.3" y1="118.5" x2="1072.5" y2="118.5"/>
<line x1="1066.3" y1="168.5" x2="1072.5" y2="168.5"/>
<line x1="1066.3" y1="217.5" x2="1072.5" y2="217.5"/>
<line x1="1066.3" y1="267.5" x2="1072.5" y2="267.5"/>
<line x1="1066.3" y1="317.5" x2="1072.5" y2="317.5"/>
<line x1="1066.3" y1="367.5" x2="1072.5" y2="367.5"/>
<line x1="1066.3" y1="416.5" x2="1072.5" y2="416.5"/>
<line x1="1066.3" y1="466.5" x2="1072.5" y2="466.5"/>
<line x1="1066.3" y1="516.5" x2="1072.5" y2="516.5"/>
<line x1="1066.3" y1="566.5" x2="1072.5" y2="566.5"/>
<line x1="1066.3" y1="615.5" x2="1072.5" y2="615.5"/>
<line x1="1066.3" y1="665.5" x2="1072.5" y2="665.5"/>
<line x1="1066.3" y1="715.5" x2="1072.5" y2="715.5"/>
<line x1="1066.3" y1="765.5" x2="1072.5" y2="765.5"/>
<rect x="1072.5" y="19.5" width="402" height="795" stroke-linejoin="miter"/>
</g>
<g font-size="16.65" fill="#000">
<text transform="translate(75.2,25.8) scale(1,1.06)" text-anchor="end">0</text>
<text transform="translate(75.2,75.6) scale(1,1.06)" text-anchor="end">25</text>
<text transform="translate(75.2,125.3) scale(1,1.06)" text-anchor="end">50</text>
<text transform="translate(75.2,175) scale(1,1.06)" text-anchor="end">75</text>
<text transform="translate(75.2,224.8) scale(1,1.06)" text-anchor="end">100</text>
<text transform="translate(75.2,274.5) scale(1,1.06)" text-anchor="end">125</text>
<text transform="translate(75.2,324.2) scale(1,1.06)" text-anchor="end">150</text>
<text transform="translate(75.2,374) scale(1,1.06)" text-anchor="end">175</text>
<text transform="translate(75.2,423.7) scale(1,1.06)" text-anchor="end">200</text>
<text transform="translate(75.2,473.5) scale(1,1.06)" text-anchor="end">225</text>
<text transform="translate(75.2,523.2) scale(1,1.06)" text-anchor="end">250</text>
<text transform="translate(75.2,572.9) scale(1,1.06)" text-anchor="end">275</text>
<text transform="translate(75.2,622.7) scale(1,1.06)" text-anchor="end">300</text>
<text transform="translate(75.2,672.4) scale(1,1.06)" text-anchor="end">325</text>
<text transform="translate(75.2,722.1) scale(1,1.06)" text-anchor="end">350</text>
<text transform="translate(75.2,771.9) scale(1,1.06)" text-anchor="end">375</text>
<text transform="translate(90.2,841.9) scale(1,1.06)" text-anchor="middle">5</text>
<text transform="translate(175.2,841.9) scale(1,1.06)" text-anchor="middle">10</text>
<text transform="translate(259.2,841.9) scale(1,1.06)" text-anchor="middle">15</text>
<text transform="translate(344.2,841.9) scale(1,1.06)" text-anchor="middle">20</text>
<text transform="translate(428.2,841.9) scale(1,1.06)" text-anchor="middle">25</text>
<text transform="translate(619.7,841.9) scale(1,1.06)" text-anchor="middle">35.0</text>
<text transform="translate(702.7,841.9) scale(1,1.06)" text-anchor="middle">35.5</text>
<text transform="translate(785.7,841.9) scale(1,1.06)" text-anchor="middle">36.0</text>
<text transform="translate(867.7,841.9) scale(1,1.06)" text-anchor="middle">36.5</text>
<text transform="translate(950.7,841.9) scale(1,1.06)" text-anchor="middle">37.0</text>
<text transform="translate(1124.9,850.3) rotate(-45) scale(1,1.06)" text-anchor="middle" dy="6.1">1024</text>
<text transform="translate(1203.9,850.3) rotate(-45) scale(1,1.06)" text-anchor="middle" dy="6.1">1026</text>
<text transform="translate(1283.9,850.3) rotate(-45) scale(1,1.06)" text-anchor="middle" dy="6.1">1028</text>
<text transform="translate(1362.9,850.3) rotate(-45) scale(1,1.06)" text-anchor="middle" dy="6.1">1030</text>
<text transform="translate(1442.9,850.3) rotate(-45) scale(1,1.06)" text-anchor="middle" dy="6.1">1032</text>
</g>
<g font-size="22.6" font-weight="bold" fill="#000">
<text transform="translate(30,418.4) rotate(-90)" text-anchor="middle">Depth (m)</text>
<text x="288.6" y="872" text-anchor="middle" style="font-kerning:none">Temperature (<tspan font-style="italic" font-weight="normal" font-size="15.8" dy="-8.2">o</tspan><tspan font-style="italic" font-weight="normal" dy="8.2">C</tspan>)</text>
<text x="780.7" y="869.6" text-anchor="middle" letter-spacing="-0.18">Salinity</text>
<text x="1272.5" y="895.6" text-anchor="middle">Density (kg m-3)</text>
</g>
<text x="343.4" y="917.8" font-size="17.33" font-style="italic" xml:space="preserve" style="white-space:pre">Ocean Heat Content (kJ/cm^2) - Glider: 28.6159,  RTOFS: 30.4657,  ESPC: 30.0807,  CMEMS: 24.8660, </text>
<g font-size="22.6" font-weight="bold" fill="#000">
<text x="1524.2" y="36.5">Comparison Date: 2025-09-15</text>
<text x="1524.2" y="89.9">Glider: ng738</text>
<text x="1524.2" y="116.5">Profiles: 11</text>
<text x="1524.2" y="143.2">First: 2025-09-15 01:04:41</text>
<text x="1524.2" y="169.9">Last: 2025-09-15 21:54:00</text>
<text x="1524.2" y="196.6">Method: Nearest-Neighbor</text>
</g>
<clipPath id="mapclip"><rect x="1563.8" y="273.6" width="402.7" height="285.7"/></clipPath>
<rect x="1564.5" y="274.4" width="402" height="284.9" fill="#97b6e1"/>
<g clip-path="url(#mapclip)">
<polygon points="1559.5,269.4 1707.1,273.2 1708.6,276.8 1709.8,279.7 1710.5,284.4 1710.1,289.7 1709,295 1705.3,294.6 1701.2,296.8 1697.7,299.7 1694.2,303.3 1690.6,307.5 1686.6,313.5 1684.1,311.1 1681.2,310.5 1677.7,309.9 1674.7,309 1672.7,307.2 1671.2,309.9 1668.2,312.2 1665.3,314 1662.4,316.9 1660,319.6 1659.4,322 1657.1,325.1 1655.5,328.4 1654.6,332.4 1653.3,331.2 1651.3,330 1648.1,330.2 1644.9,330.8 1641.4,331.8 1638.5,333.2 1635.3,335.6 1632.1,338.9 1629.8,342.1 1628.1,345.3 1626.9,348.5 1625.3,352 1622.4,354.3 1619.2,356.5 1615.2,358.9 1611.2,361.3 1607.2,364.6 1603.2,367.8 1599.2,370.2 1595.1,372.6 1592.3,375.8 1589.5,379 1586.5,382.2 1583.9,385.4 1581.7,389.4 1579.9,393.5 1578.4,397.5 1577.5,401.5 1576.5,405.5 1575.9,409.5 1576.4,412.7 1576.8,405.1 1576.5,410.9 1576.8,417.3 1577.8,423.7 1579.8,431.9 1582.3,440 1585.4,448.2 1588.7,456.4 1591.4,462.8 1592.9,467 1596.5,469.2 1597.2,472.4 1595,474.3 1596,480.1 1598.3,486.5 1600.5,492.8 1602.9,498.3 1605.1,503.7 1606.9,508.3 1607.8,512.9 1608.1,520.1 1607.8,527.4 1607.1,533.8 1606,540.2 1604.7,544.7 1603.2,549.3 1601.2,553.3 1598.7,556.5 1596,558.7 1592.3,560.2 1589.6,558 1587.4,555.1 1585,552 1583.8,547.1 1582.3,543.8 1579.6,541.6 1576.8,540.2 1572.8,537.6 1569.6,534.7 1567.4,530.1 1565.9,525.6 1566.6,521.6 1567.7,518.7 1565.6,517.2 1563.4,516.5 1559.5,516.5" fill="#d2b48c" stroke="none"/>
<polygon points="1687.7,295.6 1688.9,293.3 1691.8,293.7 1695.3,293.2 1698.3,291.6 1701.2,288.4 1703.6,285 1705.3,282.1 1706.6,280.8 1708.4,282.7 1709.2,285.6 1708.8,289.7 1707.2,292.7 1703.6,294.2 1700,296.2 1696.5,298.9 1693.9,301 1691.2,300.5 1688.3,299 1685.9,300.5 1685.3,298" fill="#97b6e1"/>
<g fill="none" stroke="#97b6e1" stroke-width="1.9" stroke-linejoin="round" stroke-linecap="round">
<polyline points="1598.4,273 1599.2,278.6 1601.6,283.5 1606.4,290.7 1608,296.3 1610.4,300.3 1611.5,305.9 1612.8,311.6 1615.7,318.8 1619.2,326 1622.4,331.6 1625.6,335.6 1628.9,340.5"/>
<polyline points="1623.2,273 1626.5,278.6 1630.5,284.3 1634.5,289.1 1638.5,294.7 1635.3,297.9 1634.5,301.9 1635.3,305.9 1636.9,308.4 1641.7,312.8 1646.5,316.4 1651.3,319.6 1654.9,322.5"/>
<polyline points="1563,294.4 1569.5,295.8 1574.3,297.9 1575.9,305.1 1577.5,313.2 1580.4,320.4 1583.9,326 1587.1,331.6 1591.9,335.6 1597.5,340.1 1603.2,343.7 1607.2,346.9 1609.6,350.1 1610.9,354.1 1611.2,358.1"/>
<polyline points="1604.8,342.9 1610.4,344 1616,346.9 1620,348.5 1624.4,350.4"/>
<polyline points="1574.3,326.3 1579.1,326.8 1584.2,327.6"/>
<polyline points="1563,385.7 1567,389.4 1571.1,393.5 1573.9,396.3 1575.9,398.6"/>
<polyline points="1670.6,273.8 1674.6,277 1678.8,279.1 1681.8,277.7 1683.5,276.2"/>
<polyline points="1577.2,422.6 1573.2,423.3 1571.7,427.3 1571.4,432.8 1572.8,436.4 1573.2,439.1 1571.4,444.6 1572.5,448.8 1574.1,452.8 1576.1,456.8 1578.7,460.1 1581.6,462.2 1584.1,463.7 1586.7,467 1588.7,470.1 1590.3,474.3 1591.4,478.3 1591,481.5 1589.2,483 1586.9,481.2 1584.9,479"/>
</g>
<polygon points="1591,503 1595.8,508.8 1594.3,515.8 1589.9,517.6 1584.5,510.3" fill="#b8b8b8"/>
<circle cx="1580.5" cy="486.5" r="1.3" fill="#b8b8b8"/>
<circle cx="1580.1" cy="499.6" r="1.3" fill="#b8b8b8"/>
<circle cx="1572.5" cy="468.3" r="1.3" fill="#b8b8b8"/>
<g fill="none" stroke="#000" stroke-width="1.7" stroke-linejoin="round">
<polyline points="1563,296.6 1574.3,297.1 1585.5,297.6 1588.4,298.7 1590.3,301.1 1591.6,305.9 1603.2,306.4 1616.8,307.1 1627.3,318 1640.1,331.2"/>
<polyline points="1563,340.1 1567.8,346.1 1574.3,353.3 1577.5,361.3 1580.7,367.8 1582.6,373.4 1584.7,377.4 1587.1,379.8 1589.5,380.9"/>
<polyline points="1563.4,411.6 1567,413.1 1569.6,413.7 1573.2,414.2 1576.1,413.8"/>
</g>
<g fill="none" stroke="#000" stroke-width="2.5" stroke-linejoin="round" stroke-linecap="round">
<polyline points="1707.1,273.2 1708.6,276.8 1709.8,279.7 1710.5,284.4 1710.1,289.7 1709,295 1705.3,294.6 1701.2,296.8 1697.7,299.7 1694.2,303.3 1690.6,307.5 1686.6,313.5 1684.1,311.1 1681.2,310.5 1677.7,309.9 1674.7,309 1672.7,307.2 1671.2,309.9 1668.2,312.2 1665.3,314 1662.4,316.9 1660,319.6 1659.4,322 1657.1,325.1 1655.5,328.4 1654.6,332.4 1653.3,331.2 1651.3,330 1648.1,330.2 1644.9,330.8 1641.4,331.8 1638.5,333.2 1635.3,335.6 1632.1,338.9 1629.8,342.1 1628.1,345.3 1626.9,348.5 1625.3,352 1622.4,354.3 1619.2,356.5 1615.2,358.9 1611.2,361.3 1607.2,364.6 1603.2,367.8 1599.2,370.2 1595.1,372.6 1592.3,375.8 1589.5,379 1586.5,382.2 1583.9,385.4 1581.7,389.4 1579.9,393.5 1578.4,397.5 1577.5,401.5 1576.5,405.5 1575.9,409.5 1576.4,412.7"/>
<polyline points="1576.8,405.1 1576.5,410.9 1576.8,417.3 1577.8,423.7 1579.8,431.9 1582.3,440 1585.4,448.2 1588.7,456.4 1591.4,462.8 1592.9,467 1596.5,469.2 1597.2,472.4 1595,474.3 1596,480.1 1598.3,486.5 1600.5,492.8 1602.9,498.3 1605.1,503.7 1606.9,508.3 1607.8,512.9 1608.1,520.1 1607.8,527.4 1607.1,533.8 1606,540.2 1604.7,544.7 1603.2,549.3 1601.2,553.3 1598.7,556.5 1596,558.7 1592.3,560.2 1589.6,558 1587.4,555.1 1585,552 1583.8,547.1 1582.3,543.8 1579.6,541.6 1576.8,540.2 1572.8,537.6 1569.6,534.7 1567.4,530.1 1565.9,525.6 1566.6,521.6 1567.7,518.7 1565.6,517.2 1563.4,516.5"/>
<polygon points="1675,287.4 1677.7,286.9 1682.4,288.3 1683.6,286.1 1687.7,286.3 1690.6,289 1693,290.8 1695.9,290.8 1698.3,288.6 1701.2,285.6 1703.3,283.7 1703.9,285.3 1701.2,288.3 1698.3,291.5 1695.3,293 1691.8,293.6 1689,292.9 1687.8,294.6 1685.9,295.9 1683.7,297 1683.3,294.6 1684.7,293.4 1682.4,292.8 1678.8,291 1675.9,289.3" fill="#000" stroke-width="1.2"/>
<polygon points="1675,299.7 1677.7,299.3 1680,301.4 1683.6,300.8 1685.9,299 1688.3,299.7 1691.8,301 1694.2,301 1693,303.3 1690.6,307.6 1689.4,306.5 1687.8,305.2 1687.2,303.3 1683.6,304.2 1680,304.6 1677.1,302.8" fill="#000" stroke-width="1.2"/>
<polygon points="1696,274.4 1699.3,274.4 1699.1,279.7 1698.9,284.4 1696.6,284.6 1696,282.7" fill="#000" stroke-width="1.2"/>
<polyline points="1681.2,274.8 1684.7,275.4 1687.7,275.8 1690.6,276.3 1693,276.8 1695.3,275.4 1698.9,274.9 1703.6,274.8 1707.6,274.9" stroke-width="2.2"/>
<polygon points="1681.2,274.4 1707.6,274.4 1707.6,275.5 1704.8,276.3 1703.6,278.5 1702.4,276.2 1700.6,276.8 1699.2,275.6 1695.9,275.5 1693,277.1 1689.4,276.5 1685.9,276.1 1683.6,276.5 1681.5,275.6" fill="#000" stroke-width="1"/>
<polyline points="1703.3,283.7 1703,280.9 1703.5,278.3 1705.1,277.7 1706.5,280.4" stroke-width="2"/>
<polygon points="1686.6,313.6 1690.6,307.5 1687.7,306.2 1683.6,306.2 1679.4,307.4 1674.7,308.9 1677.7,310 1681.2,310.6 1684.1,311.2" fill="#000" stroke-width="1"/>
<polygon points="1682.4,304.1 1685.9,303.4 1687.7,304.3 1687.2,305.8 1684.1,305.9 1682.4,305.3" fill="#d2b48c" stroke="none"/>
<polyline points="1624,345 1624.9,347.7 1626,349.5" stroke-width="3"/>
<polyline points="1620,355.3 1615.7,358.7 1612.4,361 1604.9,366.2 1598.4,371.5 1592.1,376.3 1588.7,379.5" stroke-width="3.4"/>
<polyline points="1590.4,368.3 1590.8,372 1592.1,373.7 1594,372.6 1595.3,370.5 1596,368.1" stroke-width="3.2"/>
<polyline points="1596.9,367.7 1597.7,370 1599.8,369 1600.7,367.5" stroke-width="2.8"/>
<polyline points="1609.9,359.8 1611,361.3" stroke-width="2.8"/>
<polyline points="1586.1,382.7 1583.1,386.7 1581,391 1579.3,396 1577.8,400.7 1576.3,405.4 1575.4,410.1" stroke-width="4.4"/>
<polyline points="1581.8,383.1 1580.3,386.1 1579.1,389.1 1578.4,392.1" stroke-width="3"/>
<polyline points="1572.8,401.5 1573.9,403.9 1574.3,406.7 1575,409.2" stroke-width="3"/>
<polyline points="1575.4,401.8 1577.8,405.1 1576.5,408.7" stroke-width="3.2"/>
<polyline points="1591.4,467.7 1593.6,471.9 1594.3,476.4 1595.8,480.1" stroke-width="3.6"/>
<polyline points="1602.7,501.9 1603.8,504.7" stroke-width="3"/>
<polyline points="1582.3,547.8 1585,553.3 1589.6,556.5 1594.1,558 1598.7,556.5 1601.6,553.3" stroke-width="5"/>
<polyline points="1565.9,520.1 1566.6,527.4 1571,536.1 1576.8,539.8 1582.3,543.1 1585,545.6" stroke-width="3.6"/>
</g>
<g fill="#000" stroke="#000" stroke-width="1.6" stroke-linejoin="round" stroke-linecap="round">
<polygon points="1630.5,515 1633.6,518.7 1637.8,520.9 1642.4,519.4 1646.9,517.9 1651.5,516.9 1655.5,515.4 1654.7,513.6 1649.6,514.7 1645.1,515.4 1643.1,512.9 1640.9,510.7 1639.1,514.7 1635.1,516.1"/>
<polygon points="1644.2,501.9 1648.2,504.1 1652.4,505.9 1656.9,507.8 1662.4,509.9 1666.9,512.9 1671.5,516.1 1675.1,518.7 1677.3,521.6 1676.2,525.6 1674.8,529.6 1672.9,533.8 1671.1,537.2 1667.9,534.3 1669.7,531.1 1671.5,527.4 1670.8,523.8 1669.3,520.5 1666.8,517.9 1663.5,515 1659.7,513.2 1656.2,512.9 1654.7,515.4 1653.7,511.8 1656.2,509.9 1652.9,508.1 1648.7,505.6"/>
<polygon points="1663.1,525.2 1664.6,527.4 1664.2,531.1 1662.8,528.5" stroke-width="2.2"/>
<polyline points="1625.6,539.4 1624.2,542.9 1624.9,546.5 1626.4,549.6 1627.4,552.2" fill="none" stroke-width="2.2"/>
<polygon points="1655.1,538 1658,541.1 1660.2,544.2 1658.7,547.8 1655.5,549.3 1653.8,546.7 1656.6,545.6 1657.3,543.1"/>
<polygon points="1649.3,550.7 1652.2,553.3 1654.4,556.2 1655.1,560.2 1651.1,560.2 1649.3,556.9 1647.5,554.7"/>
<polygon points="1663.8,557.6 1667.9,555.8 1672.4,554.7 1675.5,551.8 1678,548.2 1680.2,545.2 1683.3,545.2 1686.4,547.8 1690.1,550.3 1693.7,552.9 1696.6,555.8 1696.6,559.1 1693.7,556.9 1690.4,554.4 1686.4,551.8 1683.1,549.6 1681.7,548.5 1679.9,551.8 1677,555.4 1673.7,558 1668.8,559.1 1665.3,559.8"/>
<circle cx="1649.6" cy="508.5" r="0.8"/>
<polygon points="1945.6,374.6 1949,372.4 1952.4,370.4 1953,371.6 1949.6,374 1946.4,375.6" stroke-width="2.4"/>
</g>
<g fill="#d2b48c">
<polygon points="1640.2,516.5 1644.2,517.2 1645.3,518.7 1640.9,519"/>
<polygon points="1672.9,520.9 1674.4,522.3 1673.3,526.7 1672.2,525.6"/>
<polygon points="1650,554 1652.2,555.8 1652.6,558.4 1650.7,556.5"/>
<polygon points="1666,557.6 1671.5,556.5 1670.8,557.6 1666.8,558.7"/>
</g>
<g fill="#7f8fa8" opacity="0.8">
<circle cx="1628.7" cy="533.8" r="1.1"/>
<circle cx="1634.5" cy="534.9" r="1.1"/>
</g>
<circle cx="1723.5" cy="394.2" r="4.9" fill="#ff0000" stroke="#000" stroke-width="1.9"/>
</g>
<g stroke="#000" fill="none">
<polyline points="1707,274.4 1966.5,274.4 1966.5,559.3 1564.5,559.3 1564.5,517.5" stroke-width="1.5"/>
<line x1="1565" y1="274.4" x2="1565" y2="271.5" stroke-width="1.7"/>
<line x1="1565" y1="559.3" x2="1565" y2="562.2" stroke-width="1.7"/>
<line x1="1587.5" y1="274.4" x2="1587.5" y2="265.6" stroke-width="3.0"/>
<line x1="1587.5" y1="559.3" x2="1587.5" y2="568.1" stroke-width="3.0"/>
<line x1="1609" y1="274.4" x2="1609" y2="271.5" stroke-width="1.7"/>
<line x1="1609" y1="559.3" x2="1609" y2="562.2" stroke-width="1.7"/>
<line x1="1632" y1="274.4" x2="1632" y2="271.5" stroke-width="1.7"/>
<line x1="1632" y1="559.3" x2="1632" y2="562.2" stroke-width="1.7"/>
<line x1="1654.5" y1="274.4" x2="1654.5" y2="265.6" stroke-width="3.0"/>
<line x1="1654.5" y1="559.3" x2="1654.5" y2="568.1" stroke-width="3.0"/>
<line x1="1676" y1="274.4" x2="1676" y2="271.5" stroke-width="1.7"/>
<line x1="1676" y1="559.3" x2="1676" y2="562.2" stroke-width="1.7"/>
<line x1="1699" y1="274.4" x2="1699" y2="271.5" stroke-width="1.7"/>
<line x1="1699" y1="559.3" x2="1699" y2="562.2" stroke-width="1.7"/>
<line x1="1721.5" y1="274.4" x2="1721.5" y2="265.6" stroke-width="3.0"/>
<line x1="1721.5" y1="559.3" x2="1721.5" y2="568.1" stroke-width="3.0"/>
<line x1="1743" y1="274.4" x2="1743" y2="271.5" stroke-width="1.7"/>
<line x1="1743" y1="559.3" x2="1743" y2="562.2" stroke-width="1.7"/>
<line x1="1766" y1="274.4" x2="1766" y2="271.5" stroke-width="1.7"/>
<line x1="1766" y1="559.3" x2="1766" y2="562.2" stroke-width="1.7"/>
<line x1="1788" y1="274.4" x2="1788" y2="265.6" stroke-width="3.0"/>
<line x1="1788" y1="559.3" x2="1788" y2="568.1" stroke-width="3.0"/>
<line x1="1810" y1="274.4" x2="1810" y2="271.5" stroke-width="1.7"/>
<line x1="1810" y1="559.3" x2="1810" y2="562.2" stroke-width="1.7"/>
<line x1="1833" y1="274.4" x2="1833" y2="271.5" stroke-width="1.7"/>
<line x1="1833" y1="559.3" x2="1833" y2="562.2" stroke-width="1.7"/>
<line x1="1855" y1="274.4" x2="1855" y2="265.6" stroke-width="3.0"/>
<line x1="1855" y1="559.3" x2="1855" y2="568.1" stroke-width="3.0"/>
<line x1="1877" y1="274.4" x2="1877" y2="271.5" stroke-width="1.7"/>
<line x1="1877" y1="559.3" x2="1877" y2="562.2" stroke-width="1.7"/>
<line x1="1900" y1="274.4" x2="1900" y2="271.5" stroke-width="1.7"/>
<line x1="1900" y1="559.3" x2="1900" y2="562.2" stroke-width="1.7"/>
<line x1="1921.5" y1="274.4" x2="1921.5" y2="265.6" stroke-width="3.0"/>
<line x1="1921.5" y1="559.3" x2="1921.5" y2="568.1" stroke-width="3.0"/>
<line x1="1944" y1="274.4" x2="1944" y2="271.5" stroke-width="1.7"/>
<line x1="1944" y1="559.3" x2="1944" y2="562.2" stroke-width="1.7"/>
<line x1="1967" y1="274.4" x2="1967" y2="271.5" stroke-width="1.7"/>
<line x1="1967" y1="559.3" x2="1967" y2="562.2" stroke-width="1.7"/>
<line x1="1564.5" y1="559.1" x2="1561.6" y2="559.1" stroke-width="1.7"/>
<line x1="1966.5" y1="559.1" x2="1969.5" y2="559.1" stroke-width="1.7"/>
<line x1="1564.5" y1="534.4" x2="1561.6" y2="534.4" stroke-width="1.7"/>
<line x1="1966.5" y1="534.4" x2="1969.5" y2="534.4" stroke-width="1.7"/>
<line x1="1564.5" y1="509.6" x2="1555.8" y2="509.6" stroke-width="3.0"/>
<line x1="1966.5" y1="509.6" x2="1975.9" y2="509.6" stroke-width="3.0"/>
<line x1="1564.5" y1="484.5" x2="1561.6" y2="484.5" stroke-width="1.7"/>
<line x1="1966.5" y1="484.5" x2="1969.5" y2="484.5" stroke-width="1.7"/>
<line x1="1564.5" y1="459.2" x2="1561.6" y2="459.2" stroke-width="1.7"/>
<line x1="1966.5" y1="459.2" x2="1969.5" y2="459.2" stroke-width="1.7"/>
<line x1="1564.5" y1="433.6" x2="1555.8" y2="433.6" stroke-width="3.0"/>
<line x1="1966.5" y1="433.6" x2="1975.9" y2="433.6" stroke-width="3.0"/>
<line x1="1564.5" y1="407.8" x2="1561.6" y2="407.8" stroke-width="1.7"/>
<line x1="1966.5" y1="407.8" x2="1969.5" y2="407.8" stroke-width="1.7"/>
<line x1="1564.5" y1="381.7" x2="1561.6" y2="381.7" stroke-width="1.7"/>
<line x1="1966.5" y1="381.7" x2="1969.5" y2="381.7" stroke-width="1.7"/>
<line x1="1564.5" y1="355.4" x2="1555.8" y2="355.4" stroke-width="3.0"/>
<line x1="1966.5" y1="355.4" x2="1975.9" y2="355.4" stroke-width="3.0"/>
<line x1="1564.5" y1="328.7" x2="1561.6" y2="328.7" stroke-width="1.7"/>
<line x1="1966.5" y1="328.7" x2="1969.5" y2="328.7" stroke-width="1.7"/>
<line x1="1564.5" y1="301.7" x2="1561.6" y2="301.7" stroke-width="1.7"/>
<line x1="1966.5" y1="301.7" x2="1969.5" y2="301.7" stroke-width="1.7"/>
<line x1="1564.5" y1="274.4" x2="1555.8" y2="274.4" stroke-width="3.0"/>
<line x1="1966.5" y1="274.4" x2="1975.9" y2="274.4" stroke-width="3.0"/>
</g>
<g font-size="22.3" fill="#000">
<text transform="translate(1549.6,519.3) scale(1,1.05)" text-anchor="end">27°N</text>
<text transform="translate(1549.6,443.3) scale(1,1.05)" text-anchor="end">30°N</text>
<text transform="translate(1549.6,365.1) scale(1,1.05)" text-anchor="end">33°N</text>
<text transform="translate(1549.6,284.1) scale(1,1.05)" text-anchor="end">36°N</text>
<text transform="translate(1584.9,603.8) rotate(-45)" text-anchor="middle" dy="8.2" font-size="22.1">81°W</text>
<text transform="translate(1651.9,603.8) rotate(-45)" text-anchor="middle" dy="8.2" font-size="22.1">78°W</text>
<text transform="translate(1718.9,603.8) rotate(-45)" text-anchor="middle" dy="8.2" font-size="22.1">75°W</text>
<text transform="translate(1785.9,603.8) rotate(-45)" text-anchor="middle" dy="8.2" font-size="22.1">72°W</text>
<text transform="translate(1852.9,603.8) rotate(-45)" text-anchor="middle" dy="8.2" font-size="22.1">69°W</text>
<text transform="translate(1919.9,603.8) rotate(-45)" text-anchor="middle" dy="8.2" font-size="22.1">66°W</text>
</g>
<rect x="1683.1" y="652.7" width="164.9" height="143.8" rx="3.6" fill="#fff" fill-opacity="0.8" stroke="#cccccc" stroke-width="1.4"/>
<g font-size="22.6" fill="#000">
<line x1="1691.3" y1="672.4" x2="1738.8" y2="672.4" stroke="#0000ff" stroke-width="2.8"/>
<circle cx="1714.7" cy="672.4" r="5.85" fill="#0000ff"/>
<text x="1755.1" y="681.1">ng738</text>
<line x1="1691.3" y1="706.4" x2="1738.8" y2="706.4" stroke="#ff0000" stroke-width="2.8"/>
<circle cx="1714.7" cy="706.4" r="5.85" fill="#ff0000"/>
<text x="1755.1" y="715.3">RTOFS</text>
<line x1="1691.3" y1="740.3" x2="1738.8" y2="740.3" stroke="#008000" stroke-width="2.8"/>
<circle cx="1714.7" cy="740.3" r="5.85" fill="#008000"/>
<text x="1755.1" y="749.2">ESPC</text>
<line x1="1691.3" y1="775.1" x2="1738.8" y2="775.1" stroke="#ff00ff" stroke-width="2.8"/>
<circle cx="1714.7" cy="775.1" r="5.85" fill="#ff00ff"/>
<text x="1755.1" y="784.1">CMEMS</text>
</g>
</svg>
</body></html>
